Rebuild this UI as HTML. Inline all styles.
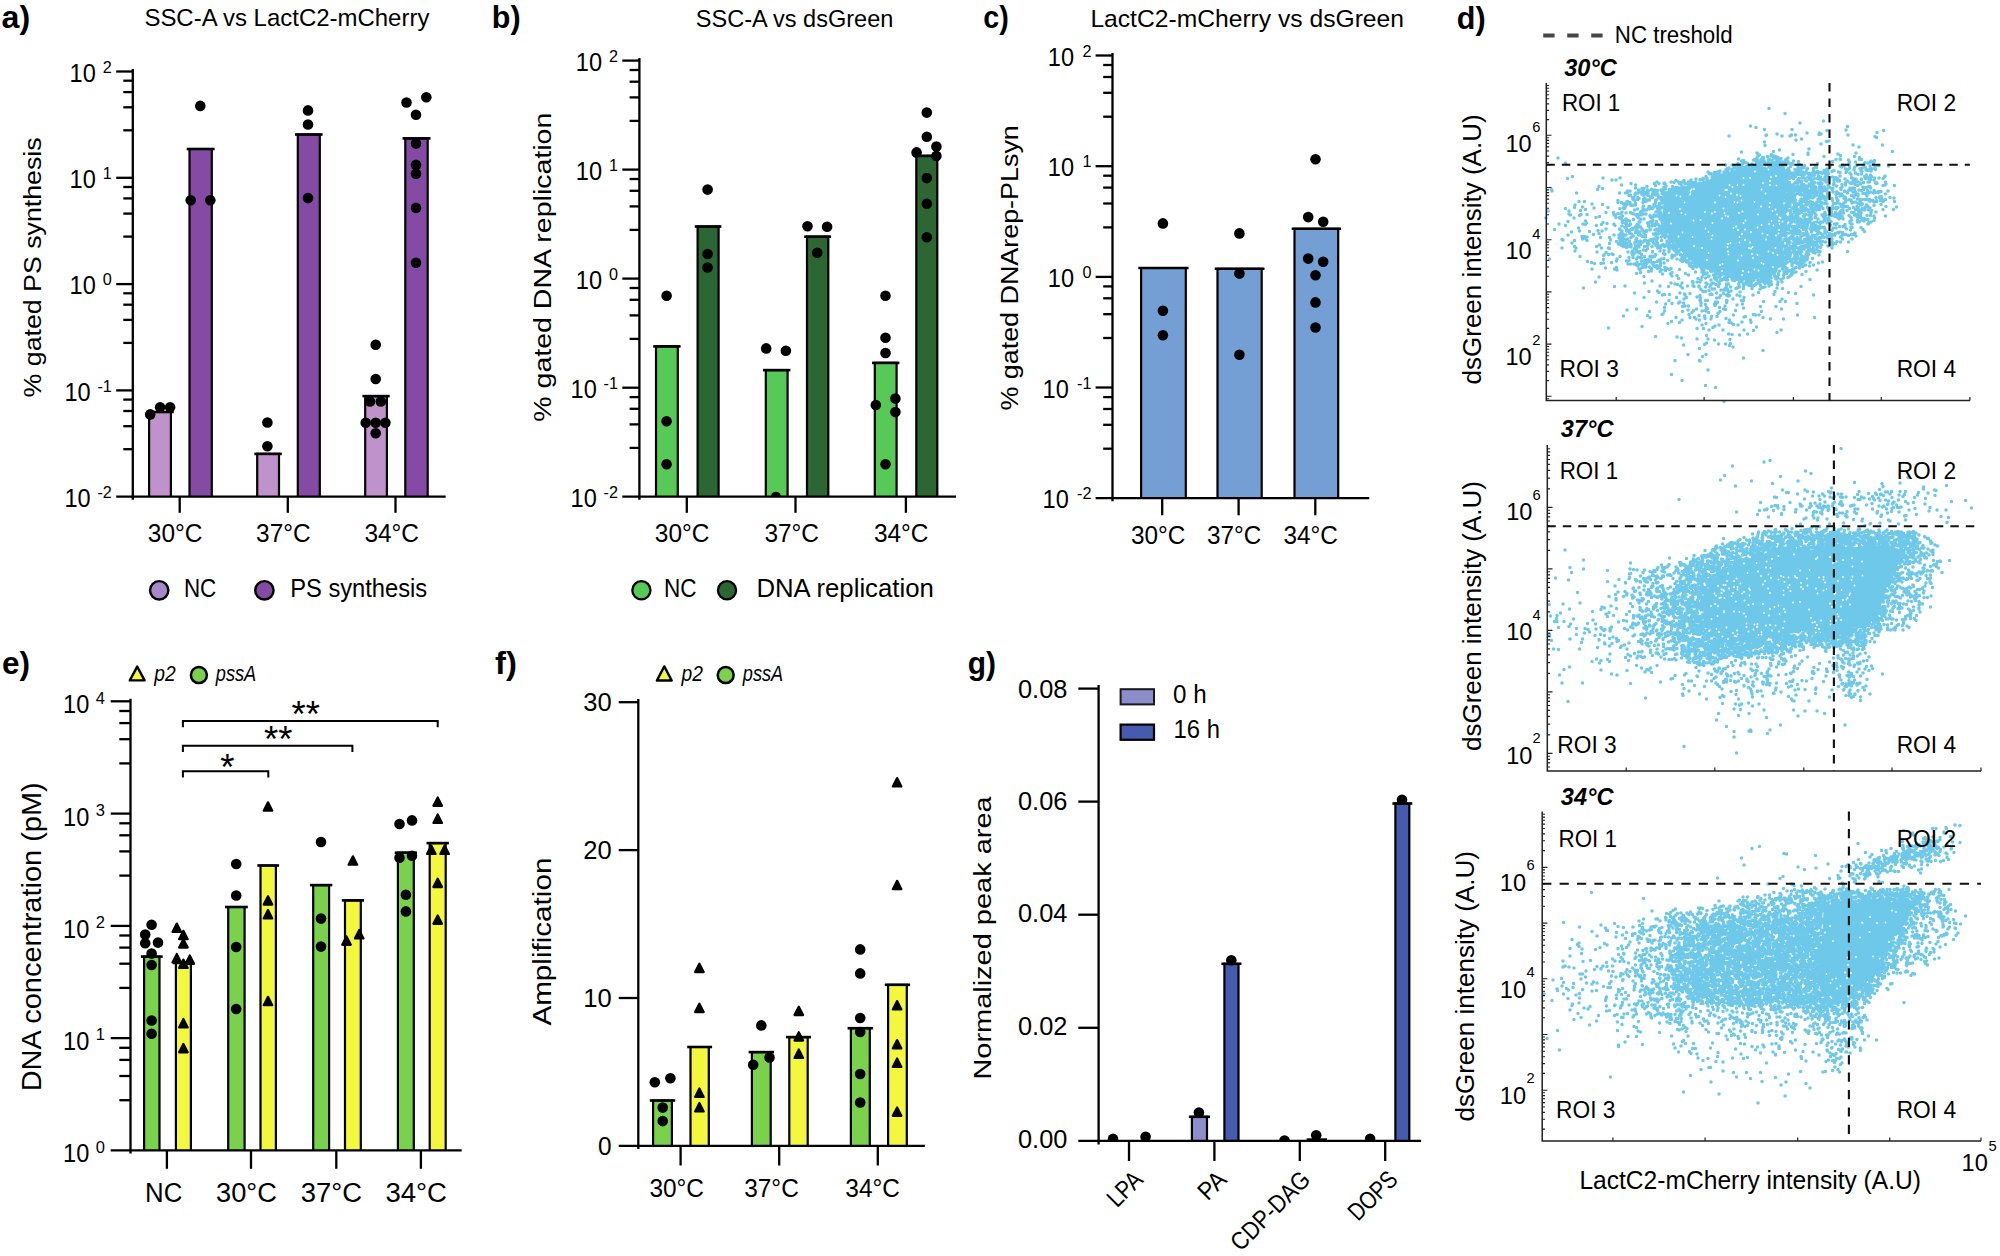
<!DOCTYPE html>
<html lang="en"><head><meta charset="utf-8"><title>Figure</title>
<style>html,body{margin:0;padding:0;background:#fff}svg{display:block}text{font-family:"Liberation Sans",sans-serif;fill:#000}</style>
</head><body>
<svg width="2000" height="1256" viewBox="0 0 2000 1256">
<rect width="2000" height="1256" fill="#fff"/>
<g id="pa">
<text x="1.6" y="27.6" font-size="32" textLength="28.6" lengthAdjust="spacingAndGlyphs" font-weight="bold">a)</text>
<text x="144.4" y="25.8" font-size="24.4" textLength="285" lengthAdjust="spacingAndGlyphs">SSC-A vs LactC2-mCherry</text>
<text x="40.8" y="397.4" font-size="24.4" textLength="260" lengthAdjust="spacingAndGlyphs" transform="rotate(-90 40.8 397.4)">% gated PS synthesis</text>
<path d="M149.1 496.7L149.1 412L170.9 412L170.9 496.7" fill="#c092cb" stroke="#000" stroke-width="2.2"/>
<path d="M146.3 412L173.7 412" stroke="#000" stroke-width="2.6" fill="none"/>
<path d="M189.5 496.7L189.5 149L211.8 149L211.8 496.7" fill="#854ba4" stroke="#000" stroke-width="2.2"/>
<path d="M186.7 149L214.6 149" stroke="#000" stroke-width="2.6" fill="none"/>
<path d="M257.2 496.7L257.2 453.9L279 453.9L279 496.7" fill="#c092cb" stroke="#000" stroke-width="2.2"/>
<path d="M254.4 453.9L281.8 453.9" stroke="#000" stroke-width="2.6" fill="none"/>
<path d="M297.8 496.7L297.8 134.5L319.8 134.5L319.8 496.7" fill="#854ba4" stroke="#000" stroke-width="2.2"/>
<path d="M295 134.5L322.6 134.5" stroke="#000" stroke-width="2.6" fill="none"/>
<path d="M365.2 496.7L365.2 396.1L386.9 396.1L386.9 496.7" fill="#c092cb" stroke="#000" stroke-width="2.2"/>
<path d="M362.4 396.1L389.7 396.1" stroke="#000" stroke-width="2.6" fill="none"/>
<path d="M405.3 496.7L405.3 138.4L427.7 138.4L427.7 496.7" fill="#854ba4" stroke="#000" stroke-width="2.2"/>
<path d="M402.5 138.4L430.5 138.4" stroke="#000" stroke-width="2.6" fill="none"/>
<path d="M132.8 68.9L132.8 499.7" stroke="#000" stroke-width="2.3" fill="none"/>
<path d="M116.2 496.7L445.7 496.7" stroke="#000" stroke-width="2.3" fill="none"/>
<path d="M116.2 71.5L132.8 71.5" stroke="#000" stroke-width="2.3" fill="none"/>
<path d="M123.3 130.3L132.8 130.3" stroke="#000" stroke-width="2.3" fill="none"/>
<path d="M123.3 107.3L132.8 107.3" stroke="#000" stroke-width="2.3" fill="none"/>
<path d="M123.3 92.1L132.8 92.1" stroke="#000" stroke-width="2.3" fill="none"/>
<path d="M123.3 80.7L132.8 80.7" stroke="#000" stroke-width="2.3" fill="none"/>
<text x="111.8" y="72.7" font-size="16.2" text-anchor="end">2</text>
<text x="95.8" y="81.7" font-size="25" text-anchor="end" textLength="26.2" lengthAdjust="spacingAndGlyphs">10</text>
<path d="M116.2 177.8L132.8 177.8" stroke="#000" stroke-width="2.3" fill="none"/>
<path d="M123.3 236.6L132.8 236.6" stroke="#000" stroke-width="2.3" fill="none"/>
<path d="M123.3 213.6L132.8 213.6" stroke="#000" stroke-width="2.3" fill="none"/>
<path d="M123.3 198.4L132.8 198.4" stroke="#000" stroke-width="2.3" fill="none"/>
<path d="M123.3 187L132.8 187" stroke="#000" stroke-width="2.3" fill="none"/>
<text x="111.8" y="179" font-size="16.2" text-anchor="end">1</text>
<text x="95.8" y="188" font-size="25" text-anchor="end" textLength="26.2" lengthAdjust="spacingAndGlyphs">10</text>
<path d="M116.2 284.1L132.8 284.1" stroke="#000" stroke-width="2.3" fill="none"/>
<path d="M123.3 342.9L132.8 342.9" stroke="#000" stroke-width="2.3" fill="none"/>
<path d="M123.3 319.9L132.8 319.9" stroke="#000" stroke-width="2.3" fill="none"/>
<path d="M123.3 304.7L132.8 304.7" stroke="#000" stroke-width="2.3" fill="none"/>
<path d="M123.3 293.3L132.8 293.3" stroke="#000" stroke-width="2.3" fill="none"/>
<text x="111.8" y="285.3" font-size="16.2" text-anchor="end">0</text>
<text x="95.8" y="294.3" font-size="25" text-anchor="end" textLength="26.2" lengthAdjust="spacingAndGlyphs">10</text>
<path d="M116.2 390.4L132.8 390.4" stroke="#000" stroke-width="2.3" fill="none"/>
<path d="M123.3 449.2L132.8 449.2" stroke="#000" stroke-width="2.3" fill="none"/>
<path d="M123.3 426.2L132.8 426.2" stroke="#000" stroke-width="2.3" fill="none"/>
<path d="M123.3 411L132.8 411" stroke="#000" stroke-width="2.3" fill="none"/>
<path d="M123.3 399.6L132.8 399.6" stroke="#000" stroke-width="2.3" fill="none"/>
<text x="111.8" y="391.6" font-size="16.2" text-anchor="end">-1</text>
<text x="90.6" y="400.6" font-size="25" text-anchor="end" textLength="26.2" lengthAdjust="spacingAndGlyphs">10</text>
<text x="111.8" y="497.9" font-size="16.2" text-anchor="end">-2</text>
<text x="90.6" y="506.9" font-size="25" text-anchor="end" textLength="26.2" lengthAdjust="spacingAndGlyphs">10</text>
<path d="M179.7 496.7L179.7 512.8" stroke="#000" stroke-width="2.3" fill="none"/>
<path d="M287.8 496.7L287.8 512.8" stroke="#000" stroke-width="2.3" fill="none"/>
<path d="M395.5 496.7L395.5 512.8" stroke="#000" stroke-width="2.3" fill="none"/>
<circle cx="150.2" cy="414.4" r="5.3"/>
<circle cx="160.1" cy="407.3" r="5.3"/>
<circle cx="170.1" cy="407.3" r="5.3"/>
<circle cx="267.4" cy="422.5" r="5.3"/>
<circle cx="267.4" cy="446.2" r="5.3"/>
<circle cx="375.7" cy="344.8" r="5.3"/>
<circle cx="375.7" cy="379" r="5.3"/>
<circle cx="370" cy="401.4" r="5.3"/>
<circle cx="380.8" cy="401.4" r="5.3"/>
<circle cx="365.7" cy="422.8" r="5.3"/>
<circle cx="375.7" cy="422.8" r="5.3"/>
<circle cx="385.4" cy="422.8" r="5.3"/>
<circle cx="375.7" cy="433.2" r="5.3"/>
<circle cx="200.3" cy="105.9" r="5.3"/>
<circle cx="190.7" cy="200.2" r="5.3"/>
<circle cx="210.3" cy="200.2" r="5.3"/>
<circle cx="308" cy="110.4" r="5.3"/>
<circle cx="308" cy="124.5" r="5.3"/>
<circle cx="308" cy="198.1" r="5.3"/>
<circle cx="406.5" cy="102.5" r="5.3"/>
<circle cx="426.3" cy="97.3" r="5.3"/>
<circle cx="416" cy="114.7" r="5.3"/>
<circle cx="416" cy="143.6" r="5.3"/>
<circle cx="416" cy="164.9" r="5.3"/>
<circle cx="416" cy="173.7" r="5.3"/>
<circle cx="416" cy="207.9" r="5.3"/>
<circle cx="416" cy="262.8" r="5.3"/>
<text x="147.8" y="541.5" font-size="25" textLength="54.6" lengthAdjust="spacingAndGlyphs">30°C</text>
<text x="256.1" y="541.5" font-size="25" textLength="54.6" lengthAdjust="spacingAndGlyphs">37°C</text>
<text x="364.4" y="541.5" font-size="25" textLength="54.6" lengthAdjust="spacingAndGlyphs">34°C</text>
<circle cx="159.2" cy="590.3" r="9.2" fill="#a488c9" stroke="#000" stroke-width="2.4"/>
<text x="183.9" y="597.2" font-size="25" textLength="32.4" lengthAdjust="spacingAndGlyphs">NC</text>
<circle cx="264.4" cy="590.3" r="9.2" fill="#854ba4" stroke="#000" stroke-width="2.4"/>
<text x="290.2" y="597.2" font-size="25" textLength="137" lengthAdjust="spacingAndGlyphs">PS synthesis</text>
</g>
<g id="pb">
<text x="491.8" y="27.6" font-size="32" textLength="28.8" lengthAdjust="spacingAndGlyphs" font-weight="bold">b)</text>
<text x="695.8" y="26.6" font-size="24.4" textLength="197.6" lengthAdjust="spacingAndGlyphs">SSC-A vs dsGreen</text>
<text x="551" y="421.7" font-size="24.4" textLength="309" lengthAdjust="spacingAndGlyphs" transform="rotate(-90 551 421.7)">% gated DNA replication</text>
<path d="M656 496.7L656 346.4L677.8 346.4L677.8 496.7" fill="#57c956" stroke="#000" stroke-width="2.2"/>
<path d="M653.2 346.4L680.6 346.4" stroke="#000" stroke-width="2.6" fill="none"/>
<path d="M697.6 496.7L697.6 226.5L718.6 226.5L718.6 496.7" fill="#2c6733" stroke="#000" stroke-width="2.2"/>
<path d="M694.8 226.5L721.4 226.5" stroke="#000" stroke-width="2.6" fill="none"/>
<path d="M765.8 496.7L765.8 370.1L787.6 370.1L787.6 496.7" fill="#57c956" stroke="#000" stroke-width="2.2"/>
<path d="M763 370.1L790.4 370.1" stroke="#000" stroke-width="2.6" fill="none"/>
<path d="M807 496.7L807 236.7L828.3 236.7L828.3 496.7" fill="#2c6733" stroke="#000" stroke-width="2.2"/>
<path d="M804.2 236.7L831.1 236.7" stroke="#000" stroke-width="2.6" fill="none"/>
<path d="M874.8 496.7L874.8 362.9L896.6 362.9L896.6 496.7" fill="#57c956" stroke="#000" stroke-width="2.2"/>
<path d="M872 362.9L899.4 362.9" stroke="#000" stroke-width="2.6" fill="none"/>
<path d="M916.3 496.7L916.3 155.9L937.3 155.9L937.3 496.7" fill="#2c6733" stroke="#000" stroke-width="2.2"/>
<path d="M913.5 155.9L940.1 155.9" stroke="#000" stroke-width="2.6" fill="none"/>
<path d="M770.9 496.7A5 5 0 0 1 780.9 496.7Z"/>
<path d="M639.4 58.1L639.4 499.7" stroke="#000" stroke-width="2.3" fill="none"/>
<path d="M622.3 496.7L956 496.7" stroke="#000" stroke-width="2.3" fill="none"/>
<path d="M622.3 60.6L639.4 60.6" stroke="#000" stroke-width="2.3" fill="none"/>
<path d="M629.6 120.9L639.4 120.9" stroke="#000" stroke-width="2.3" fill="none"/>
<path d="M629.6 97.4L639.4 97.4" stroke="#000" stroke-width="2.3" fill="none"/>
<path d="M629.6 81.7L639.4 81.7" stroke="#000" stroke-width="2.3" fill="none"/>
<path d="M629.6 70L639.4 70" stroke="#000" stroke-width="2.3" fill="none"/>
<text x="618" y="61.8" font-size="16.2" text-anchor="end">2</text>
<text x="602" y="70.8" font-size="25" text-anchor="end" textLength="26.2" lengthAdjust="spacingAndGlyphs">10</text>
<path d="M622.3 169.6L639.4 169.6" stroke="#000" stroke-width="2.3" fill="none"/>
<path d="M629.6 229.9L639.4 229.9" stroke="#000" stroke-width="2.3" fill="none"/>
<path d="M629.6 206.4L639.4 206.4" stroke="#000" stroke-width="2.3" fill="none"/>
<path d="M629.6 190.8L639.4 190.8" stroke="#000" stroke-width="2.3" fill="none"/>
<path d="M629.6 179L639.4 179" stroke="#000" stroke-width="2.3" fill="none"/>
<text x="618" y="170.8" font-size="16.2" text-anchor="end">1</text>
<text x="602" y="179.8" font-size="25" text-anchor="end" textLength="26.2" lengthAdjust="spacingAndGlyphs">10</text>
<path d="M622.3 278.6L639.4 278.6" stroke="#000" stroke-width="2.3" fill="none"/>
<path d="M629.6 338.9L639.4 338.9" stroke="#000" stroke-width="2.3" fill="none"/>
<path d="M629.6 315.4L639.4 315.4" stroke="#000" stroke-width="2.3" fill="none"/>
<path d="M629.6 299.8L639.4 299.8" stroke="#000" stroke-width="2.3" fill="none"/>
<path d="M629.6 288L639.4 288" stroke="#000" stroke-width="2.3" fill="none"/>
<text x="618" y="279.8" font-size="16.2" text-anchor="end">0</text>
<text x="602" y="288.8" font-size="25" text-anchor="end" textLength="26.2" lengthAdjust="spacingAndGlyphs">10</text>
<path d="M622.3 387.7L639.4 387.7" stroke="#000" stroke-width="2.3" fill="none"/>
<path d="M629.6 447.9L639.4 447.9" stroke="#000" stroke-width="2.3" fill="none"/>
<path d="M629.6 424.4L639.4 424.4" stroke="#000" stroke-width="2.3" fill="none"/>
<path d="M629.6 408.8L639.4 408.8" stroke="#000" stroke-width="2.3" fill="none"/>
<path d="M629.6 397.1L639.4 397.1" stroke="#000" stroke-width="2.3" fill="none"/>
<text x="618" y="388.9" font-size="16.2" text-anchor="end">-1</text>
<text x="596.8" y="397.9" font-size="25" text-anchor="end" textLength="26.2" lengthAdjust="spacingAndGlyphs">10</text>
<text x="618" y="497.9" font-size="16.2" text-anchor="end">-2</text>
<text x="596.8" y="506.9" font-size="25" text-anchor="end" textLength="26.2" lengthAdjust="spacingAndGlyphs">10</text>
<path d="M686.8 496.7L686.8 512.8" stroke="#000" stroke-width="2.3" fill="none"/>
<path d="M795.5 496.7L795.5 512.8" stroke="#000" stroke-width="2.3" fill="none"/>
<path d="M905.9 496.7L905.9 512.8" stroke="#000" stroke-width="2.3" fill="none"/>
<circle cx="666.6" cy="295.8" r="5.3"/>
<circle cx="666.6" cy="421.3" r="5.3"/>
<circle cx="666.6" cy="464.3" r="5.3"/>
<circle cx="766.2" cy="348.4" r="5.3"/>
<circle cx="785.9" cy="350.7" r="5.3"/>
<circle cx="885.5" cy="295.8" r="5.3"/>
<circle cx="885.5" cy="337.7" r="5.3"/>
<circle cx="885.5" cy="353" r="5.3"/>
<circle cx="875.8" cy="405" r="5.3"/>
<circle cx="895.4" cy="398.6" r="5.3"/>
<circle cx="895.4" cy="412.1" r="5.3"/>
<circle cx="885.5" cy="464.3" r="5.3"/>
<circle cx="707.6" cy="189.6" r="5.3"/>
<circle cx="707.6" cy="254" r="5.3"/>
<circle cx="707.6" cy="267.5" r="5.3"/>
<circle cx="807.5" cy="226.2" r="5.3"/>
<circle cx="827.1" cy="226.8" r="5.3"/>
<circle cx="817.2" cy="252.7" r="5.3"/>
<circle cx="926.8" cy="112.6" r="5.3"/>
<circle cx="926.8" cy="136.8" r="5.3"/>
<circle cx="936.4" cy="146.5" r="5.3"/>
<circle cx="916.6" cy="152.4" r="5.3"/>
<circle cx="936.4" cy="155.9" r="5.3"/>
<circle cx="926.8" cy="178.1" r="5.3"/>
<circle cx="926.8" cy="203.8" r="5.3"/>
<circle cx="926.8" cy="237.2" r="5.3"/>
<text x="654.8" y="542" font-size="25" textLength="54.6" lengthAdjust="spacingAndGlyphs">30°C</text>
<text x="764.4" y="542" font-size="25" textLength="54.6" lengthAdjust="spacingAndGlyphs">37°C</text>
<text x="873.9" y="542" font-size="25" textLength="54.6" lengthAdjust="spacingAndGlyphs">34°C</text>
<circle cx="641.4" cy="590.3" r="9.1" fill="#57c956" stroke="#000" stroke-width="2.3"/>
<text x="663.9" y="597.2" font-size="25" textLength="32.6" lengthAdjust="spacingAndGlyphs">NC</text>
<circle cx="727.0" cy="590.3" r="9.1" fill="#2c6733" stroke="#000" stroke-width="2.3"/>
<text x="756.4" y="597.2" font-size="25" textLength="177.4" lengthAdjust="spacingAndGlyphs">DNA replication</text>
</g>
<g id="pc">
<text x="983.2" y="27.6" font-size="32" textLength="25.5" lengthAdjust="spacingAndGlyphs" font-weight="bold">c)</text>
<text x="1090.4" y="26.6" font-size="24.4" textLength="313.6" lengthAdjust="spacingAndGlyphs">LactC2-mCherry vs dsGreen</text>
<text x="1018.2" y="410.6" font-size="24.4" textLength="285.4" lengthAdjust="spacingAndGlyphs" transform="rotate(-90 1018.2 410.6)">% gated DNArep-PLsyn</text>
<path d="M1141.1 498.2L1141.1 268L1185.8 268L1185.8 498.2" fill="#739fd5" stroke="#000" stroke-width="2.2"/>
<path d="M1138.3 268L1188.6 268" stroke="#000" stroke-width="2.6" fill="none"/>
<path d="M1217.5 498.2L1217.5 268.8L1261.7 268.8L1261.7 498.2" fill="#739fd5" stroke="#000" stroke-width="2.2"/>
<path d="M1214.7 268.8L1264.5 268.8" stroke="#000" stroke-width="2.6" fill="none"/>
<path d="M1294.5 498.2L1294.5 228.8L1338.2 228.8L1338.2 498.2" fill="#739fd5" stroke="#000" stroke-width="2.2"/>
<path d="M1291.7 228.8L1341 228.8" stroke="#000" stroke-width="2.6" fill="none"/>
<path d="M1112.5 53L1112.5 501.2" stroke="#000" stroke-width="2.3" fill="none"/>
<path d="M1095.6 498.2L1369.3 498.2" stroke="#000" stroke-width="2.3" fill="none"/>
<path d="M1095.6 55.5L1112.5 55.5" stroke="#000" stroke-width="2.3" fill="none"/>
<path d="M1103.2 116.7L1112.5 116.7" stroke="#000" stroke-width="2.3" fill="none"/>
<path d="M1103.2 92.8L1112.5 92.8" stroke="#000" stroke-width="2.3" fill="none"/>
<path d="M1103.2 77L1112.5 77" stroke="#000" stroke-width="2.3" fill="none"/>
<path d="M1103.2 65L1112.5 65" stroke="#000" stroke-width="2.3" fill="none"/>
<text x="1091.5" y="56.7" font-size="16.2" text-anchor="end">2</text>
<text x="1074" y="65.7" font-size="25" text-anchor="end" textLength="26.2" lengthAdjust="spacingAndGlyphs">10</text>
<path d="M1095.6 166.2L1112.5 166.2" stroke="#000" stroke-width="2.3" fill="none"/>
<path d="M1103.2 227.4L1112.5 227.4" stroke="#000" stroke-width="2.3" fill="none"/>
<path d="M1103.2 203.5L1112.5 203.5" stroke="#000" stroke-width="2.3" fill="none"/>
<path d="M1103.2 187.6L1112.5 187.6" stroke="#000" stroke-width="2.3" fill="none"/>
<path d="M1103.2 175.7L1112.5 175.7" stroke="#000" stroke-width="2.3" fill="none"/>
<text x="1091.5" y="167.4" font-size="16.2" text-anchor="end">1</text>
<text x="1074" y="176.4" font-size="25" text-anchor="end" textLength="26.2" lengthAdjust="spacingAndGlyphs">10</text>
<path d="M1095.6 276.9L1112.5 276.9" stroke="#000" stroke-width="2.3" fill="none"/>
<path d="M1103.2 338L1112.5 338" stroke="#000" stroke-width="2.3" fill="none"/>
<path d="M1103.2 314.2L1112.5 314.2" stroke="#000" stroke-width="2.3" fill="none"/>
<path d="M1103.2 298.3L1112.5 298.3" stroke="#000" stroke-width="2.3" fill="none"/>
<path d="M1103.2 286.4L1112.5 286.4" stroke="#000" stroke-width="2.3" fill="none"/>
<text x="1091.5" y="278.1" font-size="16.2" text-anchor="end">0</text>
<text x="1074" y="287.1" font-size="25" text-anchor="end" textLength="26.2" lengthAdjust="spacingAndGlyphs">10</text>
<path d="M1095.6 387.5L1112.5 387.5" stroke="#000" stroke-width="2.3" fill="none"/>
<path d="M1103.2 448.7L1112.5 448.7" stroke="#000" stroke-width="2.3" fill="none"/>
<path d="M1103.2 424.8L1112.5 424.8" stroke="#000" stroke-width="2.3" fill="none"/>
<path d="M1103.2 409L1112.5 409" stroke="#000" stroke-width="2.3" fill="none"/>
<path d="M1103.2 397.1L1112.5 397.1" stroke="#000" stroke-width="2.3" fill="none"/>
<text x="1091.5" y="388.7" font-size="16.2" text-anchor="end">-1</text>
<text x="1068.8" y="397.7" font-size="25" text-anchor="end" textLength="26.2" lengthAdjust="spacingAndGlyphs">10</text>
<text x="1091.5" y="499.4" font-size="16.2" text-anchor="end">-2</text>
<text x="1068.8" y="508.4" font-size="25" text-anchor="end" textLength="26.2" lengthAdjust="spacingAndGlyphs">10</text>
<path d="M1162.2 498.2L1162.2 515.3" stroke="#000" stroke-width="2.3" fill="none"/>
<path d="M1238.6 498.2L1238.6 515.3" stroke="#000" stroke-width="2.3" fill="none"/>
<path d="M1315.3 498.2L1315.3 515.3" stroke="#000" stroke-width="2.3" fill="none"/>
<circle cx="1162.9" cy="223.4" r="5.3"/>
<circle cx="1162.9" cy="310.8" r="5.3"/>
<circle cx="1162.9" cy="335.2" r="5.3"/>
<circle cx="1239.4" cy="233.4" r="5.3"/>
<circle cx="1239.4" cy="273.6" r="5.3"/>
<circle cx="1239.4" cy="354.8" r="5.3"/>
<circle cx="1315.5" cy="159.2" r="5.3"/>
<circle cx="1308.2" cy="217.1" r="5.3"/>
<circle cx="1323.2" cy="221.7" r="5.3"/>
<circle cx="1308.2" cy="258.6" r="5.3"/>
<circle cx="1323.2" cy="261.7" r="5.3"/>
<circle cx="1315.5" cy="275.2" r="5.3"/>
<circle cx="1315.5" cy="302.4" r="5.3"/>
<circle cx="1315.5" cy="327.5" r="5.3"/>
<text x="1131" y="544.1" font-size="25" textLength="54.4" lengthAdjust="spacingAndGlyphs">30°C</text>
<text x="1206.9" y="544.1" font-size="25" textLength="54.4" lengthAdjust="spacingAndGlyphs">37°C</text>
<text x="1283.4" y="544.1" font-size="25" textLength="54.4" lengthAdjust="spacingAndGlyphs">34°C</text>
</g>
<g id="pe">
<text x="2" y="674.4" font-size="32" textLength="28" lengthAdjust="spacingAndGlyphs" font-weight="bold">e)</text>
<path d="M137.2 666.6L144.6 680.4L129.8 680.4Z" fill="#f3f83e" stroke="#000" stroke-width="2.4" stroke-linejoin="round"/>
<text x="154.2" y="680.8" font-size="21.4" textLength="21.4" lengthAdjust="spacingAndGlyphs" font-style="italic">p2</text>
<circle cx="198.9" cy="675.1" r="8" fill="#7ad24c" stroke="#000" stroke-width="2.5"/>
<text x="215.8" y="680.8" font-size="21.4" textLength="40.4" lengthAdjust="spacingAndGlyphs" font-style="italic">pssA</text>
<text x="41" y="1091.3" font-size="28" textLength="309" lengthAdjust="spacingAndGlyphs" transform="rotate(-90 41 1091.3)">DNA concentration (pM)</text>
<path d="M144.1 1150.4L144.1 956.6L159.5 956.6L159.5 1150.4" fill="#7ad24c" stroke="#000" stroke-width="2.2"/>
<path d="M140.9 956.6L162.7 956.6" stroke="#000" stroke-width="2.6" fill="none"/>
<path d="M175.9 1150.4L175.9 962.9L190.9 962.9L190.9 1150.4" fill="#f3f83e" stroke="#000" stroke-width="2.2"/>
<path d="M172.7 962.9L194.1 962.9" stroke="#000" stroke-width="2.6" fill="none"/>
<path d="M228.2 1150.4L228.2 907L244.6 907L244.6 1150.4" fill="#7ad24c" stroke="#000" stroke-width="2.2"/>
<path d="M225 907L247.8 907" stroke="#000" stroke-width="2.6" fill="none"/>
<path d="M260.5 1150.4L260.5 865.5L275.9 865.5L275.9 1150.4" fill="#f3f83e" stroke="#000" stroke-width="2.2"/>
<path d="M257.3 865.5L279.1 865.5" stroke="#000" stroke-width="2.6" fill="none"/>
<path d="M313.2 1150.4L313.2 885.1L329.1 885.1L329.1 1150.4" fill="#7ad24c" stroke="#000" stroke-width="2.2"/>
<path d="M310 885.1L332.3 885.1" stroke="#000" stroke-width="2.6" fill="none"/>
<path d="M345 1150.4L345 900.4L360.8 900.4L360.8 1150.4" fill="#f3f83e" stroke="#000" stroke-width="2.2"/>
<path d="M341.8 900.4L364 900.4" stroke="#000" stroke-width="2.6" fill="none"/>
<path d="M397.9 1150.4L397.9 852.7L413.8 852.7L413.8 1150.4" fill="#7ad24c" stroke="#000" stroke-width="2.2"/>
<path d="M394.7 852.7L417 852.7" stroke="#000" stroke-width="2.6" fill="none"/>
<path d="M429.7 1150.4L429.7 843.1L445.7 843.1L445.7 1150.4" fill="#f3f83e" stroke="#000" stroke-width="2.2"/>
<path d="M426.5 843.1L448.9 843.1" stroke="#000" stroke-width="2.6" fill="none"/>
<path d="M130.5 698.8L130.5 1153.4" stroke="#000" stroke-width="2.3" fill="none"/>
<path d="M110.7 1150.4L461.7 1150.4" stroke="#000" stroke-width="2.3" fill="none"/>
<path d="M110.7 701.3L130.5 701.3" stroke="#000" stroke-width="2.3" fill="none"/>
<path d="M119.3 763.4L130.5 763.4" stroke="#000" stroke-width="2.3" fill="none"/>
<path d="M119.3 739.2L130.5 739.2" stroke="#000" stroke-width="2.3" fill="none"/>
<path d="M119.3 723.1L130.5 723.1" stroke="#000" stroke-width="2.3" fill="none"/>
<path d="M119.3 711L130.5 711" stroke="#000" stroke-width="2.3" fill="none"/>
<text x="105" y="703.5" font-size="16.5" text-anchor="end">4</text>
<text x="89.3" y="713.3" font-size="25.2" text-anchor="end" textLength="26.2" lengthAdjust="spacingAndGlyphs">10</text>
<path d="M110.7 813.6L130.5 813.6" stroke="#000" stroke-width="2.3" fill="none"/>
<path d="M119.3 875.6L130.5 875.6" stroke="#000" stroke-width="2.3" fill="none"/>
<path d="M119.3 851.4L130.5 851.4" stroke="#000" stroke-width="2.3" fill="none"/>
<path d="M119.3 835.3L130.5 835.3" stroke="#000" stroke-width="2.3" fill="none"/>
<path d="M119.3 823.3L130.5 823.3" stroke="#000" stroke-width="2.3" fill="none"/>
<text x="105" y="815.8" font-size="16.5" text-anchor="end">3</text>
<text x="89.3" y="825.6" font-size="25.2" text-anchor="end" textLength="26.2" lengthAdjust="spacingAndGlyphs">10</text>
<path d="M110.7 925.9L130.5 925.9" stroke="#000" stroke-width="2.3" fill="none"/>
<path d="M119.3 987.9L130.5 987.9" stroke="#000" stroke-width="2.3" fill="none"/>
<path d="M119.3 963.7L130.5 963.7" stroke="#000" stroke-width="2.3" fill="none"/>
<path d="M119.3 947.6L130.5 947.6" stroke="#000" stroke-width="2.3" fill="none"/>
<path d="M119.3 935.5L130.5 935.5" stroke="#000" stroke-width="2.3" fill="none"/>
<text x="105" y="928.1" font-size="16.5" text-anchor="end">2</text>
<text x="89.3" y="937.9" font-size="25.2" text-anchor="end" textLength="26.2" lengthAdjust="spacingAndGlyphs">10</text>
<path d="M110.7 1038.1L130.5 1038.1" stroke="#000" stroke-width="2.3" fill="none"/>
<path d="M119.3 1100.2L130.5 1100.2" stroke="#000" stroke-width="2.3" fill="none"/>
<path d="M119.3 1076L130.5 1076" stroke="#000" stroke-width="2.3" fill="none"/>
<path d="M119.3 1059.9L130.5 1059.9" stroke="#000" stroke-width="2.3" fill="none"/>
<path d="M119.3 1047.8L130.5 1047.8" stroke="#000" stroke-width="2.3" fill="none"/>
<text x="105" y="1040.3" font-size="16.5" text-anchor="end">1</text>
<text x="89.3" y="1050.1" font-size="25.2" text-anchor="end" textLength="26.2" lengthAdjust="spacingAndGlyphs">10</text>
<text x="105" y="1152.6" font-size="16.5" text-anchor="end">0</text>
<text x="89.3" y="1162.4" font-size="25.2" text-anchor="end" textLength="26.2" lengthAdjust="spacingAndGlyphs">10</text>
<path d="M166.9 1150.4L166.9 1168.8" stroke="#000" stroke-width="2.3" fill="none"/>
<path d="M251 1150.4L251 1168.8" stroke="#000" stroke-width="2.3" fill="none"/>
<path d="M336.3 1150.4L336.3 1168.8" stroke="#000" stroke-width="2.3" fill="none"/>
<path d="M420.9 1150.4L420.9 1168.8" stroke="#000" stroke-width="2.3" fill="none"/>
<circle cx="151.6" cy="924.7" r="5.3"/>
<circle cx="145.2" cy="934.6" r="5.3"/>
<circle cx="145.2" cy="943.3" r="5.3"/>
<circle cx="158" cy="942.6" r="5.3"/>
<circle cx="151.6" cy="953.6" r="5.3"/>
<circle cx="151.6" cy="965" r="5.3"/>
<circle cx="151.6" cy="1020.5" r="5.3"/>
<circle cx="151.6" cy="1033.8" r="5.3"/>
<circle cx="236.2" cy="864" r="5.3"/>
<circle cx="236.2" cy="895.5" r="5.3"/>
<circle cx="236.2" cy="947" r="5.3"/>
<circle cx="236.2" cy="1009" r="5.3"/>
<circle cx="321" cy="842" r="5.3"/>
<circle cx="321" cy="918.6" r="5.3"/>
<circle cx="321" cy="946.6" r="5.3"/>
<circle cx="399.5" cy="824" r="5.3"/>
<circle cx="412" cy="820.4" r="5.3"/>
<circle cx="399.5" cy="857.8" r="5.3"/>
<circle cx="412" cy="855.8" r="5.3"/>
<circle cx="405.9" cy="894.8" r="5.3"/>
<circle cx="405.9" cy="911.4" r="5.3"/>
<path d="M176.8 923.6L181.1 932L172.5 932Z" stroke="#000" stroke-width="2.2" stroke-linejoin="round"/>
<path d="M183.4 930.8L187.7 939.2L179.1 939.2Z" stroke="#000" stroke-width="2.2" stroke-linejoin="round"/>
<path d="M183.4 939.2L187.7 947.6L179.1 947.6Z" stroke="#000" stroke-width="2.2" stroke-linejoin="round"/>
<path d="M176.8 954L181.1 962.4L172.5 962.4Z" stroke="#000" stroke-width="2.2" stroke-linejoin="round"/>
<path d="M189.8 955.4L194.1 963.8L185.5 963.8Z" stroke="#000" stroke-width="2.2" stroke-linejoin="round"/>
<path d="M183.4 959.6L187.7 968L179.1 968Z" stroke="#000" stroke-width="2.2" stroke-linejoin="round"/>
<path d="M183.4 1019L187.7 1027.4L179.1 1027.4Z" stroke="#000" stroke-width="2.2" stroke-linejoin="round"/>
<path d="M183.4 1043.9L187.7 1052.3L179.1 1052.3Z" stroke="#000" stroke-width="2.2" stroke-linejoin="round"/>
<path d="M268 802.3L272.3 810.7L263.7 810.7Z" stroke="#000" stroke-width="2.2" stroke-linejoin="round"/>
<path d="M268 896.2L272.3 904.6L263.7 904.6Z" stroke="#000" stroke-width="2.2" stroke-linejoin="round"/>
<path d="M268 910L272.3 918.4L263.7 918.4Z" stroke="#000" stroke-width="2.2" stroke-linejoin="round"/>
<path d="M268 996.8L272.3 1005.2L263.7 1005.2Z" stroke="#000" stroke-width="2.2" stroke-linejoin="round"/>
<path d="M352.9 856.3L357.2 864.7L348.6 864.7Z" stroke="#000" stroke-width="2.2" stroke-linejoin="round"/>
<path d="M346.5 936.4L350.8 944.8L342.2 944.8Z" stroke="#000" stroke-width="2.2" stroke-linejoin="round"/>
<path d="M359.2 930L363.5 938.4L354.9 938.4Z" stroke="#000" stroke-width="2.2" stroke-linejoin="round"/>
<path d="M437.7 797.4L442 805.8L433.4 805.8Z" stroke="#000" stroke-width="2.2" stroke-linejoin="round"/>
<path d="M437.7 814.5L442 822.9L433.4 822.9Z" stroke="#000" stroke-width="2.2" stroke-linejoin="round"/>
<path d="M431.3 845.6L435.6 854L427 854Z" stroke="#000" stroke-width="2.2" stroke-linejoin="round"/>
<path d="M444.6 845.6L448.9 854L440.3 854Z" stroke="#000" stroke-width="2.2" stroke-linejoin="round"/>
<path d="M437.7 878.7L442 887.1L433.4 887.1Z" stroke="#000" stroke-width="2.2" stroke-linejoin="round"/>
<path d="M437.7 915.4L442 923.8L433.4 923.8Z" stroke="#000" stroke-width="2.2" stroke-linejoin="round"/>
<path d="M182.9 727.2L182.9 721L437.7 721L437.7 727.2" fill="none" stroke="#000" stroke-width="2"/>
<text x="305.7" y="726.6" font-size="36.5" text-anchor="middle">**</text>
<path d="M182.9 751.9L182.9 745.7L352.4 745.7L352.4 751.9" fill="none" stroke="#000" stroke-width="2"/>
<text x="278.2" y="752.1" font-size="36.5" text-anchor="middle">**</text>
<path d="M182.9 777.4L182.9 771.2L268.3 771.2L268.3 777.4" fill="none" stroke="#000" stroke-width="2"/>
<text x="227.3" y="780.1" font-size="36.5" text-anchor="middle">*</text>
<text x="145.1" y="1201.9" font-size="28.4" textLength="37.3" lengthAdjust="spacingAndGlyphs">NC</text>
<text x="216" y="1201.9" font-size="28.4" textLength="60.9" lengthAdjust="spacingAndGlyphs">30°C</text>
<text x="300.8" y="1201.9" font-size="28.4" textLength="61.2" lengthAdjust="spacingAndGlyphs">37°C</text>
<text x="385.4" y="1201.9" font-size="28.4" textLength="61.5" lengthAdjust="spacingAndGlyphs">34°C</text>
</g>
<g id="pf">
<text x="495" y="674.4" font-size="32" textLength="21.8" lengthAdjust="spacingAndGlyphs" font-weight="bold">f)</text>
<path d="M664.3 666.4L671.7 680.5L656.9 680.5Z" fill="#f3f83e" stroke="#000" stroke-width="2.4" stroke-linejoin="round"/>
<text x="681.6" y="680.8" font-size="21.4" textLength="21.4" lengthAdjust="spacingAndGlyphs" font-style="italic">p2</text>
<circle cx="725.7" cy="675.1" r="8" fill="#7ad24c" stroke="#000" stroke-width="2.5"/>
<text x="742.8" y="680.8" font-size="21.4" textLength="40.4" lengthAdjust="spacingAndGlyphs" font-style="italic">pssA</text>
<text x="551.2" y="1025.6" font-size="25" textLength="168" lengthAdjust="spacingAndGlyphs" transform="rotate(-90 551.2 1025.6)">Amplification</text>
<path d="M653.1 1145.9L653.1 1100.5L671.9 1100.5L671.9 1145.9" fill="#7ad24c" stroke="#000" stroke-width="2.2"/>
<path d="M649.8 1100.5L675.2 1100.5" stroke="#000" stroke-width="2.6" fill="none"/>
<path d="M690.5 1145.9L690.5 1047L708.8 1047L708.8 1145.9" fill="#f3f83e" stroke="#000" stroke-width="2.2"/>
<path d="M687.2 1047L712.1 1047" stroke="#000" stroke-width="2.6" fill="none"/>
<path d="M751.9 1145.9L751.9 1052.1L770.7 1052.1L770.7 1145.9" fill="#7ad24c" stroke="#000" stroke-width="2.2"/>
<path d="M748.6 1052.1L774 1052.1" stroke="#000" stroke-width="2.6" fill="none"/>
<path d="M789.3 1145.9L789.3 1037.1L807.7 1037.1L807.7 1145.9" fill="#f3f83e" stroke="#000" stroke-width="2.2"/>
<path d="M786 1037.1L811 1037.1" stroke="#000" stroke-width="2.6" fill="none"/>
<path d="M850.9 1145.9L850.9 1028.2L869.8 1028.2L869.8 1145.9" fill="#7ad24c" stroke="#000" stroke-width="2.2"/>
<path d="M847.6 1028.2L873.1 1028.2" stroke="#000" stroke-width="2.6" fill="none"/>
<path d="M888.1 1145.9L888.1 984.8L906.8 984.8L906.8 1145.9" fill="#f3f83e" stroke="#000" stroke-width="2.2"/>
<path d="M884.8 984.8L910.1 984.8" stroke="#000" stroke-width="2.6" fill="none"/>
<path d="M638.3 698.9L638.3 1148.9" stroke="#000" stroke-width="2.3" fill="none"/>
<path d="M618.7 1145.9L924.9 1145.9" stroke="#000" stroke-width="2.3" fill="none"/>
<path d="M618.7 702.2L638.3 702.2" stroke="#000" stroke-width="2.3" fill="none"/>
<text x="611.6" y="711.1" font-size="25" text-anchor="end" textLength="28.4" lengthAdjust="spacingAndGlyphs">30</text>
<path d="M618.7 850.1L638.3 850.1" stroke="#000" stroke-width="2.3" fill="none"/>
<text x="611.6" y="859" font-size="25" text-anchor="end" textLength="28.4" lengthAdjust="spacingAndGlyphs">20</text>
<path d="M618.7 998L638.3 998" stroke="#000" stroke-width="2.3" fill="none"/>
<text x="611.6" y="1006.9" font-size="25" text-anchor="end" textLength="28.4" lengthAdjust="spacingAndGlyphs">10</text>
<text x="611.6" y="1154.8" font-size="25" text-anchor="end" textLength="13.6" lengthAdjust="spacingAndGlyphs">0</text>
<path d="M680.6 1145.9L680.6 1165.5" stroke="#000" stroke-width="2.3" fill="none"/>
<path d="M779.2 1145.9L779.2 1165.5" stroke="#000" stroke-width="2.3" fill="none"/>
<path d="M877.8 1145.9L877.8 1165.5" stroke="#000" stroke-width="2.3" fill="none"/>
<circle cx="654.8" cy="1082.2" r="5.3"/>
<circle cx="670.4" cy="1078.3" r="5.3"/>
<circle cx="662.7" cy="1107.6" r="5.3"/>
<circle cx="662.7" cy="1121.1" r="5.3"/>
<circle cx="761.3" cy="1025.4" r="5.3"/>
<circle cx="753.2" cy="1064.8" r="5.3"/>
<circle cx="769.5" cy="1057.5" r="5.3"/>
<circle cx="860.2" cy="949.4" r="5.3"/>
<circle cx="860.2" cy="973.4" r="5.3"/>
<circle cx="860.2" cy="1018" r="5.3"/>
<circle cx="860.2" cy="1032" r="5.3"/>
<circle cx="860.2" cy="1074" r="5.3"/>
<circle cx="860.2" cy="1102.5" r="5.3"/>
<path d="M699.4 963.7L703.7 972.1L695.1 972.1Z" stroke="#000" stroke-width="2.2" stroke-linejoin="round"/>
<path d="M699.4 1003.7L703.7 1012.1L695.1 1012.1Z" stroke="#000" stroke-width="2.2" stroke-linejoin="round"/>
<path d="M699.4 1088.5L703.7 1096.9L695.1 1096.9Z" stroke="#000" stroke-width="2.2" stroke-linejoin="round"/>
<path d="M699.4 1103L703.7 1111.4L695.1 1111.4Z" stroke="#000" stroke-width="2.2" stroke-linejoin="round"/>
<path d="M798.8 1006.7L803.1 1015.1L794.5 1015.1Z" stroke="#000" stroke-width="2.2" stroke-linejoin="round"/>
<path d="M798.8 1032.2L803.1 1040.6L794.5 1040.6Z" stroke="#000" stroke-width="2.2" stroke-linejoin="round"/>
<path d="M798.8 1049.5L803.1 1057.9L794.5 1057.9Z" stroke="#000" stroke-width="2.2" stroke-linejoin="round"/>
<path d="M897.1 778.1L901.4 786.5L892.8 786.5Z" stroke="#000" stroke-width="2.2" stroke-linejoin="round"/>
<path d="M897.1 880.8L901.4 889.2L892.8 889.2Z" stroke="#000" stroke-width="2.2" stroke-linejoin="round"/>
<path d="M897.1 1001.1L901.4 1009.5L892.8 1009.5Z" stroke="#000" stroke-width="2.2" stroke-linejoin="round"/>
<path d="M897.1 1040.1L901.4 1048.5L892.8 1048.5Z" stroke="#000" stroke-width="2.2" stroke-linejoin="round"/>
<path d="M897.1 1058.5L901.4 1066.9L892.8 1066.9Z" stroke="#000" stroke-width="2.2" stroke-linejoin="round"/>
<path d="M897.1 1107.4L901.4 1115.8L892.8 1115.8Z" stroke="#000" stroke-width="2.2" stroke-linejoin="round"/>
<text x="649.4" y="1196.8" font-size="25" textLength="54.6" lengthAdjust="spacingAndGlyphs">30°C</text>
<text x="744.2" y="1196.8" font-size="25" textLength="54.6" lengthAdjust="spacingAndGlyphs">37°C</text>
<text x="845.3" y="1196.8" font-size="25" textLength="54.6" lengthAdjust="spacingAndGlyphs">34°C</text>
</g>
<g id="pg">
<text x="967.8" y="673.6" font-size="32" textLength="28.2" lengthAdjust="spacingAndGlyphs" font-weight="bold">g)</text>
<text x="991.1" y="1079.6" font-size="24.4" textLength="283.2" lengthAdjust="spacingAndGlyphs" transform="rotate(-90 991.1 1079.6)">Normalized peak area</text>
<rect x="1120.6" y="689.2" width="33.4" height="15.2" fill="#8d8dcb" stroke="#1a1a1a" stroke-width="2"/>
<text x="1173" y="703.1" font-size="25" textLength="33.6" lengthAdjust="spacingAndGlyphs">0 h</text>
<rect x="1120.6" y="724.6" width="33.4" height="15.2" fill="#465aae" stroke="#000" stroke-width="2.2"/>
<text x="1173.5" y="738.2" font-size="25" textLength="46.4" lengthAdjust="spacingAndGlyphs">16 h</text>
<path d="M1191.9 1140.8L1191.9 1116.8L1207 1116.8L1207 1140.8" fill="#8d8dcb" stroke="#000" stroke-width="2.2"/>
<path d="M1188.9 1116.8L1210 1116.8" stroke="#000" stroke-width="2.6" fill="none"/>
<path d="M1224.4 1140.8L1224.4 963.8L1238.5 963.8L1238.5 1140.8" fill="#465aae" stroke="#000" stroke-width="2.2"/>
<path d="M1221.4 963.8L1241.5 963.8" stroke="#000" stroke-width="2.6" fill="none"/>
<path d="M1395.4 1140.8L1395.4 803.5L1409.3 803.5L1409.3 1140.8" fill="#465aae" stroke="#000" stroke-width="2.2"/>
<path d="M1392.4 803.5L1412.3 803.5" stroke="#000" stroke-width="2.6" fill="none"/>
<path d="M1306.6 1139.5L1327 1139.5" stroke="#000" stroke-width="2.4" fill="none"/>
<path d="M1098.6 685L1098.6 1144.4" stroke="#000" stroke-width="2.3" fill="none"/>
<path d="M1078.3 1140.8L1421.1 1140.8" stroke="#000" stroke-width="2.3" fill="none"/>
<path d="M1078.3 688.6L1098.8 688.6" stroke="#000" stroke-width="2.3" fill="none"/>
<text x="1018" y="698" font-size="25" textLength="49.4" lengthAdjust="spacingAndGlyphs">0.08</text>
<path d="M1078.3 801.6L1098.8 801.6" stroke="#000" stroke-width="2.3" fill="none"/>
<text x="1018" y="810.2" font-size="25" textLength="49.4" lengthAdjust="spacingAndGlyphs">0.06</text>
<path d="M1078.3 914.7L1098.8 914.7" stroke="#000" stroke-width="2.3" fill="none"/>
<text x="1018" y="922.4" font-size="25" textLength="49.4" lengthAdjust="spacingAndGlyphs">0.04</text>
<path d="M1078.3 1027.8L1098.8 1027.8" stroke="#000" stroke-width="2.3" fill="none"/>
<text x="1018" y="1034.6" font-size="25" textLength="49.4" lengthAdjust="spacingAndGlyphs">0.02</text>
<text x="1018" y="1148" font-size="25" textLength="49.4" lengthAdjust="spacingAndGlyphs">0.00</text>
<path d="M1129 1140.8L1129 1161" stroke="#000" stroke-width="2.3" fill="none"/>
<path d="M1214.4 1140.8L1214.4 1161" stroke="#000" stroke-width="2.3" fill="none"/>
<path d="M1299.8 1140.8L1299.8 1161" stroke="#000" stroke-width="2.3" fill="none"/>
<path d="M1385.2 1140.8L1385.2 1161" stroke="#000" stroke-width="2.3" fill="none"/>
<clipPath id="cg"><rect x="1090" y="600" width="340" height="541.8"/></clipPath>
<g clip-path="url(#cg)">
<circle cx="1113" cy="1138.9" r="5.3"/>
<circle cx="1145.6" cy="1136.7" r="5.3"/>
<circle cx="1198.9" cy="1112.6" r="5.3"/>
<circle cx="1231.3" cy="960.2" r="5.3"/>
<circle cx="1284.5" cy="1140.6" r="5.3"/>
<circle cx="1316.2" cy="1135.3" r="5.3"/>
<circle cx="1370.1" cy="1138.7" r="5.3"/>
<circle cx="1402" cy="799.8" r="5.3"/>
</g>
<text x="1144.4" y="1181.1" font-size="25" text-anchor="end" textLength="38.9" lengthAdjust="spacingAndGlyphs" transform="rotate(-45 1144.4 1181.1)">LPA</text>
<text x="1228.1" y="1181.1" font-size="25" text-anchor="end" textLength="28.9" lengthAdjust="spacingAndGlyphs" transform="rotate(-45 1228.1 1181.1)">PA</text>
<text x="1311.8" y="1181.1" font-size="25" text-anchor="end" textLength="100.8" lengthAdjust="spacingAndGlyphs" transform="rotate(-45 1311.8 1181.1)">CDP-DAG</text>
<text x="1399.1" y="1181.1" font-size="25" text-anchor="end" textLength="58" lengthAdjust="spacingAndGlyphs" transform="rotate(-45 1399.1 1181.1)">DOPS</text>
</g>
<g id="pd">
<text x="1456.8" y="28.5" font-size="32" textLength="28.8" lengthAdjust="spacingAndGlyphs" font-weight="bold">d)</text>
<path d="M1543.2 35.5L1602.6 35.5" stroke="#474747" stroke-width="4.2" stroke-dasharray="11.4 12.6" fill="none"/>
<text x="1614.8" y="42.9" font-size="23" textLength="117.8" lengthAdjust="spacingAndGlyphs">NC treshold</text>
<path d="M1664.8 191.6L1697.6 183L1723.9 175.1L1742.3 166.2L1773.8 160.9L1784.3 165.4L1789.5 183.8L1783 202.1L1788.2 220.5L1781.7 240.2L1785.6 259.9L1771.2 277L1739.6 280.9L1705.5 269.1L1688.4 258.6L1670 237.6L1662.1 216.6Z" fill="#6dc8ea"/>
<g transform="scale(.5)"><path d="M3521 564h0M3655 343h0M3594 380h0M3613 518h0M3511 322h0M3408 536h0M3599 530h0M3522 552h0M3585 329h0M3572 434h0M3601 386h0M3625 447h0M3630 427h0M3583 550h0M3631 415h0M3584 379h0M3602 374h0M3555 332h0M3609 439h0M3594 423h0M3608 484h0M3559 542h0M3361 509h0M3621 488h0M3588 460h0M3565 507h0M3572 394h0M3570 529h0M3634 390h0M3583 473h0M3552 317h0M3648 341h0M3622 434h0M3584 376h0M3331 450h0M3629 365h0M3640 345h0M3330 439h0M3446 559h0M3576 323h0M3537 560h0M3371 520h0M3575 377h0M3395 529h0M3513 554h0M3594 456h0M3623 424h0M3477 318h0M3451 330h0M3530 328h0M3334 444h0M3561 527h0M3364 517h0M3574 350h0M3627 487h0M3587 322h0M3650 465h0M3342 478h0M3636 503h0M3636 346h0M3587 502h0M3604 402h0M3544 540h0M3591 480h0M3571 361h0M3646 444h0M3604 377h0M3430 352h0M3565 538h0M3468 347h0M3624 422h0M3616 487h0M3576 410h0M3398 367h0M3608 377h0M3580 347h0M3580 395h0M3596 361h0M3608 433h0M3535 313h0M3582 395h0M3504 328h0M3637 479h0M3633 488h0M3594 459h0M3586 496h0M3487 321h0M3607 458h0M3599 467h0M3620 525h0M3591 488h0M3619 444h0M3615 440h0M3469 561h0M3337 485h0M3542 312h0M3636 366h0M3578 502h0M3623 430h0M3602 405h0M3616 394h0M3658 438h0M3406 357h0M3591 409h0M3637 481h0M3633 383h0M3527 562h0M3601 476h0M3423 543h0M3611 530h0M3596 443h0M3582 545h0M3509 334h0M3661 450h0M3483 337h0M3464 344h0M3449 351h0M3611 470h0M3613 404h0M3624 461h0M3517 566h0M3631 388h0M3525 575h0M3429 349h0M3604 351h0M3615 337h0M3580 410h0M3354 499h0M3580 552h0M3396 557h0M3590 525h0M3602 515h0M3527 316h0M3571 330h0M3599 381h0M3638 510h0M3576 316h0M3503 564h0M3626 345h0M3443 354h0M3584 327h0M3601 385h0M3625 351h0M3425 358h0M3639 455h0M3513 326h0M3584 429h0M3624 349h0M3430 358h0M3559 332h0M3645 455h0M3369 505h0M3601 340h0M3562 317h0M3600 347h0M3590 366h0M3382 533h0M3514 316h0M3474 576h0M3586 546h0M3622 427h0M3431 555h0M3508 571h0M3364 377h0M3526 326h0M3630 457h0M3581 330h0M3493 562h0M3569 328h0M3431 549h0M3569 479h0M3573 543h0M3620 350h0M3569 544h0M3371 503h0M3423 541h0M3484 336h0M3644 393h0M3599 527h0M3609 448h0M3319 407h0M3359 377h0M3361 510h0M3507 320h0M3602 363h0M3597 487h0M3597 340h0M3614 519h0M3326 450h0M3510 319h0M3334 462h0M3587 437h0M3402 525h0M3330 401h0M3364 517h0M3326 452h0M3588 459h0M3521 571h0M3590 399h0M3439 349h0M3569 529h0M3595 525h0M3501 571h0M3394 531h0M3590 418h0M3352 495h0M3618 485h0M3599 500h0M3623 348h0M3591 491h0M3588 400h0M3628 421h0M3425 350h0M3336 454h0M3593 341h0M3572 394h0M3603 348h0M3585 543h0M3339 485h0M3386 522h0M3407 358h0M3617 503h0M3560 475h0M3369 518h0M3588 435h0M3627 496h0M3576 420h0M3615 450h0M3649 434h0M3629 409h0M3572 319h0M3568 535h0M3549 314h0M3613 362h0M3538 556h0M3571 378h0M3630 392h0M3579 466h0M3632 490h0M3579 506h0M3489 568h0M3606 526h0M3662 420h0M3606 349h0M3584 393h0M3465 348h0M3608 335h0M3315 431h0M3596 387h0M3517 551h0M3461 349h0M3632 413h0M3659 473h0M3661 428h0M3608 418h0M3348 365h0M3636 463h0M3573 540h0M3647 359h0M3593 468h0M3343 472h0M3575 398h0M3591 389h0M3570 515h0M3339 380h0M3352 375h0M3479 574h0M3570 464h0M3572 525h0M3598 346h0M3628 484h0M3570 528h0M3488 556h0M3590 426h0M3469 331h0M3581 379h0M3443 350h0M3500 556h0M3591 345h0M3563 498h0M3627 421h0M3613 507h0M3537 566h0M3572 320h0M3633 461h0M3543 309h0M3630 471h0M3581 551h0M3572 374h0M3580 347h0M3440 549h0M3453 573h0M3566 340h0M3476 327h0M3623 475h0M3579 503h0M3624 366h0M3574 466h0M3331 416h0M3616 468h0M3439 545h0M3595 372h0M3573 506h0M3673 395h0M3594 437h0M3610 479h0M3430 547h0M3592 535h0M3609 421h0M3612 401h0M3371 513h0M3631 374h0M3331 391h0M3352 361h0M3584 372h0M3611 457h0M3577 405h0M3404 536h0M3338 476h0M3650 425h0M3591 511h0M3616 407h0M3448 344h0M3577 459h0M3589 507h0M3570 422h0M3582 398h0M3559 322h0M3445 357h0M3589 413h0M3335 424h0M3574 389h0M3632 386h0M3631 334h0M3440 343h0M3390 531h0M3638 414h0M3534 327h0M3405 537h0M3560 329h0M3625 378h0M3618 405h0M3343 496h0M3627 337h0M3587 493h0M3591 464h0M3573 391h0M3587 480h0M3637 418h0M3516 327h0M3579 327h0M3625 372h0M3571 472h0M3509 554h0M3631 378h0M3602 370h0M3496 553h0M3590 444h0M3597 364h0M3584 477h0M3614 373h0M3581 509h0M3586 441h0M3336 489h0M3630 453h0M3655 437h0M3616 420h0M3597 408h0M3639 475h0M3457 568h0M3580 422h0M3335 491h0M3598 388h0M3568 480h0M3593 435h0M3656 492h0M3316 449h0M3573 481h0M3603 390h0M3585 455h0M3619 474h0M3610 360h0M3604 512h0M3574 511h0M3616 309h0M3477 332h0M3628 379h0M3559 322h0M3620 441h0M3580 398h0M3348 500h0M3631 390h0M3562 324h0M3628 500h0M3603 446h0M3584 350h0M3357 364h0M3464 554h0M3594 452h0M3624 482h0M3572 399h0M3605 344h0M3390 529h0M3618 430h0M3458 336h0M3611 394h0M3354 508h0M3616 490h0M3493 563h0M3592 412h0M3568 529h0M3587 440h0M3620 393h0M3641 376h0M3617 381h0M3625 369h0M3593 430h0M3313 458h0M3616 354h0M3470 553h0M3437 343h0M3317 421h0M3453 568h0M3623 459h0M3564 486h0M3458 337h0M3600 463h0M3657 420h0M3571 469h0M3530 555h0M3338 390h0M3592 351h0M3602 415h0M3430 543h0M3524 326h0M3561 483h0M3591 400h0M3515 324h0M3504 563h0M3483 322h0M3616 347h0M3368 503h0M3455 554h0M3574 435h0M3646 379h0M3580 442h0M3617 499h0M3414 361h0M3627 455h0M3612 481h0M3586 399h0M3498 563h0M3513 555h0M3611 491h0M3479 563h0M3579 478h0M3624 409h0M3529 324h0M3596 518h0M3599 531h0M3362 376h0M3359 490h0M3613 478h0M3593 407h0M3613 464h0M3567 349h0M3650 437h0M3570 471h0M3642 397h0M3600 422h0M3581 493h0M3635 453h0M3379 509h0M3418 536h0M3610 445h0M3593 347h0M3585 349h0M3605 353h0M3569 328h0M3400 360h0M3614 508h0M3634 483h0M3590 377h0M3319 425h0M3345 377h0M3585 538h0M3465 560h0M3592 467h0M3326 436h0M3566 527h0M3614 339h0M3551 324h0M3595 481h0M3571 323h0M3609 479h0M3625 517h0M3574 456h0M3608 498h0M3562 408h0M3528 565h0M3584 417h0M3577 354h0M3432 355h0M3601 508h0M3326 380h0M3587 382h0M3589 398h0M3603 500h0M3575 544h0M3556 564h0M3342 454h0M3566 531h0M3421 537h0M3652 402h0M3628 471h0M3381 365h0M3607 522h0M3477 568h0M3376 374h0M3336 438h0M3567 460h0M3456 547h0M3541 564h0M3600 389h0M3566 428h0M3407 549h0M3616 388h0M3321 496h0M3597 386h0M3575 410h0M3563 416h0M3607 369h0M3654 338h0M3647 434h0M3587 404h0M3560 532h0M3580 433h0M3621 499h0M3366 514h0M3606 456h0M3585 467h0M3648 475h0M3610 394h0M3321 456h0M3548 316h0M3650 399h0M3609 403h0M3595 496h0M3338 395h0M3609 390h0M3557 547h0M3635 384h0M3456 338h0M3582 465h0M3650 459h0M3465 554h0M3516 560h0M3599 534h0M3520 329h0M3590 433h0M3347 480h0M3609 429h0M3571 364h0M3498 552h0M3366 511h0M3640 372h0M3595 418h0M3615 516h0M3602 418h0M3578 380h0M3365 523h0M3617 509h0M3628 394h0M3509 551h0M3632 430h0M3577 397h0M3572 440h0M3342 364h0M3615 513h0M3595 425h0M3430 558h0M3638 458h0M3594 484h0M3604 493h0M3596 466h0M3622 417h0M3555 553h0M3515 329h0M3590 484h0M3465 330h0M3648 429h0M3408 527h0M3503 562h0M3618 479h0M3591 419h0M3487 573h0M3633 492h0M3457 553h0M3618 372h0M3456 343h0M3575 421h0M3371 506h0M3362 369h0M3565 534h0M3634 343h0M3368 521h0M3634 409h0M3586 382h0M3603 455h0M3331 451h0M3640 382h0M3619 370h0M3327 470h0M3625 382h0M3379 376h0M3334 419h0M3654 396h0M3592 462h0M3419 348h0M3641 495h0M3632 451h0M3640 503h0M3324 406h0M3648 435h0M3595 444h0M3641 445h0M3571 468h0M3635 412h0M3654 364h0M3612 385h0M3599 329h0M3619 444h0M3600 402h0M3427 550h0M3394 372h0M3573 537h0M3570 472h0M3597 328h0M3593 382h0M3484 561h0M3613 490h0M3650 345h0M3622 390h0M3570 412h0M3588 517h0M3578 399h0M3591 348h0M3602 524h0M3625 471h0M3537 321h0M3610 422h0M3641 359h0M3601 383h0M3393 532h0M3544 545h0M3534 556h0M3354 481h0M3374 511h0M3589 507h0M3576 386h0M3338 460h0M3649 357h0M3675 402h0M3370 368h0M3583 375h0M3345 483h0M3362 369h0M3598 357h0M3414 357h0M3613 407h0M3422 347h0M3600 451h0M3658 391h0M3649 455h0M3610 468h0M3638 377h0M3577 365h0M3349 500h0M3582 432h0M3617 484h0M3644 405h0M3624 424h0M3522 559h0M3336 461h0M3577 456h0M3501 569h0M3377 370h0M3455 350h0M3544 321h0M3612 372h0M3400 359h0M3629 357h0M3595 408h0M3586 351h0M3547 540h0M3639 374h0M3588 349h0M3331 457h0M3603 405h0M3385 365h0M3313 443h0M3605 484h0M3605 380h0M3629 391h0M3519 310h0M3346 475h0M3623 502h0M3514 306h0M3647 376h0M3654 472h0M3602 486h0M3640 453h0M3664 496h0M3614 456h0M3592 364h0M3567 516h0M3649 441h0M3465 338h0M3568 402h0M3496 566h0M3622 390h0M3570 324h0M3382 360h0M3579 365h0M3439 350h0M3570 507h0M3581 453h0M3653 358h0M3345 382h0M3606 335h0M3546 327h0M3576 517h0M3356 375h0M3596 504h0M3581 333h0M3530 563h0M3621 479h0M3565 324h0M3568 459h0M3523 328h0M3597 496h0M3611 439h0M3590 515h0M3380 518h0M3558 318h0M3483 333h0M3654 383h0M3620 348h0M3429 345h0M3359 367h0M3513 317h0M3586 540h0M3619 347h0M3623 438h0M3382 364h0M3620 501h0M3647 360h0M3599 484h0M3623 384h0M3572 520h0M3512 319h0M3340 470h0M3391 364h0M3580 505h0M3607 432h0M3408 541h0M3331 391h0M3606 517h0M3414 546h0M3564 400h0M3578 345h0M3628 445h0M3366 374h0M3642 408h0M3559 525h0M3645 396h0M3534 551h0M3585 389h0M3628 498h0M3586 373h0M3390 527h0M3590 352h0M3385 525h0M3640 357h0M3559 319h0M3601 411h0M3640 447h0M3550 554h0M3623 364h0M3569 548h0M3667 369h0M3455 337h0M3432 569h0M3464 557h0M3594 452h0M3575 507h0M3633 420h0M3440 342h0M3475 335h0M3312 424h0M3580 541h0M3584 398h0M3574 478h0M3403 523h0M3625 377h0M3616 504h0M3346 377h0M3562 494h0M3577 389h0M3578 504h0M3427 566h0M3499 333h0M3439 356h0M3461 548h0M3588 503h0M3598 349h0M3546 544h0M3625 373h0M3631 435h0M3573 493h0M3620 425h0M3579 477h0M3585 378h0M3608 449h0M3464 341h0M3602 404h0M3538 330h0M3323 454h0M3470 557h0M3330 452h0M3645 374h0M3328 367h0M3580 512h0M3580 513h0M3610 357h0M3379 531h0M3589 453h0M3625 450h0M3452 345h0M3623 377h0M3562 498h0M3571 535h0M3589 409h0M3556 529h0M3589 462h0M3318 424h0M3624 475h0M3568 544h0M3429 360h0M3640 402h0M3579 372h0M3651 397h0M3608 397h0M3571 502h0M3612 409h0M3610 453h0M3593 425h0M3620 559h0M3644 455h0M3449 555h0M3644 430h0M3604 442h0M3611 518h0M3598 461h0M3573 370h0M3364 377h0M3601 440h0M3516 312h0M3574 393h0M3582 370h0M3328 462h0M3622 382h0M3578 450h0M3598 427h0M3442 561h0M3637 526h0M3332 453h0M3620 387h0M3594 508h0M3571 345h0M3636 398h0M3609 331h0M3478 339h0M3630 408h0M3596 359h0M3576 555h0M3651 484h0M3420 364h0M3416 344h0M3624 483h0M3326 434h0M3656 371h0M3605 333h0M3331 398h0M3572 499h0M3443 352h0M3566 426h0M3642 410h0M3567 556h0M3571 498h0M3583 377h0M3604 356h0M3567 348h0M3393 534h0M3593 508h0M3603 504h0M3655 351h0M3591 512h0M3495 327h0M3597 445h0M3377 364h0M3522 319h0M3581 422h0M3610 514h0M3616 504h0M3638 402h0M3537 318h0M3585 453h0M3354 495h0M3643 388h0M3665 469h0M3588 492h0M3589 481h0M3322 380h0M3585 383h0M3653 464h0M3544 330h0M3640 385h0M3436 351h0M3484 564h0M3611 515h0M3627 447h0M3453 340h0M3612 457h0M3590 536h0M3604 422h0M3598 501h0M3596 448h0M3408 365h0M3542 563h0M3608 379h0M3403 535h0M3528 321h0M3588 437h0M3313 460h0M3542 556h0M3619 475h0M3590 348h0M3643 414h0M3616 445h0M3621 458h0M3606 336h0M3331 442h0M3581 427h0M3649 345h0M3565 485h0M3565 400h0M3549 542h0M3508 334h0M3361 500h0M3331 448h0M3479 556h0M3386 369h0M3499 333h0M3620 444h0M3578 487h0M3607 443h0M3598 363h0M3316 420h0M3582 519h0M3573 507h0M3618 359h0M3591 353h0M3580 441h0M3574 537h0M3603 411h0M3406 583h0M3569 493h0M3340 385h0M3332 467h0M3593 515h0M3614 513h0M3594 475h0M3323 452h0M3594 607h0M3412 353h0M3603 425h0M3652 394h0M3580 451h0M3435 555h0M3613 463h0M3582 390h0M3552 558h0M3651 349h0M3647 393h0M3567 550h0M3650 462h0M3324 415h0M3573 353h0M3636 493h0M3615 451h0M3533 556h0M3359 365h0M3602 472h0M3615 474h0M3614 503h0M3371 367h0M3640 414h0M3332 490h0M3597 362h0M3641 444h0M3573 408h0M3634 499h0M3576 387h0M3583 347h0M3577 337h0M3646 470h0M3552 554h0M3589 497h0M3339 379h0M3574 403h0M3609 492h0M3640 414h0M3612 483h0M3620 412h0M3627 505h0M3402 534h0M3525 556h0M3627 459h0M3628 382h0M3642 467h0M3650 355h0M3452 560h0M3370 501h0M3608 383h0M3366 515h0M3575 488h0M3519 325h0M3635 494h0M3332 372h0M3562 559h0M3646 417h0M3581 384h0M3593 495h0M3323 401h0M3645 524h0M3354 503h0M3573 491h0M3575 511h0M3430 348h0M3353 477h0M3602 406h0M3531 559h0M3652 346h0M3603 424h0M3578 479h0M3564 327h0M3601 522h0M3573 401h0M3566 489h0M3557 549h0M3573 506h0M3580 485h0M3614 408h0M3597 446h0M3352 504h0M3375 504h0M3659 432h0M3424 355h0M3617 397h0M3616 374h0M3616 439h0M3327 441h0M3600 529h0M3580 379h0M3380 526h0M3578 341h0M3651 466h0M3635 468h0M3556 556h0M3582 462h0M3581 522h0M3552 313h0M3641 484h0M3658 415h0M3620 439h0M3580 371h0M3609 384h0M3636 383h0M3597 479h0M3610 450h0M3583 385h0M3567 466h0M3658 357h0M3520 578h0M3386 537h0M3432 552h0M3465 554h0M3358 502h0M3591 523h0M3643 367h0M3333 472h0M3534 564h0M3630 428h0M3331 424h0M3325 414h0M3536 564h0M3655 476h0M3634 444h0M3612 343h0M3575 517h0M3589 485h0M3662 376h0M3573 419h0M3520 324h0M3614 494h0M3341 465h0M3561 335h0M3483 304h0M3636 458h0M3652 430h0M3420 364h0M3603 472h0M3535 566h0M3643 490h0M3626 455h0M3612 465h0M3576 351h0M3580 476h0M3529 550h0M3634 540h0M3623 464h0M3589 394h0M3592 544h0M3368 361h0M3573 453h0M3324 460h0M3587 499h0M3639 358h0M3610 522h0M3637 419h0M3634 404h0M3641 486h0M3607 459h0M3580 451h0M3602 440h0M3604 484h0M3515 322h0M3593 412h0M3595 440h0M3569 471h0M3333 426h0M3631 390h0M3382 531h0M3572 419h0M3575 524h0M3592 511h0M3620 436h0M3554 554h0M3421 536h0M3632 486h0M3614 483h0M3627 349h0M3596 335h0M3525 315h0M3580 499h0M3586 542h0M3588 375h0M3571 321h0M3576 496h0M3434 345h0M3501 335h0M3392 358h0M3609 481h0M3627 386h0M3590 512h0M3635 343h0M3630 435h0M3644 474h0M3330 406h0M3587 476h0M3645 483h0M3611 346h0M3526 547h0M3586 455h0M3625 405h0M3581 436h0M3621 436h0M3569 536h0M3528 558h0M3483 337h0M3456 550h0M3591 374h0M3590 509h0M3612 429h0M3550 533h0M3587 498h0M3515 321h0M3608 350h0M3584 519h0M3573 378h0M3322 430h0M3376 510h0M3622 356h0M3607 470h0M3651 464h0M3613 377h0M3655 415h0M3320 461h0M3530 567h0M3439 355h0M3569 505h0M3341 490h0M3373 524h0M3626 491h0M3664 496h0M3595 448h0M3659 431h0M3508 560h0M3585 373h0M3586 309h0M3475 328h0M3655 388h0M3547 315h0M3612 382h0M3619 532h0M3649 381h0M3555 318h0M3543 569h0M3575 483h0M3321 434h0M3511 331h0M3574 340h0M3493 333h0M3473 336h0M3530 574h0M3381 532h0M3625 415h0M3404 539h0M3474 559h0M3584 524h0M3358 503h0M3664 431h0M3329 441h0M3608 452h0M3572 423h0M3512 553h0M3586 466h0M3618 368h0M3602 365h0M3530 557h0M3642 345h0M3649 407h0M3592 518h0M3573 547h0M3591 406h0M3312 432h0M3511 569h0M3567 395h0M3481 330h0M3350 494h0M3335 435h0M3623 450h0M3555 569h0M3401 532h0M3659 479h0M3621 351h0M3596 409h0M3327 384h0M3631 477h0M3641 388h0M3527 315h0M3578 439h0M3616 397h0M3587 491h0M3594 467h0M3526 320h0M3609 449h0M3577 413h0M3399 532h0M3635 491h0M3614 419h0M3410 366h0M3619 493h0M3483 559h0M3614 375h0M3639 419h0M3526 317h0M3589 377h0M3624 372h0M3566 418h0M3576 348h0M3625 473h0M3582 377h0M3627 342h0M3332 461h0M3587 384h0M3327 400h0M3579 357h0M3572 472h0M3583 354h0M3382 372h0M3601 336h0M3639 368h0M3571 451h0M3319 396h0M3591 493h0M3636 438h0M3331 462h0M3627 530h0M3623 418h0M3576 381h0M3600 364h0M3464 330h0M3469 336h0M3378 510h0M3616 481h0M3587 398h0M3641 357h0M3593 429h0M3386 368h0M3619 487h0M3623 478h0M3348 493h0M3292 428h0M3539 319h0M3632 461h0M3561 407h0M3644 389h0M3344 516h0M3380 367h0M3543 544h0M3587 487h0M3616 386h0M3430 557h0M3597 463h0M3590 504h0M3612 510h0M3535 328h0M3572 459h0M3638 465h0M3625 396h0M3588 464h0M3616 392h0M3583 444h0M3572 380h0M3444 549h0M3586 385h0M3588 350h0M3639 393h0M3554 324h0M3334 440h0M3573 467h0M3573 409h0M3573 526h0M3577 503h0M3330 438h0M3612 417h0M3528 324h0M3639 411h0M3606 467h0M3621 403h0M3635 384h0M3595 512h0M3582 329h0M3549 550h0M3622 455h0M3406 360h0M3631 346h0M3625 422h0M3632 474h0M3590 455h0M3629 499h0M3409 547h0M3629 350h0M3606 533h0M3574 408h0M3570 433h0M3457 346h0M3548 312h0M3501 560h0M3452 339h0M3514 566h0M3595 366h0M3434 547h0M3625 379h0M3552 541h0M3305 437h0M3603 532h0M3603 363h0M3640 358h0M3365 494h0M3600 518h0M3631 429h0M3614 504h0M3635 458h0M3576 511h0M3585 353h0M3592 414h0M3607 372h0M3422 560h0M3582 446h0M3538 547h0M3604 549h0M3616 391h0M3573 416h0M3619 480h0M3364 515h0M3574 496h0M3609 416h0M3556 315h0M3617 423h0M3598 497h0M3582 505h0M3630 506h0M3641 446h0M3577 453h0M3335 436h0M3476 334h0M3650 341h0M3612 382h0M3657 359h0M3636 345h0M3573 458h0M3642 372h0M3583 462h0M3581 424h0M3611 402h0M3539 565h0M3610 392h0M3587 357h0M3547 303h0M3455 579h0M3418 363h0M3391 367h0M3524 325h0M3418 552h0M3619 493h0M3486 325h0M3558 323h0M3570 465h0M3598 453h0M3590 464h0M3641 354h0M3640 478h0M3340 483h0M3578 367h0M3601 375h0M3593 487h0M3375 367h0M3334 415h0M3584 528h0M3587 346h0M3619 396h0M3586 404h0M3639 357h0M3481 334h0M3613 410h0M3611 372h0M3576 326h0M3545 326h0M3602 493h0M3599 536h0M3532 326h0M3644 347h0M3590 503h0M3354 492h0M3566 459h0M3496 560h0M3588 500h0M3572 481h0M3646 382h0M3597 323h0M3654 379h0M3637 352h0M3339 473h0M3365 364h0M3588 423h0M3580 497h0M3428 359h0M3641 365h0M3339 539h0M3591 376h0M3595 372h0M3580 413h0M3588 368h0M3595 528h0M3345 491h0M3560 473h0M3579 398h0M3605 486h0M3606 412h0M3610 384h0M3406 545h0M3630 486h0M3590 460h0M3628 371h0M3628 385h0M3404 544h0M3573 344h0M3551 332h0M3595 454h0M3605 453h0M3341 461h0M3609 497h0M3606 390h0M3588 442h0M3537 330h0M3590 339h0M3486 327h0M3569 413h0M3613 382h0M3596 433h0M3377 520h0M3596 436h0M3656 440h0M3446 350h0M3633 335h0M3624 361h0M3328 388h0M3455 551h0M3323 458h0M3580 398h0M3612 543h0M3644 367h0M3596 377h0M3582 453h0M3648 395h0M3498 571h0M3387 525h0M3602 482h0M3634 404h0M3597 505h0M3387 533h0M3379 375h0M3602 438h0M3586 471h0M3318 427h0M3580 345h0M3510 333h0M3572 498h0M3455 560h0M3567 413h0M3379 515h0M3539 566h0M3574 437h0M3604 422h0M3570 359h0M3580 406h0M3611 379h0M3550 536h0M3491 325h0M3456 348h0M3349 490h0M3583 431h0M3560 519h0M3397 528h0M3580 403h0M3330 475h0M3584 531h0M3557 326h0M3433 545h0M3557 322h0M3587 415h0M3334 452h0M3583 431h0M3635 357h0M3602 398h0M3393 526h0M3649 440h0M3315 432h0M3378 527h0M3604 453h0M3572 409h0M3721 435h0M3669 471h0M3723 359h0M3687 426h0M3731 357h0M3707 415h0M3702 435h0M3742 322h0M3665 401h0M3759 394h0M3689 453h0M3680 464h0M3721 366h0M3731 414h0M3684 433h0M3752 424h0M3702 349h0M3714 413h0M3730 334h0M3679 432h0M3741 384h0M3712 472h0M3772 413h0M3729 327h0M3665 323h0M3664 397h0M3709 377h0M3684 369h0M3703 469h0M3725 417h0M3728 437h0M3716 436h0M3712 358h0M3722 425h0M3680 392h0M3681 484h0M3666 486h0M3720 403h0M3641 446h0M3739 399h0M3700 346h0M3789 403h0M3701 460h0M3695 503h0M3736 340h0M3669 448h0M3717 421h0M3743 421h0M3672 431h0M3710 383h0M3754 366h0M3692 402h0M3685 436h0M3675 362h0M3762 383h0M3721 431h0M3718 398h0M3631 453h0M3672 319h0M3758 356h0M3713 331h0M3718 430h0M3666 456h0M3723 348h0M3741 337h0M3674 447h0M3676 415h0M3684 426h0M3693 344h0M3711 386h0M3721 368h0M3674 398h0M3685 391h0M3697 471h0M3771 399h0M3698 327h0M3678 387h0M3686 438h0M3732 338h0M3738 445h0M3703 367h0M3706 384h0M3691 413h0M3656 345h0M3736 419h0M3751 366h0M3761 401h0M3730 325h0M3718 430h0M3671 487h0M3706 362h0M3713 388h0M3716 349h0M3729 420h0M3737 373h0M3661 427h0M3683 334h0M3734 431h0M3706 405h0M3661 419h0M3688 397h0M3761 400h0M3713 429h0M3726 387h0M3680 345h0M3691 398h0M3679 453h0M3722 341h0M3766 419h0M3730 399h0M3671 425h0M3673 358h0M3735 399h0M3748 441h0M3659 485h0M3689 382h0M3709 366h0M3759 384h0M3709 391h0M3702 400h0M3682 434h0M3711 404h0M3677 344h0M3683 413h0M3722 410h0M3658 374h0M3672 389h0M3789 371h0M3677 428h0M3758 331h0M3691 404h0M3747 386h0M3721 410h0M3664 478h0M3741 431h0M3716 407h0M3666 417h0M3671 355h0M3749 321h0M3654 408h0M3726 374h0M3769 354h0M3748 381h0M3692 469h0M3700 446h0M3769 354h0M3676 436h0M3684 471h0M3681 319h0M3726 459h0M3709 430h0M3692 345h0M3735 381h0M3726 437h0M3711 364h0M3750 383h0M3700 442h0M3668 360h0M3722 455h0M3716 364h0M3673 418h0M3702 454h0M3676 465h0M3738 358h0M3716 391h0M3669 432h0M3741 359h0M3690 394h0M3697 320h0M3662 443h0M3777 332h0M3682 435h0M3742 342h0M3717 428h0M3652 364h0M3753 401h0M3657 338h0M3766 403h0M3704 455h0M3753 367h0M3680 352h0M3687 414h0M3688 469h0M3694 421h0M3685 478h0M3746 401h0M3695 362h0M3741 402h0M3770 352h0M3657 355h0M3709 335h0M3763 393h0M3757 383h0M3710 466h0M3738 401h0M3662 474h0M3652 378h0M3681 474h0M3753 403h0M3732 387h0M3703 355h0M3702 380h0M3735 355h0M3718 444h0M3751 339h0M3725 336h0M3762 409h0M3724 399h0M3690 449h0M3680 318h0M3689 469h0M3672 415h0M3703 440h0M3682 379h0M3696 382h0M3736 439h0M3659 471h0M3699 336h0M3635 327h0M3689 383h0M3723 319h0M3722 406h0M3676 401h0M3674 483h0M3679 362h0M3703 391h0M3652 347h0M3716 407h0M3718 426h0M3750 336h0M3672 407h0M3697 484h0M3698 329h0M3742 444h0M3686 453h0M3681 311h0M3703 403h0M3683 388h0M3660 333h0M3741 350h0M3671 467h0M3681 377h0M3709 313h0M3700 379h0M3666 487h0M3691 338h0M3741 376h0M3787 419h0M3733 350h0M3747 324h0M3744 338h0M3711 419h0M3732 340h0M3743 401h0M3714 331h0M3759 395h0M3686 420h0M3748 432h0M3736 326h0M3698 431h0M3680 332h0M3704 478h0M3673 372h0M3716 388h0M3683 421h0M3748 411h0M3714 433h0M3712 359h0M3729 353h0M3718 380h0M3654 446h0M3698 380h0M3729 463h0M3720 337h0M3715 398h0M3655 341h0M3673 356h0M3691 395h0M3724 419h0M3724 440h0M3688 406h0M3686 425h0M3693 413h0M3690 454h0M3771 399h0M3684 374h0M3711 324h0M3729 327h0M3666 377h0M3704 406h0M3740 356h0M3742 426h0M3691 366h0M3736 413h0M3734 392h0M3770 370h0M3731 375h0M3715 371h0M3766 371h0M3686 409h0M3748 324h0M3680 408h0M3724 343h0M3663 424h0M3776 382h0M3749 404h0M3667 407h0M3708 425h0M3666 430h0M3740 416h0M3675 405h0M3771 388h0M3730 387h0M3672 449h0M3679 361h0M3749 436h0M3657 348h0M3764 398h0M3736 341h0M3752 395h0M3673 384h0M3731 357h0M3659 467h0M3748 360h0M3664 484h0M3715 444h0M3736 364h0M3756 331h0M3665 354h0M3696 339h0M3706 357h0M3700 376h0M3747 326h0M3663 488h0M3695 413h0M3677 466h0M3665 413h0M3680 332h0M3691 370h0M3710 369h0M3688 332h0M3737 446h0M3668 341h0M3665 490h0M3700 366h0M3668 365h0M3715 441h0M3743 338h0M3780 395h0M3771 432h0M3737 386h0M3740 332h0M3664 461h0M3788 396h0M3772 368h0M3729 416h0M3670 433h0M3682 430h0M3728 442h0M3739 402h0M3720 420h0M3767 402h0M3685 465h0M3750 385h0M3680 424h0M3719 315h0M3739 420h0M3693 458h0M3698 399h0M3743 353h0M3716 415h0M3740 421h0M3658 440h0M3736 448h0M3678 438h0M3727 379h0M3750 335h0M3733 375h0M3703 425h0M3727 365h0M3649 374h0M3699 417h0M3723 342h0M3793 414h0M3704 448h0M3711 389h0M3739 364h0M3741 324h0M3747 403h0M3723 358h0M3756 385h0M3766 357h0M3725 408h0M3771 364h0M3749 356h0M3706 376h0M3672 456h0M3732 439h0M3666 384h0M3660 444h0M3685 330h0M3699 324h0M3719 319h0M3695 386h0M3733 410h0M3665 379h0M3723 381h0M3686 413h0M3719 443h0M3706 469h0M3676 358h0M3674 384h0M3664 343h0M3708 340h0M3711 346h0M3740 373h0M3708 395h0M3690 358h0M3668 370h0M3699 332h0M3330 493h0M3304 493h0M3242 466h0M3294 373h0M3281 482h0M3267 472h0M3253 495h0M3340 491h0M3320 438h0M3294 384h0M3280 464h0M3287 462h0M3319 410h0M3274 525h0M3253 443h0M3262 367h0M3281 545h0M3256 486h0M3259 466h0M3291 471h0M3277 470h0M3239 435h0M3290 396h0M3289 528h0M3288 530h0M3281 489h0M3289 481h0M3276 433h0M3306 441h0M3276 386h0M3273 477h0M3302 479h0M3334 482h0M3289 493h0M3276 434h0M3250 455h0M3265 509h0M3290 420h0M3297 382h0M3278 452h0M3296 400h0M3275 449h0M3302 524h0M3270 485h0M3305 503h0M3298 488h0M3264 506h0M3320 502h0M3264 504h0M3312 534h0M3266 399h0M3311 510h0M3319 535h0M3231 430h0M3309 432h0M3300 432h0M3321 460h0M3306 529h0M3331 418h0M3328 375h0M3319 453h0M3298 413h0M3300 458h0M3318 433h0M3288 438h0M3290 400h0M3323 382h0M3289 534h0M3281 454h0M3266 510h0M3265 459h0M3309 532h0M3254 462h0M3253 447h0M3283 528h0M3312 471h0M3339 477h0M3310 533h0M3330 473h0M3271 465h0M3284 389h0M3321 531h0M3299 534h0M3259 482h0M3296 519h0M3329 458h0M3323 540h0M3275 418h0M3252 406h0M3250 416h0M3338 404h0M3315 381h0M3282 470h0M3325 381h0M3316 462h0M3308 409h0M3244 462h0M3240 459h0M3317 468h0M3262 411h0M3276 435h0M3244 479h0M3276 491h0M3311 383h0M3282 385h0M3253 490h0M3326 466h0M3263 468h0M3319 416h0M3300 413h0M3291 474h0M3311 467h0M3278 397h0M3274 458h0M3281 438h0M3252 490h0M3261 528h0M3328 454h0M3305 395h0M3323 398h0M3254 459h0M3256 504h0M3303 443h0M3242 490h0M3262 494h0M3292 534h0M3313 400h0M3330 508h0M3323 474h0M3244 440h0M3310 380h0M3337 463h0M3245 477h0M3230 451h0M3352 476h0M3326 388h0M3313 481h0M3239 487h0M3320 408h0M3303 434h0M3320 543h0M3335 419h0M3243 405h0M3293 420h0M3269 420h0M3319 535h0M3249 409h0M3247 493h0M3308 486h0M3319 533h0M3310 412h0M3266 398h0M3258 391h0M3324 406h0M3286 414h0M3255 385h0M3296 524h0M3279 469h0M3286 405h0M3328 517h0M3287 390h0M3271 407h0M3246 479h0M3323 481h0M3256 528h0M3252 438h0M3320 572h0M3272 430h0M3286 405h0M3254 494h0M3303 379h0M3311 405h0M3347 488h0M3266 427h0M3247 408h0M3267 439h0M3254 405h0M3280 441h0M3257 441h0M3336 452h0M3305 504h0M3263 410h0M3248 417h0M3275 503h0M3252 426h0M3329 436h0M3306 383h0M3328 393h0M3254 403h0M3267 428h0M3305 514h0M3321 425h0M3295 497h0M3271 454h0M3304 393h0M3330 535h0M3247 416h0M3277 505h0M3284 423h0M3301 480h0M3304 452h0M3283 509h0M3258 521h0M3250 440h0M3331 431h0M3239 436h0M3315 416h0M3282 429h0M3310 432h0M3303 436h0M3327 377h0M3313 412h0M3297 482h0M3320 417h0M3270 506h0M3314 364h0M3288 466h0M3283 430h0M3293 525h0M3276 454h0M3328 526h0M3322 452h0M3265 502h0M3333 427h0M3321 461h0M3250 493h0M3316 476h0M3338 502h0M3297 446h0M3317 492h0M3286 421h0M3286 484h0M3266 411h0M3254 409h0M3309 367h0M3288 377h0M3300 513h0M3278 529h0M3301 434h0M3295 497h0M3270 401h0M3304 416h0M3260 405h0M3308 487h0M3221 480h0M3313 481h0M3311 509h0M3296 387h0M3318 520h0M3329 366h0M3286 382h0M3277 380h0M3288 384h0M3318 461h0M3311 400h0M3272 461h0M3284 380h0M3253 462h0M3341 461h0M3305 482h0M3287 534h0M3289 521h0M3268 528h0M3289 531h0M3320 419h0M3280 444h0M3334 537h0M3295 380h0M3271 493h0M3239 386h0M3293 461h0M3269 497h0M3284 429h0M3251 386h0M3251 412h0M3236 405h0M3280 429h0M3317 395h0M3291 530h0M3296 391h0M3328 501h0M3252 470h0M3315 388h0M3284 458h0M3272 386h0M3245 471h0M3245 445h0M3253 522h0M3330 509h0M3238 470h0M3301 520h0M3326 461h0M3315 496h0M3329 493h0M3262 459h0M3297 449h0M3262 426h0M3265 395h0M3275 483h0M3252 492h0M3228 470h0M3338 504h0M3344 515h0M3324 443h0M3260 382h0M3323 466h0M3323 437h0M3299 418h0M3293 521h0M3228 448h0M3261 425h0M3253 453h0M3295 485h0M3308 430h0M3270 389h0M3277 485h0M3289 513h0M3304 379h0M3270 498h0M3276 483h0M3321 526h0M3286 428h0M3307 478h0M3228 449h0M3246 491h0M3259 461h0M3273 500h0M3224 508h0M3345 373h0M3292 481h0M3335 398h0M3280 515h0M3219 497h0M3242 428h0M3318 520h0M3280 539h0M3260 450h0M3287 377h0M3322 428h0M3298 452h0M3284 377h0M3320 492h0M3299 400h0M3338 500h0M3238 476h0M3312 447h0M3261 409h0M3251 485h0M3240 487h0M3318 458h0M3273 530h0M3273 547h0M3289 523h0M3300 431h0M3246 468h0M3329 470h0M3290 428h0M3243 491h0M3315 534h0M3287 500h0M3286 419h0M3335 521h0M3292 388h0M3300 460h0M3212 458h0M3297 452h0M3300 444h0M3318 367h0M3232 435h0M3295 491h0M3315 449h0M3252 479h0M3306 386h0M3277 451h0M3324 387h0M3280 503h0M3240 481h0M3268 395h0M3314 531h0M3271 410h0M3307 531h0M3301 394h0M3308 525h0M3273 496h0M3243 370h0M3293 527h0M3292 403h0M3284 535h0M3236 401h0M3276 514h0M3278 538h0M3276 452h0M3310 460h0M3257 451h0M3325 445h0M3271 370h0M3270 390h0M3265 457h0M3307 414h0M3292 501h0M3315 486h0M3335 449h0M3287 401h0M3276 532h0M3323 518h0M3287 412h0M3307 448h0M3304 512h0M3331 378h0M3315 537h0M3332 424h0M3332 431h0M3261 448h0M3250 478h0M3293 463h0M3261 390h0M3312 491h0M3278 494h0M3246 472h0M3272 480h0M3287 399h0M3237 488h0M3322 395h0M3245 432h0M3305 388h0M3276 395h0M3309 513h0M3342 537h0M3273 518h0M3288 553h0M3307 485h0M3283 516h0M3297 417h0M3243 435h0M3297 543h0M3311 371h0M3284 429h0M3310 451h0M3305 448h0M3277 464h0M3327 507h0M3357 492h0M3271 376h0M3251 447h0M3239 458h0M3303 537h0M3288 399h0M3270 455h0M3336 463h0M3262 475h0M3311 390h0M3334 487h0M3326 489h0M3324 491h0M3312 381h0M3330 368h0M3255 478h0M3275 399h0M3261 488h0M3280 484h0M3249 412h0M3255 382h0M3236 427h0M3262 491h0M3337 495h0M3278 506h0M3312 477h0M3278 444h0M3283 522h0M3317 392h0M3266 515h0M3295 446h0M3274 525h0M3354 518h0M3208 510h0M3224 360h0M3149 415h0M3206 356h0M3171 419h0M3229 538h0M3145 353h0M3171 449h0M3124 479h0M3240 356h0M3103 379h0M3162 429h0M3143 464h0M3203 496h0M3198 467h0M3250 572h0M3233 522h0M3161 421h0M3159 462h0M3196 461h0M3158 403h0M3254 460h0M3205 409h0M3199 490h0M3136 443h0M3226 509h0M3259 442h0M3116 316h0M3175 523h0M3253 450h0M3223 525h0M3131 451h0M3179 463h0M3270 487h0M3207 511h0M3245 483h0M3219 487h0M3217 496h0M3234 518h0M3183 525h0M3187 469h0M3207 526h0M3188 416h0M3195 379h0M3169 473h0M3201 475h0M3198 373h0M3165 478h0M3212 425h0M3257 493h0M3228 430h0M3233 483h0M3285 473h0M3159 431h0M3307 468h0M3135 357h0M3165 414h0M3193 493h0M3184 538h0M3240 513h0M3247 486h0M3243 477h0M3203 449h0M3157 456h0M3144 486h0M3281 424h0M3277 468h0M3240 478h0M3216 415h0M3174 429h0M3173 446h0M3141 430h0M3126 480h0M3232 360h0M3219 475h0M3149 493h0M3136 470h0M3174 481h0M3172 478h0M3202 527h0M3258 515h0M3148 436h0M3305 417h0M3206 445h0M3272 452h0M3255 403h0M3150 410h0M3138 428h0M3109 459h0M3124 496h0M3217 509h0M3099 518h0M3092 436h0M3096 422h0M3153 386h0M3214 447h0M3227 425h0M3138 422h0M3275 429h0M3149 481h0M3131 326h0M3171 442h0M3131 417h0M3205 377h0M3212 505h0M3169 403h0M3207 519h0M3174 474h0M3234 540h0M3244 424h0M3118 448h0M3244 452h0M3193 451h0M3184 408h0M3194 504h0M3150 502h0M3104 382h0M3152 496h0M3242 474h0M3233 535h0M3204 462h0M3166 448h0M3164 473h0M3192 435h0M3240 417h0M3199 433h0M3160 513h0M3189 527h0M3463 549h0M3462 582h0M3463 646h0M3364 566h0M3398 572h0M3487 577h0M3429 556h0M3440 553h0M3345 514h0M3434 543h0M3457 584h0M3373 595h0M3344 607h0M3289 566h0M3412 566h0M3439 549h0M3217 656h0M3386 571h0M3284 653h0M3439 595h0M3357 606h0M3461 574h0M3247 632h0M3439 568h0M3475 576h0M3401 596h0M3467 630h0M3563 618h0M3364 512h0M3320 522h0M3459 640h0M3398 520h0M3315 522h0M3564 564h0M3311 673h0M3480 592h0M3303 542h0M3412 709h0M3417 553h0M3412 548h0M3585 545h0M3430 550h0M3336 647h0M3411 609h0M3329 615h0M3552 613h0M3385 563h0M3339 589h0M3391 544h0M3330 540h0M3298 583h0M3254 620h0M3488 634h0M3365 576h0M3398 574h0M3404 554h0M3417 625h0M3541 638h0M3452 637h0M3410 621h0M3377 550h0M3338 601h0M3627 590h0M3325 590h0M3577 585h0M3387 621h0M3595 630h0M3367 606h0M3400 564h0M3453 601h0M3408 537h0M3430 611h0M3288 595h0M3422 638h0M3361 520h0M3349 495h0M3344 545h0M3411 583h0M3411 574h0M3420 574h0M3487 601h0M3446 660h0M3437 626h0M3369 588h0M3386 565h0M3415 617h0M3376 620h0M3424 567h0M3517 585h0M3492 568h0M3337 573h0M3451 619h0M3325 548h0M3413 615h0M3437 688h0M3550 583h0M3474 610h0M3407 583h0M3331 541h0M3471 621h0M3452 580h0M3447 580h0M3198 554h0M3472 577h0M3191 564h0M3343 643h0M3567 638h0M3384 625h0M3585 538h0M3365 623h0M3494 563h0M3453 605h0M3299 623h0M3439 615h0M3487 569h0M3371 547h0M3400 600h0M3474 590h0M3388 573h0M3357 557h0M3422 569h0M3344 552h0M3523 623h0M3380 635h0M3487 616h0M3425 578h0M3521 613h0M3352 635h0M3450 612h0M3354 551h0M3527 603h0M3506 590h0M3550 544h0M3349 511h0M3359 645h0M3273 618h0M3478 569h0M3438 564h0M3505 572h0M3460 547h0M3519 566h0M3411 601h0M3454 591h0M3404 622h0M3548 589h0M3436 627h0M3602 573h0M3355 569h0M3368 598h0M3423 633h0M3393 527h0M3440 623h0M3431 604h0M3318 585h0M3424 589h0M3502 553h0M3483 601h0M3435 605h0M3435 539h0M3554 665h0M3429 608h0M3350 721h0M3343 643h0M3457 668h0M3418 581h0M3402 579h0M3394 594h0M3530 562h0M3353 595h0M3453 590h0M3414 568h0M3554 576h0M3488 595h0M3314 523h0M3435 604h0M3441 559h0M3560 603h0M3269 586h0M3457 592h0M3433 596h0M3459 591h0M3511 630h0M3442 580h0M3360 604h0M3402 611h0M3538 572h0M3433 586h0M3469 554h0M3495 668h0M3331 608h0M3458 645h0M3564 598h0M3454 601h0M3392 638h0M3329 622h0M3361 572h0M3393 618h0M3326 628h0M3502 563h0M3504 577h0M3350 568h0M3502 569h0M3229 573h0M3295 631h0M3518 630h0M3431 609h0M3342 566h0M3466 598h0M3571 603h0M3412 647h0M3565 577h0M3476 650h0M3447 587h0M3485 608h0M3399 640h0M3313 604h0M3398 631h0M3415 601h0M3375 572h0M3502 645h0M3629 635h0M3513 567h0M3315 582h0M3394 657h0M3401 602h0M3300 635h0M3491 633h0M3394 564h0M3447 618h0M3167 576h0M3513 654h0M3211 536h0M3437 573h0M3518 566h0M3341 548h0M3451 576h0M3441 591h0M3411 556h0M3526 635h0M3400 591h0M3431 610h0M3412 622h0M3452 555h0M3591 587h0M3377 612h0M3359 539h0M3370 590h0M3492 565h0M3402 560h0M3344 510h0M3329 589h0M3324 629h0M3484 644h0M3429 578h0M3456 589h0M3416 740h0M3467 649h0M3451 688h0M3411 771h0M3501 640h0M3367 690h0M3413 686h0M3429 680h0M3378 629h0M3418 660h0M3404 650h0M3416 678h0M3460 679h0M3421 541h0M3400 722h0M3431 775h0M3360 586h0M3389 635h0M3430 652h0M3480 584h0M3507 661h0M3488 660h0M3380 587h0M3413 671h0M3422 588h0M3526 701h0M3426 655h0M3409 689h0M3466 694h0M3448 803h0M3394 678h0M3410 637h0M3409 632h0M3407 657h0M3364 761h0M3370 612h0M3434 633h0M3399 721h0M3479 670h0M3562 660h0M3507 629h0M3364 640h0M3459 691h0M3464 669h0M3438 650h0M3354 674h0M3343 749h0M3363 676h0M3304 562h0M3487 716h0M3365 613h0M3463 646h0M3433 560h0M3399 697h0M3461 687h0M3420 589h0M3376 709h0M3402 606h0M3405 713h0M3750 273h0M3584 259h0M3580 272h0M3529 284h0M3592 280h0M3591 270h0M3512 255h0M3639 266h0M3753 275h0M3614 266h0M3559 300h0M3458 272h0M3638 269h0M3658 282h0M3648 313h0M3603 278h0M3616 306h0M3718 294h0M3642 288h0M3554 268h0M3501 252h0M3642 268h0M3538 217h0M3695 253h0M3564 272h0M3765 290h0M3696 270h0M3570 227h0M3583 270h0M3706 290h0M3785 303h0M3532 271h0M3653 283h0M3647 242h0M3618 298h0M3529 259h0M3712 306h0M3530 291h0M3654 261h0M3533 270h0M3767 261h0M3600 246h0M3692 260h0M3676 308h0M3754 265h0" stroke="#6dc8ea" stroke-width="7.1" stroke-linecap="round" fill="none"/><path d="M3517 541h0M3559 435h0M3506 516h0M3538 448h0M3551 496h0M3363 426h0M3504 508h0M3387 441h0M3456 503h0M3451 394h0M3369 405h0M3469 404h0M3487 446h0M3430 424h0M3444 542h0M3527 528h0M3483 401h0M3456 488h0M3522 413h0M3555 510h0M3447 417h0M3554 429h0M3425 471h0M3430 405h0M3481 392h0M3483 511h0M3388 492h0M3515 510h0M3478 426h0M3454 380h0M3557 467h0M3414 520h0M3528 332h0M3385 474h0M3491 441h0M3484 468h0M3411 457h0M3357 473h0M3540 370h0M3383 379h0M3361 393h0M3515 455h0M3461 486h0M3417 464h0M3444 437h0M3467 456h0M3417 506h0M3472 453h0M3462 387h0M3459 370h0M3410 424h0M3380 389h0M3401 440h0M3449 426h0M3552 471h0M3479 485h0M3558 460h0M3381 382h0M3525 467h0M3523 450h0M3505 494h0M3553 371h0M3440 530h0M3353 391h0M3523 526h0M3445 528h0M3381 387h0M3558 442h0M3551 419h0M3565 443h0M3497 544h0M3404 496h0M3342 447h0M3526 366h0M3509 404h0M3500 356h0M3509 539h0M3485 423h0M3451 431h0M3500 485h0M3523 379h0M3532 479h0M3546 534h0M3535 470h0M3559 448h0M3545 422h0M3540 406h0M3502 464h0M3487 370h0M3533 333h0M3439 391h0M3486 542h0M3484 550h0M3476 521h0M3371 429h0M3457 509h0M3360 418h0M3537 503h0M3365 465h0M3543 442h0M3547 451h0M3388 378h0M3539 414h0M3510 343h0M3516 429h0M3531 387h0M3465 374h0M3490 480h0M3451 380h0M3479 474h0M3498 496h0M3474 390h0M3540 362h0M3561 436h0M3424 427h0M3537 339h0M3552 352h0M3423 478h0M3456 433h0M3475 370h0M3487 356h0M3502 497h0M3338 426h0M3475 405h0M3490 459h0M3455 494h0M3546 506h0M3542 354h0M3476 460h0M3425 446h0" stroke="#fff" stroke-width="3.6" stroke-linecap="round" fill="none"/></g>
<path d="M1546.3 82.9L1546.3 400.5L1969.9 400.5" fill="none" stroke="#222" stroke-width="1.5"/>
<path d="M1546.3 398.7h2.8M1546.3 396.3h5.2M1546.3 380.6h2.8M1546.3 371.4h2.8M1546.3 364.9h2.8M1546.3 359.8h2.8M1546.3 355.7h2.8M1546.3 352.2h2.8M1546.3 349.2h2.8M1546.3 346.5h2.8M1546.3 344.1h5.2M1546.3 328.4h2.8M1546.3 319.2h2.8M1546.3 312.7h2.8M1546.3 307.6h2.8M1546.3 303.5h2.8M1546.3 300h2.8M1546.3 297h2.8M1546.3 294.3h2.8M1546.3 291.9h5.2M1546.3 276.2h2.8M1546.3 267h2.8M1546.3 260.5h2.8M1546.3 255.4h2.8M1546.3 251.3h2.8M1546.3 247.8h2.8M1546.3 244.8h2.8M1546.3 242.1h2.8M1546.3 239.7h5.2M1546.3 224h2.8M1546.3 214.8h2.8M1546.3 208.3h2.8M1546.3 203.2h2.8M1546.3 199.1h2.8M1546.3 195.6h2.8M1546.3 192.6h2.8M1546.3 189.9h2.8M1546.3 187.5h5.2M1546.3 171.8h2.8M1546.3 162.6h2.8M1546.3 156.1h2.8M1546.3 151h2.8M1546.3 146.9h2.8M1546.3 143.4h2.8M1546.3 140.4h2.8M1546.3 137.7h2.8M1546.3 135.3h5.2M1546.3 119.6h2.8M1546.3 110.4h2.8M1546.3 103.9h2.8M1546.3 98.8h2.8M1546.3 94.7h2.8M1546.3 91.2h2.8M1546.3 88.2h2.8M1546.3 85.5h2.8" stroke="#222" stroke-width="1.1" fill="none"/>
<path d="M1616.2 400.5v-3.5M1704.1 400.5v-3.5M1793.4 400.5v-3.5M1881.3 400.5v-3.5M1969.9 400.5v-3.5" stroke="#222" stroke-width="1.2" fill="none"/>
<path d="M1546.3 164.8L1969.9 164.8" stroke="#111" stroke-width="2.1" fill="none" stroke-dasharray="8.5 7"/>
<path d="M1829.5 82.9L1829.5 400.5" stroke="#111" stroke-width="2.1" fill="none" stroke-dasharray="8.5 7"/>
<text x="1561.9" y="110.6" font-size="23.6" textLength="58.4" lengthAdjust="spacingAndGlyphs">ROI 1</text>
<text x="1896.7" y="110.6" font-size="23.6" textLength="59.4" lengthAdjust="spacingAndGlyphs">ROI 2</text>
<text x="1559.5" y="377.2" font-size="23.6" textLength="59.4" lengthAdjust="spacingAndGlyphs">ROI 3</text>
<text x="1896.7" y="377.2" font-size="23.6" textLength="59.4" lengthAdjust="spacingAndGlyphs">ROI 4</text>
<text x="1564.2" y="76.4" font-size="24.2" textLength="52.6" lengthAdjust="spacingAndGlyphs" font-weight="bold" font-style="italic">30°C</text>
<text x="1480.6" y="384.4" font-size="25" textLength="270" lengthAdjust="spacingAndGlyphs" transform="rotate(-90 1480.6 384.4)">dsGreen intensity (A.U)</text>
<text x="1531.6" y="152.4" font-size="24" text-anchor="end" textLength="26.2" lengthAdjust="spacingAndGlyphs">10</text>
<text x="1532.2" y="132" font-size="15" textLength="8.2" lengthAdjust="spacingAndGlyphs">6</text>
<text x="1531.6" y="258.9" font-size="24" text-anchor="end" textLength="26.2" lengthAdjust="spacingAndGlyphs">10</text>
<text x="1532.2" y="238.5" font-size="15" textLength="8.2" lengthAdjust="spacingAndGlyphs">4</text>
<text x="1531.6" y="365.2" font-size="24" text-anchor="end" textLength="26.2" lengthAdjust="spacingAndGlyphs">10</text>
<text x="1532.2" y="344.8" font-size="15" textLength="8.2" lengthAdjust="spacingAndGlyphs">2</text>
<path d="M1721.1 571.8L1736.2 562.4L1760.7 554.8L1775.7 550.1L1819.1 549.2L1858.6 550.1L1877.4 552L1879.3 562.4L1866.1 575.6L1858.6 600.1L1853 618.9L1839.8 630.2L1820.9 632.1L1802.1 630.2L1783.3 635.8L1755 637.7L1730.5 643.4L1719.2 641.5L1711.7 630.2L1704.1 618.9L1702.3 600.1L1711.7 581.2Z" fill="#6dc8ea"/>
<path d="M1826.3 547L1884.5 547L1901.9 549L1903.8 558.6L1891.2 572.2L1883.5 597.4L1877.7 616.8L1865.1 626.5L1845.7 628.4L1826.3 626.5Z" fill="#6dc8ea"/>
<g transform="scale(.5)"><path d="M3523 1289h0M3795 1091h0M3782 1179h0M3779 1094h0M3656 1277h0M3428 1251h0M3661 1073h0M3379 1244h0M3607 1097h0M3372 1211h0M3641 1101h0M3403 1129h0M3810 1086h0M3526 1287h0M3759 1225h0M3420 1252h0M3404 1265h0M3813 1116h0M3483 1300h0M3685 1073h0M3665 1064h0M3423 1172h0M3420 1187h0M3349 1219h0M3691 1282h0M3700 1065h0M3706 1086h0M3670 1292h0M3568 1291h0M3802 1096h0M3374 1216h0M3618 1076h0M3369 1174h0M3551 1059h0M3549 1107h0M3446 1123h0M3772 1196h0M3380 1211h0M3470 1298h0M3729 1086h0M3488 1294h0M3787 1097h0M3412 1247h0M3410 1200h0M3391 1240h0M3427 1254h0M3747 1077h0M3493 1116h0M3403 1153h0M3597 1069h0M3562 1071h0M3692 1102h0M3685 1093h0M3451 1281h0M3550 1283h0M3525 1076h0M3394 1221h0M3419 1194h0M3690 1260h0M3583 1280h0M3395 1283h0M3457 1298h0M3694 1071h0M3325 1251h0M3839 1099h0M3724 1253h0M3619 1087h0M3410 1304h0M3649 1095h0M3717 1080h0M3387 1189h0M3417 1277h0M3541 1109h0M3402 1219h0M3756 1088h0M3446 1283h0M3557 1072h0M3485 1099h0M3747 1101h0M3530 1279h0M3759 1256h0M3413 1299h0M3550 1275h0M3615 1282h0M3765 1090h0M3551 1279h0M3476 1123h0M3639 1283h0M3513 1078h0M3693 1264h0M3590 1277h0M3784 1088h0M3557 1276h0M3381 1144h0M3522 1285h0M3705 1100h0M3509 1119h0M3500 1281h0M3323 1208h0M3609 1092h0M3434 1260h0M3769 1213h0M3445 1304h0M3767 1092h0M3454 1302h0M3623 1261h0M3371 1197h0M3658 1275h0M3725 1289h0M3378 1210h0M3349 1283h0M3408 1331h0M3757 1066h0M3771 1094h0M3356 1224h0M3498 1292h0M3686 1286h0M3654 1266h0M3426 1315h0M3425 1152h0M3582 1091h0M3352 1289h0M3827 1084h0M3786 1074h0M3532 1288h0M3550 1271h0M3717 1250h0M3610 1259h0M3761 1085h0M3561 1089h0M3718 1058h0M3501 1121h0M3436 1137h0M3658 1098h0M3365 1201h0M3408 1203h0M3425 1142h0M3345 1250h0M3389 1204h0M3603 1070h0M3736 1099h0M3383 1173h0M3417 1275h0M3756 1224h0M3583 1272h0M3416 1276h0M3485 1110h0M3510 1102h0M3438 1283h0M3460 1110h0M3446 1279h0M3684 1075h0M3435 1259h0M3392 1214h0M3752 1074h0M3679 1081h0M3601 1098h0M3765 1083h0M3636 1097h0M3511 1082h0M3390 1325h0M3827 1100h0M3658 1292h0M3730 1071h0M3607 1075h0M3685 1286h0M3365 1191h0M3430 1117h0M3381 1224h0M3695 1290h0M3418 1185h0M3485 1294h0M3415 1210h0M3786 1071h0M3524 1106h0M3415 1181h0M3801 1102h0M3395 1301h0M3633 1277h0M3462 1092h0M3438 1126h0M3411 1253h0M3708 1250h0M3409 1243h0M3629 1276h0M3364 1205h0M3424 1113h0M3689 1075h0M3529 1092h0M3741 1084h0M3380 1130h0M3378 1223h0M3376 1257h0M3386 1121h0M3414 1111h0M3423 1288h0M3789 1141h0M3758 1087h0M3489 1101h0M3782 1154h0M3417 1149h0M3636 1261h0M3538 1100h0M3685 1264h0M3386 1154h0M3828 1070h0M3734 1094h0M3486 1283h0M3534 1091h0M3735 1102h0M3468 1312h0M3412 1176h0M3734 1086h0M3395 1256h0M3696 1261h0M3669 1268h0M3694 1258h0M3437 1137h0M3568 1096h0M3580 1071h0M3808 1109h0M3507 1275h0M3578 1271h0M3373 1227h0M3730 1251h0M3619 1281h0M3525 1081h0M3603 1288h0M3766 1092h0M3646 1097h0M3495 1305h0M3384 1143h0M3627 1260h0M3825 1074h0M3436 1278h0M3384 1231h0M3507 1110h0M3463 1308h0M3390 1171h0M3717 1098h0M3602 1103h0M3623 1267h0M3427 1249h0M3448 1303h0M3423 1295h0M3367 1182h0M3701 1272h0M3463 1106h0M3392 1179h0M3506 1096h0M3743 1238h0M3820 1188h0M3347 1242h0M3368 1257h0M3424 1303h0M3372 1183h0M3413 1162h0M3412 1244h0M3691 1262h0M3735 1060h0M3800 1127h0M3550 1066h0M3729 1074h0M3440 1278h0M3395 1208h0M3568 1088h0M3671 1089h0M3349 1224h0M3390 1121h0M3577 1085h0M3657 1093h0M3755 1224h0M3640 1259h0M3484 1095h0M3565 1296h0M3388 1213h0M3357 1146h0M3593 1087h0M3438 1163h0M3338 1245h0M3620 1257h0M3505 1280h0M3641 1095h0M3753 1258h0M3427 1143h0M3329 1217h0M3406 1267h0M3430 1113h0M3343 1208h0M3729 1092h0M3651 1107h0M3574 1285h0M3368 1292h0M3774 1087h0M3393 1256h0M3665 1072h0M3523 1098h0M3696 1098h0M3554 1272h0M3391 1261h0M3436 1146h0M3437 1125h0M3571 1275h0M3368 1193h0M3374 1221h0M3434 1096h0M3483 1317h0M3444 1279h0M3481 1295h0M3402 1241h0M3454 1112h0M3445 1305h0M3816 1115h0M3691 1076h0M3405 1116h0M3364 1175h0M3615 1101h0M3548 1296h0M3643 1282h0M3587 1103h0M3771 1226h0M3799 1157h0M3510 1092h0M3386 1226h0M3444 1121h0M3677 1101h0M3686 1283h0M3497 1106h0M3657 1264h0M3450 1106h0M3631 1270h0M3415 1168h0M3765 1241h0M3636 1098h0M3616 1073h0M3742 1075h0M3542 1086h0M3518 1279h0M3392 1120h0M3430 1137h0M3392 1230h0M3758 1060h0M3728 1077h0M3419 1189h0M3616 1105h0M3480 1115h0M3521 1277h0M3424 1114h0M3509 1306h0M3406 1154h0M3458 1311h0M3523 1303h0M3415 1228h0M3578 1095h0M3442 1280h0M3350 1235h0M3802 1091h0M3581 1078h0M3714 1098h0M3645 1293h0M3389 1302h0M3846 1091h0M3380 1241h0M3370 1210h0M3573 1269h0M3389 1171h0M3679 1098h0M3475 1305h0M3391 1317h0M3759 1084h0M3400 1327h0M3448 1139h0M3533 1276h0M3484 1283h0M3601 1283h0M3447 1096h0M3359 1243h0M3517 1287h0M3561 1273h0M3384 1299h0M3590 1290h0M3511 1113h0M3609 1279h0M3550 1061h0M3384 1226h0M3505 1114h0M3671 1086h0M3727 1087h0M3475 1310h0M3625 1265h0M3564 1302h0M3513 1283h0M3411 1292h0M3592 1104h0M3680 1289h0M3568 1276h0M3695 1269h0M3418 1184h0M3502 1303h0M3393 1302h0M3439 1150h0M3506 1274h0M3405 1254h0M3684 1093h0M3379 1239h0M3501 1123h0M3633 1273h0M3421 1311h0M3504 1103h0M3437 1310h0M3526 1066h0M3763 1236h0M3672 1259h0M3603 1089h0M3604 1274h0M3671 1261h0M3633 1057h0M3536 1089h0M3602 1083h0M3719 1090h0M3437 1139h0M3353 1288h0M3472 1132h0M3554 1295h0M3419 1138h0M3702 1255h0M3802 1109h0M3547 1269h0M3467 1114h0M3667 1255h0M3423 1283h0M3434 1120h0M3392 1214h0M3568 1277h0M3755 1095h0M3505 1099h0M3682 1068h0M3431 1300h0M3686 1263h0M3341 1174h0M3381 1128h0M3407 1160h0M3501 1109h0M3420 1134h0M3692 1084h0M3728 1290h0M3470 1126h0M3410 1236h0M3349 1200h0M3588 1280h0M3599 1274h0M3558 1083h0M3768 1092h0M3539 1110h0M3809 1083h0M3595 1102h0M3380 1153h0M3561 1278h0M3395 1315h0M3473 1293h0M3388 1126h0M3735 1072h0M3532 1296h0M3406 1146h0M3729 1086h0M3651 1060h0M3638 1279h0M3424 1116h0M3576 1106h0M3571 1279h0M3436 1154h0M3387 1298h0M3522 1109h0M3381 1252h0M3490 1118h0M3606 1073h0M3593 1052h0M3401 1178h0M3576 1090h0M3627 1092h0M3527 1285h0M3468 1300h0M3366 1218h0M3797 1067h0M3442 1268h0M3436 1133h0M3685 1263h0M3412 1178h0M3607 1294h0M3615 1080h0M3541 1102h0M3605 1258h0M3691 1086h0M3505 1068h0M3700 1294h0M3712 1078h0M3366 1167h0M3732 1075h0M3756 1098h0M3422 1292h0M3415 1165h0M3458 1093h0M3406 1305h0M3757 1226h0M3712 1260h0M3464 1115h0M3644 1289h0M3361 1243h0M3470 1305h0M3380 1303h0M3388 1234h0M3696 1256h0M3400 1269h0M3799 1074h0M3355 1171h0M3604 1101h0M3387 1302h0M3760 1222h0M3380 1249h0M3400 1159h0M3669 1286h0M3568 1066h0M3683 1083h0M3415 1288h0M3488 1109h0M3630 1104h0M3480 1296h0M3786 1180h0M3580 1300h0M3672 1076h0M3571 1097h0M3783 1181h0M3680 1276h0M3688 1084h0M3512 1117h0M3477 1113h0M3689 1061h0M3760 1097h0M3410 1189h0M3602 1270h0M3374 1316h0M3416 1113h0M3340 1264h0M3770 1076h0M3379 1325h0M3367 1248h0M3680 1088h0M3672 1089h0M3361 1218h0M3694 1252h0M3785 1085h0M3505 1276h0M3428 1322h0M3452 1093h0M3661 1092h0M3791 1149h0M3479 1302h0M3506 1086h0M3442 1292h0M3377 1225h0M3663 1075h0M3592 1259h0M3741 1090h0M3565 1268h0M3360 1233h0M3691 1270h0M3679 1286h0M3540 1103h0M3665 1267h0M3805 1104h0M3453 1290h0M3636 1093h0M3542 1075h0M3723 1285h0M3522 1300h0M3725 1084h0M3751 1243h0M3355 1186h0M3660 1269h0M3508 1092h0M3364 1196h0M3380 1217h0M3776 1206h0M3343 1198h0M3506 1280h0M3787 1093h0M3424 1297h0M3448 1315h0M3371 1311h0M3507 1080h0M3742 1078h0M3377 1203h0M3417 1267h0M3533 1285h0M3603 1278h0M3581 1082h0M3405 1173h0M3370 1281h0M3583 1075h0M3687 1310h0M3395 1200h0M3615 1282h0M3511 1290h0M3435 1273h0M3803 1080h0M3406 1281h0M3484 1092h0M3724 1077h0M3445 1108h0M3584 1097h0M3398 1279h0M3777 1067h0M3547 1087h0M3385 1223h0M3620 1264h0M3553 1285h0M3523 1088h0M3428 1265h0M3582 1296h0M3546 1305h0M3359 1223h0M3619 1267h0M3394 1137h0M3418 1256h0M3834 1078h0M3663 1098h0M3784 1162h0M3610 1102h0M3658 1275h0M3611 1063h0M3360 1163h0M3610 1067h0M3466 1125h0M3729 1094h0M3679 1283h0M3482 1101h0M3589 1102h0M3385 1276h0M3378 1207h0M3436 1137h0M3355 1172h0M3349 1251h0M3764 1079h0M3503 1094h0M3642 1072h0M3548 1285h0M3574 1085h0M3436 1154h0M3642 1289h0M3572 1273h0M3603 1084h0M3348 1221h0M3661 1274h0M3701 1282h0M3402 1188h0M3794 1079h0M3357 1181h0M3840 1085h0M3539 1105h0M3443 1150h0M3804 1102h0M3531 1111h0M3419 1151h0M3696 1276h0M3604 1076h0M3486 1294h0M3564 1069h0M3587 1092h0M3483 1357h0M3782 1103h0M3397 1175h0M3526 1103h0M3476 1299h0M3784 1189h0M3471 1118h0M3413 1136h0M3373 1207h0M3378 1312h0M3488 1282h0M3383 1258h0M3776 1156h0M3526 1303h0M3348 1207h0M3381 1175h0M3395 1294h0M3476 1290h0M3553 1274h0M3819 1068h0M3663 1089h0M3415 1207h0M3623 1085h0M3364 1151h0M3360 1176h0M3410 1251h0M3362 1269h0M3451 1276h0M3624 1263h0M3632 1291h0M3389 1207h0M3748 1247h0M3681 1079h0M3386 1276h0M3448 1304h0M3803 1102h0M3761 1072h0M3443 1310h0M3746 1079h0M3425 1100h0M3354 1297h0M3419 1325h0M3783 1063h0M3413 1164h0M3390 1132h0M3665 1093h0M3592 1105h0M3388 1175h0M3475 1290h0M3567 1079h0M3578 1289h0M3623 1285h0M3388 1111h0M3409 1295h0M3377 1139h0M3484 1100h0M3803 1064h0M3473 1135h0M3563 1309h0M3639 1053h0M3612 1074h0M3651 1302h0M3658 1074h0M3770 1100h0M3499 1309h0M3447 1077h0M3440 1282h0M3619 1260h0M3580 1089h0M3790 1135h0M3540 1084h0M3784 1097h0M3620 1060h0M3804 1078h0M3681 1075h0M3624 1083h0M3737 1097h0M3377 1148h0M3402 1251h0M3403 1236h0M3588 1082h0M3411 1114h0M3440 1145h0M3799 1092h0M3426 1099h0M3619 1094h0M3534 1302h0M3759 1094h0M3480 1102h0M3464 1092h0M3404 1159h0M3662 1276h0M3488 1104h0M3616 1077h0M3700 1085h0M3423 1237h0M3401 1245h0M3406 1280h0M3486 1104h0M3475 1292h0M3751 1097h0M3357 1252h0M3694 1282h0M3788 1085h0M3402 1316h0M3597 1284h0M3396 1178h0M3350 1253h0M3666 1276h0M3809 1083h0M3723 1096h0M3411 1237h0M3522 1115h0M3715 1268h0M3344 1298h0M3685 1267h0M3583 1261h0M3692 1088h0M3423 1328h0M3422 1282h0M3738 1083h0M3462 1139h0M3443 1292h0M3581 1073h0M3435 1282h0M3713 1071h0M3411 1136h0M3627 1103h0M3512 1284h0M3443 1265h0M3812 1122h0M3591 1071h0M3437 1299h0M3396 1258h0M3391 1315h0M3803 1081h0M3406 1199h0M3406 1159h0M3430 1112h0M3570 1268h0M3472 1132h0M3564 1271h0M3424 1295h0M3587 1098h0M3392 1188h0M3537 1306h0M3723 1083h0M3621 1268h0M3361 1249h0M3504 1282h0M3407 1247h0M3701 1272h0M3756 1247h0M3404 1231h0M3427 1324h0M3371 1227h0M3348 1219h0M3403 1112h0M3773 1169h0M3390 1308h0M3666 1099h0M3473 1114h0M3429 1133h0M3411 1219h0M3379 1200h0M3607 1065h0M3696 1099h0M3381 1298h0M3394 1242h0M3384 1242h0M3415 1294h0M3645 1273h0M3380 1252h0M3423 1265h0M3742 1095h0M3638 1067h0M3795 1149h0M3561 1078h0M3590 1066h0M3583 1102h0M3489 1119h0M3385 1193h0M3378 1319h0M3400 1305h0M3378 1304h0M3559 1098h0M3554 1299h0M3518 1102h0M3376 1157h0M3669 1057h0M3694 1075h0M3421 1307h0M3555 1078h0M3565 1081h0M3837 1098h0M3688 1074h0M3779 1067h0M3446 1122h0M3405 1287h0M3724 1065h0M3422 1176h0M3523 1290h0M3654 1079h0M3611 1262h0M3545 1077h0M3417 1195h0M3821 1112h0M3411 1153h0M3440 1145h0M3752 1260h0M3518 1307h0M3444 1282h0M3656 1269h0M3408 1232h0M3452 1139h0M3722 1094h0M3372 1140h0M3334 1227h0M3646 1066h0M3458 1291h0M3385 1235h0M3676 1269h0M3334 1215h0M3465 1307h0M3602 1258h0M3432 1266h0M3416 1160h0M3613 1074h0M3620 1078h0M3714 1273h0M3556 1297h0M3473 1096h0M3712 1284h0M3735 1098h0M3538 1295h0M3625 1076h0M3665 1271h0M3784 1161h0M3346 1216h0M3631 1270h0M3710 1082h0M3403 1170h0M3692 1079h0M3777 1201h0M3347 1223h0M3463 1132h0M3834 1080h0M3718 1081h0M3470 1119h0M3515 1074h0M3381 1285h0M3722 1248h0M3367 1262h0M3579 1072h0M3645 1091h0M3659 1294h0M3344 1187h0M3530 1115h0M3376 1241h0M3396 1156h0M3397 1198h0M3392 1138h0M3348 1204h0M3639 1074h0M3707 1086h0M3521 1115h0M3425 1250h0M3701 1265h0M3743 1102h0M3738 1069h0M3488 1102h0M3467 1305h0M3629 1103h0M3662 1073h0M3569 1273h0M3652 1283h0M3472 1288h0M3358 1249h0M3843 1096h0M3768 1095h0M3426 1294h0M3547 1106h0M3374 1306h0M3481 1094h0M3446 1141h0M3505 1092h0M3821 1106h0M3364 1208h0M3727 1087h0M3468 1305h0M3720 1066h0M3555 1082h0M3379 1244h0M3783 1180h0M3494 1117h0M3663 1101h0M3395 1133h0M3815 1116h0M3443 1142h0M3570 1103h0M3674 1080h0M3359 1255h0M3563 1102h0M3414 1294h0M3401 1262h0M3767 1083h0M3418 1269h0M3732 1272h0M3529 1274h0M3743 1085h0M3651 1271h0M3463 1132h0M3385 1213h0M3574 1286h0M3479 1089h0M3489 1119h0M3434 1300h0M3475 1310h0M3409 1113h0M3422 1266h0M3627 1280h0M3410 1101h0M3734 1071h0M3398 1134h0M3578 1271h0M3651 1296h0M3657 1084h0M3356 1202h0M3373 1159h0M3817 1086h0M3329 1318h0M3379 1243h0M3452 1141h0M3372 1264h0M3437 1154h0M3398 1286h0M3391 1312h0M3434 1163h0M3424 1262h0M3461 1304h0M3424 1171h0M3533 1090h0M3682 1058h0M3406 1219h0M3775 1203h0M3550 1102h0M3563 1287h0M3699 1094h0M3582 1076h0M3440 1315h0M3473 1116h0M3573 1108h0M3360 1281h0M3460 1296h0M3473 1106h0M3406 1180h0M3695 1088h0M3389 1170h0M3697 1266h0M3506 1123h0M3782 1159h0M3517 1064h0M3619 1088h0M3382 1262h0M3392 1306h0M3412 1157h0M3407 1201h0M3723 1246h0M3382 1249h0M3430 1324h0M3393 1184h0M3620 1265h0M3526 1090h0M3406 1163h0M3547 1279h0M3827 1125h0M3713 1278h0M3620 1273h0M3395 1205h0M3654 1289h0M3750 1271h0M3395 1187h0M3490 1291h0M3502 1308h0M3551 1271h0M3378 1160h0M3767 1066h0M3453 1104h0M3391 1175h0M3373 1207h0M3369 1232h0M3512 1280h0M3424 1295h0M3523 1285h0M3735 1090h0M3640 1288h0M3530 1098h0M3400 1160h0M3519 1088h0M3446 1286h0M3435 1305h0M3349 1235h0M3733 1061h0M3438 1293h0M3562 1077h0M3420 1308h0M3491 1121h0M3539 1284h0M3398 1326h0M3364 1242h0M3607 1299h0M3731 1252h0M3473 1313h0M3493 1293h0M3373 1206h0M3747 1064h0M3396 1169h0M3358 1177h0M3347 1292h0M3786 1143h0M3364 1249h0M3766 1202h0M3382 1252h0M3736 1064h0M3417 1256h0M3474 1122h0M3440 1158h0M3738 1091h0M3622 1265h0M3435 1115h0M3404 1199h0M3686 1078h0M3601 1073h0M3816 1084h0M3559 1268h0M3532 1070h0M3537 1299h0M3744 1277h0M3560 1277h0M3416 1165h0M3375 1266h0M3466 1097h0M3451 1299h0M3818 1142h0M3620 1058h0M3437 1287h0M3556 1278h0M3382 1285h0M3732 1283h0M3677 1060h0M3414 1260h0M3409 1183h0M3344 1252h0M3703 1257h0M3377 1281h0M3429 1278h0M3380 1317h0M3399 1292h0M3597 1076h0M3511 1290h0M3369 1252h0M3410 1132h0M3408 1152h0M3538 1083h0M3403 1260h0M3736 1266h0M3757 1238h0M3513 1278h0M3555 1105h0M3664 1076h0M3421 1108h0M3681 1072h0M3753 1244h0M3377 1283h0M3602 1071h0M3686 1266h0M3421 1313h0M3417 1313h0M3762 1239h0M3405 1175h0M3502 1120h0M3510 1282h0M3767 1227h0M3411 1298h0M3602 1061h0M3384 1129h0M3753 1102h0M3428 1128h0M3407 1273h0M3798 1069h0M3577 1097h0M3492 1109h0M3447 1108h0M3586 1107h0M3346 1275h0M3514 1074h0M3677 1091h0M3386 1264h0M3394 1184h0M3508 1092h0M3597 1088h0M3347 1225h0M3493 1098h0M3522 1270h0M3387 1263h0M3600 1276h0M3782 1100h0M3676 1257h0M3555 1098h0M3360 1227h0M3401 1251h0M3622 1278h0M3407 1323h0M3562 1097h0M3610 1273h0M3332 1208h0M3344 1205h0M3401 1195h0M3759 1248h0M3628 1088h0M3403 1329h0M3647 1081h0M3708 1283h0M3471 1132h0M3629 1080h0M3671 1280h0M3633 1070h0M3657 1092h0M3543 1065h0M3448 1297h0M3775 1080h0M3639 1278h0M3402 1220h0M3457 1118h0M3414 1137h0M3545 1097h0M3475 1101h0M3770 1216h0M3388 1316h0M3375 1211h0M3473 1099h0M3722 1248h0M3396 1151h0M3811 1072h0M3484 1315h0M3404 1216h0M3419 1134h0M3457 1103h0M3543 1273h0M3364 1255h0M3418 1248h0M3700 1258h0M3410 1175h0M3596 1105h0M3810 1088h0M3785 1075h0M3775 1256h0M3410 1193h0M3804 1077h0M3513 1085h0M3577 1064h0M3429 1126h0M3436 1301h0M3382 1195h0M3623 1068h0M3520 1275h0M3599 1262h0M3600 1301h0M3560 1085h0M3795 1162h0M3474 1101h0M3441 1095h0M3381 1278h0M3529 1063h0M3434 1138h0M3377 1208h0M3563 1317h0M3406 1274h0M3602 1255h0M3677 1070h0M3530 1275h0M3687 1271h0M3606 1280h0M3585 1291h0M3368 1144h0M3434 1255h0M3437 1267h0M3665 1075h0M3588 1093h0M3422 1140h0M3434 1107h0M3637 1083h0M3579 1103h0M3720 1264h0M3395 1244h0M3466 1284h0M3712 1269h0M3411 1131h0M3808 1071h0M3689 1260h0M3506 1121h0M3425 1133h0M3690 1282h0M3427 1285h0M3706 1260h0M3654 1057h0M3408 1244h0M3651 1072h0M3577 1085h0M3710 1070h0M3473 1290h0M3478 1121h0M3433 1136h0M3510 1091h0M3737 1242h0M3366 1183h0M3752 1240h0M3370 1229h0M3694 1290h0M3619 1104h0M3435 1324h0M3372 1232h0M3581 1274h0M3411 1161h0M3540 1087h0M3694 1250h0M3379 1158h0M3585 1264h0M3700 1090h0M3383 1290h0M3365 1237h0M3356 1272h0M3390 1227h0M3411 1277h0M3765 1084h0M3405 1126h0M3494 1285h0M3636 1291h0M3703 1098h0M3366 1166h0M3388 1152h0M3435 1155h0M3403 1112h0M3417 1186h0M3407 1259h0M3717 1298h0M3684 1277h0M3357 1277h0M3749 1078h0M3789 1091h0M3424 1143h0M3389 1325h0M3399 1142h0M3687 1093h0M3713 1078h0M3537 1074h0M3627 1261h0M3642 1277h0M3461 1112h0M3418 1295h0M3598 1071h0M3421 1164h0M3391 1252h0M3611 1105h0M3374 1259h0M3390 1212h0M3649 1295h0M3407 1144h0M3512 1306h0M3369 1296h0M3449 1123h0M3547 1103h0M3375 1182h0M3437 1154h0M3395 1269h0M3403 1131h0M3779 1161h0M3424 1282h0M3516 1096h0M3384 1154h0M3742 1062h0M3617 1093h0M3744 1249h0M3414 1164h0M3701 1264h0M3328 1240h0M3567 1284h0M3588 1271h0M3436 1130h0M3488 1100h0M3737 1251h0M3629 1277h0M3704 1257h0M3483 1095h0M3455 1305h0M3399 1267h0M3535 1271h0M3407 1151h0M3463 1140h0M3681 1076h0M3549 1091h0M3752 1069h0M3779 1098h0M3432 1262h0M3392 1317h0M3430 1263h0M3419 1112h0M3363 1225h0M3614 1065h0M3656 1069h0M3786 1160h0M3676 1100h0M3567 1298h0M3728 1100h0M3390 1297h0M3398 1233h0M3400 1192h0M3514 1285h0M3637 1267h0M3607 1097h0M3831 1091h0M3387 1287h0M3501 1098h0M3685 1280h0M3676 1256h0M3774 1090h0M3377 1133h0M3697 1295h0M3372 1273h0M3658 1258h0M3728 1284h0M3491 1310h0M3350 1191h0M3759 1259h0M3390 1288h0M3519 1291h0M3599 1274h0M3654 1081h0M3416 1227h0M3401 1175h0M3676 1263h0M3530 1303h0M3566 1082h0M3815 1069h0M3387 1268h0M3506 1289h0M3555 1081h0M3360 1181h0M3716 1061h0M3431 1284h0M3370 1277h0M3473 1088h0M3366 1274h0M3591 1294h0M3777 1097h0M3521 1114h0M3415 1122h0M3529 1307h0M3573 1100h0M3406 1214h0M3404 1247h0M3414 1316h0M3532 1092h0M3460 1086h0M3499 1295h0M3720 1252h0M3718 1279h0M3506 1076h0M3401 1188h0M3391 1311h0M3568 1267h0M3428 1142h0M3558 1297h0M3402 1206h0M3382 1243h0M3436 1134h0M3653 1102h0M3630 1271h0M3399 1242h0M3672 1083h0M3742 1097h0M3388 1207h0M3783 1162h0M3655 1262h0M3799 1084h0M3418 1318h0M3397 1238h0M3564 1288h0M3746 1101h0M3736 1260h0M3576 1070h0M3675 1260h0M3511 1302h0M3424 1286h0M3623 1095h0M3523 1275h0M3635 1258h0M3463 1098h0M3519 1304h0M3451 1128h0M3562 1098h0M3584 1083h0M3431 1167h0M3685 1100h0M3660 1104h0M3718 1059h0M3340 1224h0M3478 1132h0M3439 1144h0M3333 1198h0M3551 1083h0M3589 1292h0M3455 1277h0M3812 1090h0M3434 1167h0M3815 1086h0M3821 1108h0M3810 1116h0M3788 1097h0M3399 1209h0M3723 1271h0M3414 1162h0M3377 1210h0M3443 1317h0M3669 1064h0M3381 1206h0M3437 1129h0M3670 1076h0M3359 1266h0M3819 1127h0M3503 1312h0M3384 1171h0M3631 1284h0M3730 1281h0M3479 1295h0M3403 1281h0M3689 1279h0M3570 1278h0M3384 1302h0M3679 1289h0M3553 1073h0M3758 1091h0M3382 1289h0M3431 1098h0M3523 1090h0M3567 1068h0M3358 1184h0M3440 1155h0M3772 1180h0M3637 1077h0M3428 1137h0M3652 1274h0M3791 1088h0M3406 1230h0M3448 1108h0M3348 1266h0M3667 1099h0M3372 1171h0M3674 1071h0M3655 1104h0M3605 1259h0M3381 1126h0M3369 1162h0M3625 1088h0M3491 1106h0M3660 1264h0M3413 1277h0M3626 1267h0M3783 1096h0M3518 1082h0M3414 1167h0M3378 1204h0M3566 1106h0M3421 1134h0M3581 1304h0M3428 1164h0M3773 1238h0M3803 1065h0M3399 1251h0M3495 1287h0M3525 1070h0M3539 1302h0M3367 1272h0M3702 1251h0M3607 1094h0M3517 1110h0M3571 1294h0M3377 1220h0M3758 1078h0M3675 1101h0M3384 1131h0M3658 1096h0M3342 1263h0M3452 1145h0M3826 1076h0M3392 1251h0M3592 1284h0M3493 1080h0M3676 1271h0M3773 1192h0M3586 1084h0M3575 1302h0M3474 1115h0M3645 1266h0M3687 1277h0M3455 1131h0M3775 1182h0M3447 1308h0M3631 1098h0M3723 1278h0M3423 1133h0M3541 1102h0M3451 1283h0M3383 1154h0M3615 1059h0M3784 1103h0M3543 1072h0M3637 1066h0M3564 1098h0M3455 1126h0M3666 1272h0M3517 1279h0M3420 1157h0M3482 1288h0M3453 1315h0M3536 1094h0M3619 1271h0M3479 1288h0M3383 1248h0M3425 1165h0M3522 1277h0M3510 1111h0M3398 1322h0M3550 1097h0M3457 1122h0M3681 1090h0M3650 1264h0M3462 1095h0M3639 1099h0M3543 1302h0M3361 1168h0M3563 1289h0M3428 1264h0M3443 1287h0M3723 1291h0M3725 1266h0M3773 1222h0M3783 1207h0M3351 1213h0M3759 1260h0M3411 1263h0M3376 1301h0M3662 1084h0M3430 1113h0M3750 1083h0M3720 1066h0M3358 1284h0M3423 1143h0M3464 1287h0M3458 1124h0M3411 1209h0M3428 1324h0M3663 1272h0M3703 1282h0M3452 1130h0M3742 1088h0M3435 1288h0M3483 1122h0M3404 1144h0M3363 1231h0M3552 1079h0M3646 1280h0M3433 1261h0M3576 1280h0M3793 1177h0M3736 1246h0M3681 1101h0M3475 1307h0M3417 1122h0M3729 1285h0M3429 1270h0M3643 1097h0M3364 1207h0M3412 1242h0M3391 1225h0M3380 1301h0M3713 1251h0M3672 1073h0M3696 1075h0M3613 1285h0M3426 1176h0M3435 1145h0M3514 1103h0M3599 1285h0M3813 1113h0M3497 1090h0M3397 1152h0M3422 1167h0M3597 1094h0M3509 1109h0M3784 1188h0M3419 1222h0M3725 1097h0M3749 1284h0M3415 1127h0M3564 1091h0M3378 1309h0M3808 1113h0M3754 1099h0M3450 1281h0M3335 1247h0M3501 1299h0M3491 1278h0M3700 1089h0M3406 1310h0M3415 1218h0M3687 1084h0M3365 1268h0M3433 1124h0M3781 1222h0M3757 1069h0M3635 1269h0M3766 1067h0M3656 1085h0M3388 1234h0M3809 1093h0M3660 1069h0M3427 1154h0M3344 1197h0M3552 1062h0M3487 1308h0M3665 1067h0M3523 1115h0M3434 1124h0M3518 1289h0M3401 1313h0M3727 1083h0M3400 1281h0M3409 1311h0M3476 1088h0M3674 1288h0M3612 1282h0M3811 1091h0M3732 1281h0M3481 1309h0M3379 1266h0M3770 1182h0M3440 1132h0M3801 1147h0M3632 1260h0M3729 1277h0M3573 1279h0M3541 1288h0M3494 1278h0M3370 1238h0M3513 1284h0M3582 1086h0M3447 1151h0M3402 1122h0M3688 1275h0M3533 1065h0M3762 1258h0M3411 1177h0M3402 1208h0M3352 1267h0M3426 1265h0M3582 1102h0M3638 1081h0M3681 1249h0M3790 1185h0M3398 1148h0M3363 1174h0M3368 1303h0M3755 1235h0M3637 1275h0M3563 1073h0M3572 1096h0M3648 1278h0M3779 1175h0M3402 1135h0M3640 1279h0M3809 1086h0M3821 1114h0M3782 1103h0M3406 1151h0M3398 1262h0M3427 1111h0M3748 1088h0M3423 1136h0M3360 1215h0M3447 1146h0M3395 1289h0M3729 1064h0M3400 1127h0M3388 1173h0M3375 1235h0M3360 1270h0M3628 1295h0M3789 1145h0M3730 1092h0M3386 1183h0M3786 1096h0M3359 1221h0M3556 1296h0M3735 1063h0M3609 1077h0M3539 1093h0M3465 1089h0M3445 1119h0M3519 1100h0M3344 1194h0M3518 1293h0M3418 1300h0M3675 1267h0M3452 1147h0M3447 1105h0M3421 1291h0M3464 1297h0M3772 1062h0M3729 1071h0M3563 1088h0M3774 1099h0M3559 1093h0M3787 1140h0M3416 1235h0M3392 1285h0M3579 1277h0M3484 1281h0M3387 1146h0M3442 1124h0M3388 1278h0M3816 1097h0M3430 1157h0M3790 1138h0M3410 1142h0M3336 1216h0M3816 1085h0M3531 1088h0M3432 1141h0M3777 1093h0M3768 1228h0M3494 1286h0M3713 1266h0M3456 1123h0M3748 1266h0M3769 1088h0M3779 1075h0M3483 1126h0M3638 1085h0M3580 1274h0M3754 1074h0M3493 1100h0M3407 1139h0M3451 1296h0M3596 1090h0M3611 1078h0M3458 1131h0M3810 1073h0M3665 1262h0M3789 1066h0M3695 1077h0M3463 1098h0M3390 1287h0M3789 1139h0M3580 1261h0M3763 1218h0M3729 1277h0M3434 1344h0M3535 1083h0M3404 1210h0M3768 1075h0M3400 1255h0M3685 1097h0M3411 1249h0M3474 1110h0M3803 1098h0M3721 1260h0M3609 1060h0M3716 1061h0M3470 1304h0M3428 1141h0M3827 1093h0M3816 1080h0M3716 1268h0M3761 1076h0M3733 1245h0M3752 1088h0M3519 1116h0M3396 1234h0M3348 1179h0M3422 1106h0M3399 1185h0M3696 1262h0M3584 1057h0M3571 1075h0M3399 1285h0M3596 1065h0M3670 1287h0M3465 1115h0M3391 1227h0M3377 1169h0M3343 1257h0M3664 1276h0M3524 1285h0M3415 1309h0M3455 1119h0M3608 1094h0M3736 1075h0M3678 1286h0M3400 1237h0M3401 1318h0M3826 1125h0M3594 1091h0M3383 1248h0M3410 1214h0M3593 1106h0M3448 1143h0M3539 1295h0M3383 1255h0M3377 1295h0M3367 1277h0M3812 1079h0M3653 1265h0M3761 1255h0M3479 1122h0M3645 1085h0M3806 1071h0M3391 1222h0M3427 1263h0M3439 1136h0M3653 1270h0M3545 1291h0M3478 1300h0M3621 1064h0M3796 1063h0M3408 1269h0M3455 1119h0M3593 1277h0M3673 1263h0M3417 1150h0M3375 1274h0M3788 1158h0M3667 1097h0M3646 1089h0M3798 1064h0M3423 1284h0M3815 1100h0M3408 1289h0M3599 1292h0M3516 1069h0M3420 1170h0M3476 1297h0M3591 1082h0M3751 1252h0M3542 1064h0M3679 1292h0M3701 1270h0M3444 1300h0M3542 1304h0M3422 1292h0M3714 1256h0M3515 1108h0M3464 1088h0M3423 1126h0M3510 1270h0M3404 1283h0M3418 1247h0M3365 1270h0M3415 1222h0M3677 1099h0M3369 1280h0M3397 1243h0M3698 1283h0M3385 1203h0M3653 1281h0M3740 1065h0M3829 1088h0M3402 1181h0M3737 1259h0M3397 1139h0M3457 1305h0M3474 1121h0M3524 1090h0M3510 1308h0M3463 1291h0M3433 1141h0M3602 1085h0M3367 1186h0M3441 1290h0M3552 1296h0M3606 1270h0M3428 1122h0M3418 1267h0M3640 1089h0M3751 1240h0M3570 1291h0M3391 1159h0M3446 1297h0M3457 1285h0M3496 1279h0M3377 1289h0M3415 1243h0M3688 1086h0M3426 1252h0M3445 1293h0M3670 1263h0M3516 1094h0M3653 1090h0M3509 1078h0M3496 1281h0M3405 1220h0M3327 1215h0M3375 1275h0M3525 1074h0M3624 1069h0M3383 1158h0M3594 1107h0M3838 1086h0M3412 1205h0M3553 1306h0M3663 1082h0M3500 1102h0M3750 1093h0M3718 1097h0M3367 1149h0M3385 1200h0M3395 1162h0M3491 1108h0M3521 1118h0M3804 1116h0M3400 1165h0M3574 1299h0M3497 1124h0M3525 1273h0M3716 1069h0M3628 1289h0M3702 1272h0M3581 1280h0M3601 1098h0M3459 1298h0M3723 1095h0M3431 1150h0M3448 1100h0M3445 1088h0M3461 1289h0M3506 1295h0M3388 1155h0M3583 1094h0M3447 1137h0M3696 1249h0M3652 1303h0M3404 1169h0M3454 1106h0M3387 1288h0M3406 1142h0M3417 1251h0M3550 1076h0M3416 1110h0M3417 1283h0M3414 1326h0M3387 1123h0M3651 1096h0M3776 1155h0M3421 1244h0M3662 1087h0M3613 1104h0M3409 1305h0M3722 1097h0M3350 1211h0M3559 1080h0M3480 1286h0M3361 1222h0M3677 1257h0M3737 1247h0M3435 1321h0M3625 1268h0M3751 1067h0M3383 1177h0M3552 1279h0M3760 1225h0M3820 1100h0M3380 1142h0M3415 1172h0M3444 1154h0M3525 1315h0M3577 1066h0M3357 1278h0M3386 1322h0M3528 1270h0M3679 1275h0M3776 1205h0M3402 1243h0M3527 1114h0M3712 1258h0M3407 1153h0M3673 1271h0M3791 1084h0M3387 1259h0M3426 1328h0M3559 1064h0M3646 1089h0M3412 1293h0M3403 1203h0M3589 1097h0M3501 1280h0M3697 1058h0M3601 1292h0M3590 1067h0M3802 1100h0M3675 1080h0M3395 1203h0M3466 1291h0M3577 1275h0M3654 1296h0M3393 1279h0M3338 1230h0M3661 1069h0M3816 1075h0M3423 1186h0M3450 1298h0M3450 1134h0M3776 1089h0M3584 1080h0M3551 1090h0M3465 1294h0M3423 1159h0M3658 1106h0M3389 1260h0M3418 1268h0M3549 1071h0M3816 1064h0M3445 1105h0M3540 1089h0M3411 1129h0M3487 1298h0M3537 1062h0M3639 1069h0M3395 1215h0M3439 1301h0M3572 1273h0M3624 1078h0M3369 1167h0M3476 1289h0M3419 1256h0M3480 1279h0M3789 1081h0M3411 1213h0M3534 1301h0M3350 1167h0M3592 1064h0M3491 1305h0M3362 1152h0M3713 1101h0M3343 1251h0M3421 1123h0M3374 1179h0M3483 1119h0M3476 1093h0M3585 1288h0M3676 1092h0M3677 1078h0M3499 1286h0M3368 1185h0M3433 1261h0M3366 1262h0M3546 1093h0M3380 1255h0M3655 1106h0M3782 1085h0M3346 1229h0M3411 1279h0M3481 1122h0M3736 1079h0M3468 1283h0M3577 1082h0M3732 1088h0M3554 1267h0M3443 1129h0M3753 1097h0M3428 1151h0M3412 1287h0M3652 1061h0M3436 1150h0M3543 1088h0M3409 1325h0M3395 1327h0M3497 1287h0M3710 1258h0M3653 1085h0M3371 1207h0M3404 1179h0M3399 1267h0M3743 1086h0M3829 1074h0M3398 1263h0M3453 1126h0M3627 1077h0M3489 1108h0M3564 1090h0M3403 1253h0M3577 1095h0M3549 1290h0M3418 1209h0M3554 1280h0M3660 1269h0M3668 1291h0M3429 1163h0M3348 1251h0M3687 1265h0M3690 1251h0M3566 1288h0M3697 1084h0M3404 1292h0M3472 1107h0M3518 1105h0M3495 1311h0M3450 1135h0M3401 1214h0M3679 1260h0M3761 1237h0M3682 1071h0M3413 1111h0M3355 1262h0M3419 1236h0M3420 1324h0M3655 1275h0M3610 1076h0M3775 1196h0M3549 1064h0M3462 1125h0M3557 1284h0M3493 1290h0M3371 1242h0M3529 1276h0M3662 1081h0M3646 1072h0M3451 1311h0M3630 1288h0M3370 1244h0M3648 1266h0M3759 1078h0M3718 1098h0M3374 1260h0M3356 1236h0M3388 1150h0M3772 1093h0M3423 1285h0M3598 1081h0M3525 1281h0M3358 1202h0M3639 1276h0M3406 1287h0M3355 1209h0M3612 1059h0M3586 1088h0M3662 1092h0M3756 1070h0M3433 1092h0M3571 1059h0M3451 1142h0M3643 1270h0M3499 1085h0M3768 1097h0M3577 1278h0M3785 1164h0M3408 1111h0M3677 1065h0M3639 1269h0M3770 1192h0M3368 1261h0M3350 1249h0M3397 1192h0M3405 1231h0M3377 1211h0M3458 1300h0M3714 1289h0M3530 1065h0M3810 1083h0M3581 1076h0M3511 1080h0M3696 1094h0M3775 1073h0M3517 1114h0M3550 1066h0M3478 1113h0M3663 1286h0M3561 1075h0M3476 1082h0M3790 1151h0M3546 1270h0M3534 1109h0M3716 1270h0M3569 1286h0M3606 1266h0M3415 1187h0M3532 1298h0M3386 1279h0M3504 1306h0M3331 1225h0M3703 1284h0M3638 1091h0M3768 1227h0M3539 1294h0M3684 1270h0M3388 1247h0M3527 1097h0M3639 1093h0M3798 1151h0M3805 1083h0M3399 1244h0M3668 1274h0M3684 1251h0M3683 1077h0M3364 1181h0M3729 1269h0M3356 1172h0M3545 1074h0M3410 1147h0M3421 1319h0M3570 1268h0M3708 1089h0M3391 1300h0M3430 1160h0M3583 1298h0M3587 1263h0M3687 1258h0M3455 1287h0M3431 1094h0M3514 1295h0M3503 1281h0M3535 1288h0M3421 1268h0M3803 1115h0M3779 1168h0M3560 1287h0M3440 1140h0M3807 1074h0M3351 1266h0M3649 1097h0M3644 1084h0M3496 1293h0M3430 1103h0M3749 1093h0M3643 1272h0M3510 1294h0M3450 1138h0M3389 1267h0M3778 1159h0M3570 1296h0M3725 1072h0M3489 1124h0M3486 1091h0M3563 1102h0M3612 1083h0M3581 1287h0M3636 1276h0M3496 1292h0M3418 1135h0M3739 1246h0M3415 1165h0M3389 1187h0M3454 1145h0M3528 1277h0M3528 1276h0M3441 1272h0M3522 1096h0M3507 1285h0M3766 1213h0M3431 1169h0M3686 1097h0M3335 1222h0M3660 1265h0M3777 1193h0M3410 1231h0M3747 1082h0M3586 1082h0M3442 1127h0M3652 1268h0M3384 1145h0M3516 1284h0M3500 1294h0M3442 1100h0M3524 1097h0M3350 1235h0M3534 1095h0M3407 1281h0M3380 1216h0M3699 1271h0M3443 1118h0M3675 1259h0M3440 1274h0M3590 1089h0M3642 1085h0M3663 1268h0M3714 1250h0M3444 1293h0M3358 1146h0M3685 1259h0M3675 1291h0M3772 1221h0M3652 1101h0M3602 1087h0M3345 1219h0M3524 1076h0M3400 1290h0M3463 1117h0M3492 1126h0M3473 1100h0M3421 1176h0M3791 1193h0M3634 1076h0M3413 1114h0M3491 1102h0M3362 1275h0M3418 1183h0M3572 1283h0M3394 1206h0M3542 1072h0M3423 1152h0M3337 1201h0M3518 1281h0M3719 1263h0M3376 1311h0M3740 1088h0M3700 1280h0M3770 1224h0M3601 1104h0M3826 1099h0M3607 1299h0M3543 1296h0M3436 1307h0M3397 1301h0M3627 1090h0M3790 1260h0M3571 1074h0M3828 1081h0M3373 1210h0M3403 1163h0M3787 1146h0M3663 1091h0M3537 1103h0M3575 1099h0M3583 1064h0M3412 1198h0M3735 1096h0M3674 1257h0M3664 1094h0M3592 1275h0M3373 1175h0M3446 1288h0M3490 1088h0M3350 1269h0M3332 1191h0M3366 1291h0M3803 1090h0M3541 1274h0M3617 1100h0M3360 1156h0M3566 1291h0M3700 1082h0M3545 1300h0M3578 1091h0M3789 1147h0M3515 1120h0M3821 1107h0M3412 1146h0M3546 1108h0M3639 1107h0M3399 1261h0M3643 1083h0M3381 1207h0M3688 1081h0M3828 1084h0M3600 1078h0M3569 1098h0M3369 1209h0M3399 1186h0M3791 1064h0M3706 1090h0M3418 1162h0M3438 1304h0M3399 1288h0M3790 1167h0M3804 1082h0M3496 1118h0M3711 1066h0M3577 1074h0M3382 1235h0M3617 1090h0M3368 1206h0M3832 1085h0M3797 1135h0M3558 1324h0M3650 1062h0M3532 1100h0M3426 1115h0M3372 1151h0M3563 1294h0M3622 1289h0M3761 1228h0M3406 1228h0M3681 1261h0M3359 1255h0M3737 1084h0M3464 1140h0M3679 1263h0M3576 1090h0M3753 1238h0M3708 1098h0M3601 1097h0M3558 1276h0M3551 1304h0M3737 1241h0M3417 1305h0M3587 1285h0M3504 1291h0M3826 1083h0M3630 1097h0M3379 1135h0M3559 1274h0M3338 1229h0M3355 1217h0M3587 1105h0M3744 1080h0M3457 1133h0M3539 1297h0M3794 1155h0M3431 1141h0M3651 1074h0M3386 1278h0M3796 1105h0M3546 1276h0M3422 1156h0M3413 1160h0M3659 1080h0M3401 1217h0M3494 1297h0M3557 1099h0M3570 1298h0M3675 1065h0M3635 1277h0M3649 1079h0M3720 1253h0M3370 1301h0M3643 1064h0M3401 1254h0M3605 1293h0M3711 1080h0M3408 1236h0M3399 1311h0M3355 1177h0M3522 1112h0M3643 1077h0M3378 1244h0M3616 1265h0M3564 1083h0M3399 1138h0M3723 1275h0M3407 1251h0M3615 1064h0M3418 1297h0M3464 1085h0M3389 1242h0M3789 1090h0M3432 1272h0M3471 1304h0M3795 1151h0M3629 1260h0M3441 1273h0M3586 1274h0M3481 1306h0M3362 1236h0M3450 1100h0M3393 1234h0M3344 1218h0M3372 1137h0M3550 1063h0M3425 1154h0M3365 1270h0M3522 1291h0M3354 1268h0M3492 1307h0M3552 1281h0M3731 1250h0M3405 1121h0M3440 1266h0M3370 1233h0M3627 1281h0M3696 1071h0M3450 1142h0M3743 1090h0M3393 1123h0M3492 1105h0M3547 1098h0M3704 1270h0M3794 1162h0M3774 1060h0M3383 1220h0M3804 1105h0M3727 1270h0M3747 1080h0M3540 1268h0M3563 1085h0M3367 1239h0M3481 1096h0M3604 1101h0M3767 1225h0M3544 1306h0M3455 1090h0M3820 1075h0M3632 1290h0M3433 1124h0M3762 1097h0M3730 1089h0M3814 1077h0M3815 1085h0M3347 1232h0M3432 1281h0M3665 1281h0M3402 1281h0M3352 1195h0M3787 1098h0M3381 1186h0M3712 1099h0M3615 1097h0M3720 1073h0M3463 1110h0M3418 1275h0M3350 1202h0M3394 1284h0M3648 1061h0M3392 1304h0M3378 1299h0M3435 1284h0M3346 1157h0M3494 1286h0M3689 1284h0M3372 1190h0M3442 1129h0M3558 1074h0M3446 1149h0M3813 1120h0M3417 1271h0M3347 1213h0M3700 1083h0M3383 1159h0M3451 1124h0M3373 1205h0M3371 1172h0M3538 1098h0M3395 1209h0M3407 1185h0M3728 1283h0M3367 1267h0M3578 1304h0M3339 1202h0M3683 1260h0M3405 1254h0M3392 1208h0M3847 1108h0M3426 1283h0M3593 1263h0M3787 1148h0M3799 1068h0M3351 1194h0M3592 1274h0M3381 1238h0M3722 1276h0M3400 1141h0M3426 1110h0M3426 1266h0M3351 1284h0M3429 1306h0M3427 1126h0M3598 1291h0M3387 1252h0M3687 1097h0M3464 1296h0M3793 1069h0M3776 1212h0M3432 1292h0M3433 1296h0M3798 1064h0M3392 1267h0M3644 1098h0M3675 1065h0M3409 1200h0M3448 1105h0M3456 1303h0M3356 1258h0M3377 1199h0M3718 1283h0M3383 1236h0M3624 1078h0M3402 1265h0M3368 1259h0M3432 1295h0M3678 1092h0M3718 1270h0M3437 1288h0M3416 1298h0M3386 1196h0M3719 1095h0M3537 1272h0M3413 1270h0M3489 1301h0M3427 1115h0M3384 1280h0M3795 1139h0M3382 1137h0M3607 1273h0M3529 1296h0M3499 1080h0M3499 1299h0M3673 1276h0M3466 1105h0M3764 1232h0M3394 1251h0M3663 1098h0M3699 1086h0M3730 1100h0M3486 1309h0M3705 1073h0M3400 1159h0M3727 1273h0M3413 1213h0M3506 1286h0M3697 1083h0M3574 1061h0M3398 1257h0M3683 1254h0M3499 1083h0M3618 1261h0M3472 1122h0M3568 1270h0M3546 1319h0M3814 1079h0M3458 1306h0M3688 1249h0M3653 1266h0M3419 1151h0M3408 1304h0M3387 1171h0M3786 1143h0M3679 1287h0M3758 1222h0M3411 1182h0M3702 1079h0M3656 1070h0M3431 1316h0M3374 1155h0M3449 1108h0M3648 1088h0M3592 1275h0M3776 1168h0M3563 1280h0M3506 1107h0M3676 1073h0M3800 1125h0M3346 1251h0M3552 1064h0M3391 1186h0M3425 1296h0M3445 1107h0M3600 1082h0M3618 1267h0M3514 1096h0M3702 1073h0M3361 1201h0M3421 1189h0M3639 1078h0M3457 1110h0M3392 1254h0M3381 1280h0M3511 1271h0M3432 1252h0M3397 1125h0M3525 1107h0M3606 1277h0M3667 1091h0M3514 1101h0M3416 1240h0M3342 1268h0M3407 1197h0M3364 1175h0M3621 1283h0M3597 1264h0M3479 1314h0M3386 1155h0M3401 1212h0M3443 1100h0M3485 1087h0M3596 1071h0M3619 1266h0M3652 1074h0M3480 1092h0M3432 1284h0M3638 1085h0M3391 1140h0M3387 1225h0M3804 1072h0M3441 1267h0M3437 1110h0M3639 1103h0M3500 1291h0M3485 1285h0M3395 1226h0M3494 1097h0M3353 1247h0M3665 1069h0M3460 1132h0M3836 1114h0M3480 1093h0M3580 1283h0M3688 1266h0M3677 1255h0M3426 1268h0M3388 1214h0M3488 1075h0M3480 1079h0M3416 1211h0M3390 1159h0M3627 1092h0M3483 1288h0M3592 1084h0M3691 1077h0M3504 1295h0M3627 1095h0M3468 1286h0M3366 1281h0M3456 1090h0M3455 1145h0M3616 1072h0M3371 1280h0M3450 1093h0M3767 1204h0M3368 1179h0M3618 1281h0M3422 1192h0M3356 1180h0M3593 1105h0M3524 1085h0M3673 1293h0M3586 1098h0M3777 1158h0M3690 1082h0M3758 1219h0M3512 1100h0M3511 1080h0M3706 1264h0M3730 1290h0M3696 1283h0M3410 1130h0M3395 1241h0M3550 1099h0M3637 1260h0M3657 1267h0M3719 1059h0M3409 1208h0M3451 1142h0M3658 1270h0M3596 1099h0M3384 1290h0M3554 1083h0M3363 1163h0M3413 1180h0M3831 1105h0M3586 1077h0M3454 1118h0M3417 1131h0M3508 1099h0M3732 1285h0M3372 1301h0M3581 1105h0M3403 1156h0M3424 1272h0M3694 1269h0M3784 1100h0M3387 1279h0M3395 1217h0M3714 1256h0M3699 1071h0M3400 1288h0M3423 1266h0M3548 1272h0M3560 1312h0M3636 1090h0M3415 1151h0M3700 1254h0M3405 1158h0M3677 1250h0M3596 1087h0M3371 1139h0M3782 1075h0M3749 1255h0M3428 1299h0M3412 1263h0M3405 1194h0M3397 1194h0M3400 1281h0M3483 1302h0M3471 1296h0M3804 1108h0M3355 1227h0M3792 1147h0M3503 1308h0M3461 1291h0M3585 1290h0M3740 1283h0M3771 1083h0M3343 1204h0M3596 1260h0M3627 1082h0M3645 1094h0M3597 1098h0M3659 1089h0M3429 1289h0M3712 1271h0M3329 1144h0M3430 1248h0M3378 1183h0M3379 1208h0M3636 1260h0M3833 1105h0M3666 1291h0M3393 1261h0M3470 1086h0M3290 1245h0M3306 1173h0M3313 1166h0M3300 1183h0M3305 1311h0M3284 1197h0M3293 1189h0M3348 1146h0M3298 1292h0M3362 1126h0M3284 1202h0M3363 1168h0M3329 1245h0M3291 1232h0M3340 1247h0M3326 1302h0M3312 1212h0M3340 1298h0M3327 1192h0M3269 1183h0M3334 1247h0M3346 1280h0M3281 1189h0M3358 1194h0M3310 1143h0M3338 1150h0M3291 1235h0M3282 1237h0M3349 1188h0M3266 1256h0M3363 1307h0M3314 1298h0M3336 1132h0M3296 1156h0M3366 1311h0M3302 1264h0M3377 1165h0M3375 1146h0M3288 1272h0M3347 1300h0M3322 1270h0M3273 1162h0M3352 1184h0M3300 1268h0M3237 1281h0M3325 1171h0M3367 1130h0M3312 1214h0M3323 1130h0M3314 1260h0M3298 1242h0M3301 1230h0M3299 1154h0M3313 1194h0M3311 1282h0M3302 1285h0M3363 1151h0M3325 1135h0M3354 1308h0M3291 1243h0M3368 1129h0M3316 1165h0M3314 1139h0M3294 1255h0M3327 1152h0M3331 1273h0M3387 1118h0M3336 1271h0M3319 1229h0M3283 1285h0M3381 1281h0M3315 1306h0M3293 1208h0M3331 1204h0M3343 1220h0M3327 1181h0M3362 1153h0M3369 1140h0M3324 1197h0M3287 1244h0M3323 1258h0M3315 1221h0M3323 1232h0M3349 1277h0M3341 1249h0M3307 1144h0M3305 1145h0M3383 1159h0M3278 1175h0M3363 1168h0M3311 1160h0M3306 1167h0M3381 1124h0M3271 1182h0M3309 1142h0M3329 1233h0M3318 1230h0M3397 1117h0M3328 1223h0M3283 1304h0M3337 1220h0M3357 1179h0M3302 1263h0M3375 1324h0M3335 1264h0M3334 1134h0M3361 1228h0M3289 1161h0M3291 1243h0M3341 1201h0M3313 1279h0M3323 1269h0M3301 1190h0M3305 1145h0M3266 1177h0M3342 1282h0M3299 1250h0M3294 1290h0M3285 1315h0M3308 1250h0M3281 1237h0M3326 1277h0M3355 1137h0M3337 1284h0M3349 1317h0M3313 1207h0M3289 1140h0M3297 1203h0M3282 1220h0M3381 1164h0M3325 1233h0M3347 1185h0M3371 1178h0M3324 1198h0M3371 1142h0M3370 1297h0M3361 1131h0M3315 1182h0M3370 1264h0M3355 1208h0M3316 1194h0M3347 1201h0M3364 1303h0M3313 1262h0M3313 1181h0M3309 1291h0M3318 1267h0M3289 1314h0M3300 1143h0M3373 1117h0M3336 1297h0M3315 1194h0M3295 1190h0M3280 1220h0M3371 1132h0M3297 1179h0M3335 1150h0M3294 1217h0M3372 1347h0M3333 1226h0M3324 1188h0M3301 1305h0M3313 1178h0M3372 1312h0M3338 1319h0M3333 1188h0M3327 1293h0M3303 1233h0M3341 1222h0M3289 1172h0M3307 1151h0M3328 1137h0M3294 1266h0M3379 1305h0M3265 1213h0M3310 1249h0M3284 1234h0M3300 1186h0M3352 1141h0M3334 1211h0M3299 1183h0M3364 1298h0M3253 1229h0M3353 1174h0M3343 1244h0M3306 1265h0M3290 1344h0M3301 1336h0M3316 1135h0M3322 1157h0M3375 1142h0M3339 1116h0M3292 1222h0M3303 1175h0M3328 1254h0M3351 1204h0M3288 1247h0M3373 1134h0M3297 1155h0M3317 1239h0M3370 1297h0M3307 1214h0M3254 1298h0M3302 1190h0M3333 1242h0M3290 1270h0M3314 1183h0M3322 1217h0M3326 1207h0M3259 1148h0M3306 1258h0M3322 1173h0M3253 1190h0M3317 1308h0M3315 1195h0M3302 1224h0M3285 1223h0M3325 1152h0M3322 1314h0M3250 1183h0M3323 1195h0M3330 1203h0M3378 1159h0M3324 1237h0M3280 1163h0M3310 1212h0M3280 1186h0M3312 1306h0M3308 1215h0M3282 1313h0M3286 1239h0M3332 1307h0M3317 1290h0M3285 1268h0M3320 1192h0M3295 1279h0M3395 1129h0M3336 1177h0M3338 1129h0M3357 1184h0M3341 1297h0M3281 1152h0M3274 1140h0M3389 1293h0M3370 1131h0M3318 1275h0M3319 1183h0M3304 1172h0M3344 1187h0M3301 1300h0M3366 1308h0M3342 1151h0M3281 1164h0M3368 1296h0M3314 1152h0M3349 1296h0M3326 1279h0M3324 1261h0M3326 1258h0M3287 1157h0M3304 1229h0M3309 1234h0M3330 1135h0M3307 1218h0M3356 1140h0M3292 1221h0M3386 1151h0M3352 1320h0M3290 1271h0M3324 1243h0M3300 1252h0M3329 1209h0M3351 1309h0M3329 1213h0M3305 1151h0M3314 1331h0M3332 1298h0M3340 1188h0M3334 1248h0M3302 1186h0M3351 1250h0M3330 1267h0M3315 1176h0M3366 1144h0M3380 1175h0M3378 1158h0M3295 1164h0M3395 1118h0M3316 1155h0M3309 1192h0M3352 1134h0M3303 1195h0M3324 1142h0M3321 1173h0M3323 1268h0M3308 1141h0M3346 1268h0M3359 1125h0M3278 1233h0M3375 1221h0M3350 1202h0M3310 1210h0M3315 1269h0M3301 1159h0M3333 1225h0M3268 1194h0M3294 1185h0M3327 1153h0M3353 1163h0M3327 1143h0M3328 1309h0M3331 1195h0M3327 1288h0M3330 1185h0M3314 1155h0M3344 1319h0M3365 1143h0M3363 1292h0M3340 1149h0M3299 1241h0M3328 1187h0M3265 1249h0M3376 1293h0M3326 1177h0M3316 1240h0M3337 1131h0M3313 1156h0M3360 1158h0M3352 1134h0M3340 1227h0M3270 1248h0M3292 1258h0M3264 1190h0M3236 1184h0M3276 1248h0M3275 1200h0M3280 1215h0M3261 1147h0M3261 1207h0M3185 1223h0M3249 1257h0M3202 1255h0M3292 1164h0M3260 1138h0M3284 1288h0M3220 1262h0M3190 1271h0M3226 1274h0M3269 1307h0M3265 1196h0M3251 1315h0M3215 1233h0M3332 1210h0M3287 1198h0M3294 1339h0M3288 1180h0M3325 1225h0M3231 1189h0M3291 1158h0M3251 1165h0M3234 1283h0M3219 1277h0M3277 1304h0M3266 1246h0M3282 1269h0M3259 1155h0M3259 1223h0M3247 1193h0M3274 1232h0M3220 1257h0M3267 1176h0M3249 1290h0M3204 1214h0M3274 1316h0M3232 1197h0M3238 1159h0M3271 1159h0M3243 1292h0M3237 1244h0M3273 1161h0M3297 1219h0M3261 1254h0M3266 1272h0M3286 1145h0M3255 1260h0M3261 1312h0M3223 1348h0M3267 1139h0M3295 1287h0M3223 1254h0M3283 1336h0M3312 1153h0M3210 1259h0M3256 1309h0M3293 1259h0M3215 1163h0M3233 1277h0M3222 1212h0M3209 1286h0M3284 1282h0M3227 1231h0M3312 1247h0M3230 1172h0M3232 1200h0M3269 1270h0M3253 1242h0M3307 1253h0M3278 1230h0M3258 1286h0M3202 1219h0M3251 1166h0M3254 1187h0M3258 1157h0M3296 1230h0M3257 1321h0M3282 1279h0M3292 1286h0M3219 1292h0M3272 1250h0M3233 1217h0M3160 1206h0M3140 1278h0M3170 1257h0M3099 1272h0M3192 1258h0M3167 1120h0M3219 1323h0M3267 1231h0M3209 1216h0M3159 1298h0M3202 1340h0M3113 1237h0M3198 1280h0M3140 1135h0M3277 1283h0M3128 1339h0M3208 1261h0M3136 1403h0M3165 1278h0M3195 1295h0M3198 1279h0M3220 1308h0M3298 1340h0M3175 1247h0M3186 1240h0M3167 1138h0M3184 1323h0M3218 1225h0M3117 1255h0M3212 1228h0M3137 1160h0M3210 1288h0M3191 1248h0M3101 1232h0M3247 1241h0M3169 1266h0M3138 1253h0M3130 1100h0M3103 1281h0M3215 1319h0M3126 1208h0M3165 1366h0M3221 1258h0M3114 1231h0M3261 1367h0M3261 1126h0M3199 1326h0M3234 1350h0M3241 1295h0M3276 1312h0M3147 1238h0M3114 1243h0M3111 1156h0M3291 1252h0M3153 1269h0M3332 1247h0M3117 1299h0M3153 1257h0M3119 1350h0M3176 1259h0M3099 1268h0M3288 1256h0M3277 1246h0M3218 1193h0M3124 1366h0M3098 1209h0M3128 1243h0M3121 1226h0M3141 1248h0M3163 1285h0M3201 1269h0M3224 1287h0M3267 1236h0M3107 1298h0M3109 1243h0M3155 1185h0M3143 1145h0M3278 1201h0M3278 1206h0M3139 1218h0M3179 1264h0M3193 1318h0M3204 1258h0M3215 1141h0M3209 1271h0M3560 1297h0M3595 1337h0M3557 1350h0M3438 1318h0M3398 1330h0M3510 1351h0M3540 1316h0M3533 1435h0M3462 1383h0M3369 1350h0M3430 1292h0M3471 1364h0M3392 1335h0M3522 1382h0M3477 1362h0M3444 1378h0M3469 1363h0M3497 1315h0M3667 1345h0M3451 1337h0M3494 1358h0M3659 1324h0M3599 1328h0M3604 1361h0M3588 1402h0M3573 1367h0M3590 1380h0M3447 1338h0M3428 1357h0M3586 1360h0M3515 1316h0M3505 1370h0M3400 1306h0M3532 1292h0M3631 1379h0M3653 1338h0M3655 1343h0M3567 1320h0M3444 1314h0M3254 1341h0M3628 1335h0M3503 1328h0M3435 1369h0M3445 1391h0M3423 1362h0M3349 1317h0M3350 1298h0M3139 1334h0M3569 1318h0M3557 1328h0M3476 1345h0M3625 1343h0M3392 1311h0M3488 1351h0M3534 1357h0M3535 1365h0M3589 1332h0M3445 1407h0M3533 1284h0M3535 1343h0M3538 1338h0M3471 1321h0M3313 1279h0M3667 1316h0M3577 1374h0M3506 1364h0M3439 1337h0M3521 1290h0M3273 1331h0M3591 1311h0M3525 1364h0M3532 1353h0M3202 1321h0M3542 1319h0M3677 1373h0M3597 1378h0M3481 1331h0M3691 1317h0M3501 1378h0M3678 1350h0M3528 1420h0M3505 1394h0M3503 1383h0M3515 1383h0M3669 1332h0M3718 1367h0M3453 1359h0M3625 1346h0M3321 1364h0M3394 1325h0M3632 1376h0M3505 1341h0M3460 1294h0M3631 1387h0M3541 1327h0M3613 1362h0M3497 1375h0M3455 1350h0M3512 1328h0M3471 1408h0M3538 1350h0M3547 1386h0M3515 1333h0M3492 1304h0M3303 1345h0M3551 1380h0M3555 1303h0M3534 1346h0M3610 1422h0M3438 1336h0M3365 1388h0M3528 1353h0M3610 1379h0M3514 1303h0M3583 1398h0M3572 1322h0M3429 1338h0M3368 1377h0M3406 1275h0M3583 1313h0M3562 1384h0M3284 1303h0M3473 1381h0M3378 1382h0M3557 1328h0M3445 1342h0M3553 1366h0M3580 1363h0M3510 1307h0M3514 1341h0M3652 1352h0M3451 1359h0M3604 1322h0M3647 1363h0M3515 1382h0M3399 1388h0M3490 1328h0M3466 1331h0M3442 1345h0M3442 1347h0M3489 1325h0M3666 1331h0M3552 1376h0M3542 1331h0M3514 1358h0M3572 1349h0M3532 1315h0M3447 1365h0M3553 1334h0M3472 1389h0M3383 1362h0M3477 1398h0M3517 1315h0M3502 1338h0M3636 1339h0M3541 1298h0M3413 1362h0M3435 1342h0M3624 1357h0M3585 1363h0M3618 1402h0M3546 1312h0M3507 1372h0M3587 1343h0M3569 1328h0M3707 1296h0M3502 1354h0M3431 1342h0M3654 1343h0M3456 1333h0M3439 1373h0M3398 1342h0M3436 1310h0M3478 1348h0M3740 1388h0M3463 1325h0M3588 1336h0M3592 1390h0M3403 1328h0M3596 1432h0M3377 1362h0M3387 1317h0M3634 1422h0M3548 1387h0M3639 1327h0M3615 1314h0M3659 1394h0M3534 1358h0M3479 1309h0M3453 1348h0M3533 1369h0M3365 1369h0M3732 1372h0M3517 1308h0M3553 1294h0M3581 1346h0M3511 1347h0M3409 1373h0M3483 1326h0M3577 1393h0M3700 1286h0M3366 1391h0M3567 1307h0M3423 1349h0M3664 1380h0M3389 1371h0M3363 1316h0M3432 1366h0M3496 1363h0M3535 1361h0M3394 1352h0M3462 1352h0M3565 1329h0M3472 1364h0M3583 1372h0M3342 1358h0M3527 1365h0M3536 1352h0M3582 1347h0M3628 1347h0M3512 1341h0M3416 1346h0M3494 1361h0M3345 1357h0M3523 1347h0M3291 1396h0M3738 1341h0M3469 1347h0M3475 1307h0M3525 1392h0M3684 1368h0M3542 1352h0M3453 1364h0M3413 1262h0M3461 1361h0M3350 1351h0M3488 1372h0M3514 1294h0M3526 1368h0M3626 1343h0M3765 1348h0M3442 1316h0M3447 1363h0M3540 1367h0M3395 1353h0M3432 1354h0M3538 1297h0M3595 1369h0M3501 1460h0M3483 1408h0M3468 1418h0M3502 1463h0M3455 1352h0M3479 1410h0M3477 1431h0M3518 1408h0M3468 1474h0M3535 1467h0M3585 1401h0M3473 1506h0M3481 1419h0M3539 1370h0M3448 1393h0M3540 1460h0M3468 1463h0M3488 1371h0M3453 1453h0M3649 1427h0M3690 1450h0M3440 1395h0M3561 1450h0M3497 1406h0M3498 1427h0M3437 1427h0M3368 1493h0M3505 1412h0M3498 1462h0M3587 1420h0M3413 1398h0M3504 1388h0M3433 1440h0M3674 1341h0M3721 1401h0M3686 1337h0M3707 1300h0M3725 1299h0M3707 1317h0M3707 1353h0M3709 1330h0M3725 1299h0M3698 1354h0M3715 1326h0M3679 1350h0M3694 1351h0M3673 1327h0M3679 1354h0M3720 1366h0M3699 1329h0M3698 1351h0M3714 1344h0M3701 1318h0M3716 1382h0M3714 1370h0M3721 1352h0M3700 1310h0M3700 1330h0M3698 1361h0M3701 1388h0M3670 1329h0M3699 1391h0M3710 1389h0M3672 1291h0M3727 1322h0M3698 1385h0M3695 1305h0M3703 1395h0M3698 1324h0M3710 1388h0M3692 1368h0M3714 1367h0M3715 1287h0M3699 1354h0M3704 1351h0M3729 1380h0M3699 1366h0M3703 1372h0M3691 1305h0M3708 1333h0M3707 1366h0M3697 1318h0M3717 1328h0M3688 1379h0M3709 1360h0M3687 1301h0M3695 1304h0M3683 1319h0M3733 1333h0M3730 1338h0M3676 1311h0M3703 1347h0M3687 1380h0M3731 1306h0M3668 1295h0M3674 1334h0M3728 1297h0M3734 1359h0M3726 1346h0M3683 1333h0M3681 1298h0M3704 1365h0M3692 1391h0M3688 1326h0M3690 1373h0M3716 1381h0M3685 1367h0M3702 1290h0M3718 1291h0M3706 1315h0M3706 1306h0M3721 1394h0M3714 1299h0M3720 1327h0M3743 1332h0M3681 1318h0M3687 1335h0M3685 1324h0M3700 1380h0M3684 1320h0M3715 1312h0M3727 1294h0M3738 1314h0M3720 1325h0M3699 1370h0M3707 1297h0M3698 1321h0M3697 1327h0M3676 1316h0M3718 1338h0M3697 1344h0M3734 1321h0M3682 1360h0M3698 1366h0M3691 1373h0M3707 1393h0M3720 1308h0M3693 1373h0M3707 1312h0M3727 1290h0M3726 1375h0M3672 1330h0M3745 1337h0M3779 1230h0M3832 1196h0M3824 1076h0M3831 1201h0M3816 1122h0M3796 1217h0M3786 1238h0M3859 1158h0M3820 1154h0M3843 1110h0M3832 1241h0M3821 1194h0M3820 1123h0M3833 1231h0M3787 1258h0M3841 1145h0M3753 1271h0M3790 1180h0M3805 1145h0M3811 1127h0M3862 1167h0M3855 1195h0M3808 1087h0M3789 1213h0M3782 1156h0M3880 1122h0M3831 1190h0M3840 1207h0M3832 1066h0M3828 1078h0M3834 1194h0M3802 1215h0M3865 1101h0M3841 1207h0M3824 1073h0M3838 1216h0M3807 1247h0M3811 1185h0M3845 1177h0M3830 1183h0M3818 1174h0M3853 1116h0M3795 1147h0M3827 1063h0M3873 1133h0M3869 1129h0M3861 1150h0M3809 1128h0M3833 1097h0M3806 1156h0M3840 1224h0M3899 1121h0M3837 1124h0M3867 1130h0M3848 1182h0M3815 1148h0M3786 1202h0M3815 1158h0M3811 1233h0M3823 1203h0M3862 1102h0M3861 1156h0M3839 1191h0M3855 1141h0M3819 1220h0M3858 1110h0M3831 1119h0M3783 1247h0M3849 1130h0M3804 1216h0M3808 1184h0M3809 1082h0M3838 1210h0M3845 1146h0M3820 1145h0M3804 1164h0M3823 1157h0M3814 1087h0M3866 1109h0M3850 1116h0M3826 1095h0M3817 1218h0M3852 1151h0M3799 1225h0M3861 1142h0M3864 1086h0M3884 1145h0M3789 1213h0M3814 1177h0M3786 1217h0M3870 1090h0M3881 1123h0M3849 1113h0M3862 1087h0M3821 1152h0M3818 1188h0M3801 1162h0M3827 1173h0M3826 1116h0M3830 1148h0M3796 1207h0M3814 1190h0M3817 1183h0M3826 1134h0M3848 1182h0M3845 1109h0M3841 1119h0M3845 1176h0M3850 1172h0M3800 1174h0M3852 1106h0M3848 1137h0M3846 1136h0M3809 1178h0M3845 1208h0M3861 1133h0M3864 1141h0M3853 1106h0M3792 1202h0M3797 1207h0M3847 1143h0M3797 1194h0M3788 1190h0M3822 1226h0M3818 1230h0M3834 1161h0M3877 1136h0M3785 1223h0M3860 1164h0M3768 1249h0M3839 1206h0M3799 1213h0M3817 1140h0M3747 1237h0M3819 1151h0M3828 1114h0M3828 1091h0M3842 1148h0M3810 1089h0M3822 1223h0M3839 1179h0M3783 1238h0M3842 1106h0M3838 1203h0M3803 1113h0M3821 1226h0M3827 1221h0M3824 1107h0M3866 1106h0M3791 1256h0M3811 1136h0M3875 1092h0M3841 1112h0M3787 1215h0M3814 1157h0M3776 1238h0M3862 1192h0M3807 1157h0M3769 1231h0M3804 1177h0M3821 1237h0M3805 1177h0M3807 1243h0M3861 1082h0M3835 1179h0M3837 1160h0M3855 1157h0M3797 1249h0M3814 1252h0M3867 1121h0M3813 1209h0M3811 1238h0M3821 1091h0M3838 1144h0M3873 1128h0M3827 1110h0M3829 1069h0M3812 1182h0M3824 1109h0M3807 1208h0M3820 1064h0M3802 1083h0M3801 1196h0M3820 1231h0M3850 1074h0M3827 1214h0M3780 1235h0M3814 1232h0M3781 1260h0M3856 1098h0M3861 1214h0M3794 1251h0M3800 1207h0M3826 1170h0M3789 1206h0M3799 1210h0M3840 1126h0M3829 1197h0M3805 1092h0M3801 1156h0M3816 1105h0M3852 1166h0M3838 1218h0M3800 1160h0M3806 1260h0M3798 1218h0M3821 1176h0M3807 1067h0M3825 1192h0M3785 1173h0M3795 1193h0M3795 1172h0M3825 1147h0M3838 1112h0M3847 1186h0M3805 1191h0M3821 1229h0M3790 1066h0M3805 1251h0M3792 1178h0M3824 1145h0M3775 1250h0M3865 1175h0M3843 1145h0M3824 1146h0M3840 1157h0M3833 1187h0M3854 1142h0M3829 1237h0M3834 1152h0M3821 1234h0M3855 1077h0M3816 1202h0M3813 1159h0M3818 1230h0M3848 1195h0M3808 1101h0M3848 1096h0M3820 1110h0M3866 1100h0M3793 1240h0M3842 1144h0M3831 1122h0M3812 1111h0M3801 1076h0M3814 1182h0M3790 1255h0M3818 1255h0M3805 1239h0M3834 1147h0M3857 1077h0M3875 1123h0M3842 1105h0M3819 1070h0M3805 1123h0M3865 1142h0M3827 1124h0M3872 981h0M3806 993h0M3681 994h0M3835 990h0M3640 999h0M3777 1040h0M3780 1042h0M3725 1038h0M3672 1018h0M3660 994h0M3741 1047h0M3708 1010h0M3633 1024h0M3647 1012h0M3657 1019h0M3724 1042h0M3762 988h0M3775 984h0M3739 998h0M3798 1024h0M3856 986h0M3718 983h0M3733 1010h0M3673 1029h0M3851 997h0M3816 955h0M3761 989h0M3795 1015h0M3713 1027h0M3636 1036h0M3785 1008h0M3762 1033h0M3850 1008h0M3812 1031h0M3707 1039h0M3816 1007h0M3847 974h0M3657 1012h0M3837 985h0M3797 1000h0M3776 1008h0M3608 1038h0M3858 1022h0M3601 1048h0M3749 1000h0M3777 1002h0M3691 1031h0M3780 988h0M3894 1045h0M3931 1001h0M3818 1020h0M3811 983h0M3647 1015h0M3563 1027h0M3643 1024h0M3793 1010h0M3767 1012h0M3685 1026h0M3563 1029h0M3634 1012h0M3555 1011h0M3800 966h0M3683 1007h0M3609 998h0M3666 1007h0M3704 1011h0M3747 997h0M3679 1008h0M3766 973h0M3604 1012h0M3797 1048h0M3669 1004h0M3768 1013h0M3684 1011h0M3754 1026h0M3676 988h0M3650 1004h0M3760 1001h0M3728 996h0M3764 967h0M3556 1016h0M3757 996h0M3869 980h0M3751 986h0M3809 1032h0M3723 994h0M3663 976h0M3685 1010h0M3798 990h0M3744 1007h0M3737 987h0M3798 1015h0M3800 983h0M3788 1004h0M3892 1020h0M3644 1028h0M3730 1051h0M3847 978h0M3783 1023h0M3638 992h0M3802 1014h0M3759 979h0M3641 1025h0M3637 1015h0M3659 1048h0M3775 1026h0M3783 983h0M3600 1008h0M3767 991h0M3882 1033h0M3787 1015h0M3710 1018h0M3784 1017h0M3709 965h0M3668 1006h0M3679 1026h0M3893 971h0M3645 1019h0M3870 991h0M3773 1018h0M3627 1025h0M3592 1019h0M3903 1003h0M3656 1016h0M3811 1003h0M3745 1018h0M3943 1016h0M3874 1020h0M3771 1000h0M3685 995h0M3716 1018h0M3683 988h0M3829 995h0M3709 995h0M3745 993h0M3775 1009h0M3786 1006h0M3622 1012h0M3771 984h0M3897 1035h0M3682 1003h0M3720 999h0M3669 993h0M3619 1015h0M3827 1005h0M3753 989h0M3662 984h0M3672 1019h0M3740 1048h0M3665 1012h0M3694 1023h0M3833 1029h0M3811 1040h0M3635 1040h0M3758 1012h0M3716 999h0M3694 1034h0M3830 1017h0M3692 1029h0M3755 1023h0M3765 1014h0M3630 1006h0M3763 1030h0M3734 1063h0M3675 1033h0M3860 1015h0M3809 989h0M3646 1063h0M3657 983h0M3760 1046h0M3533 1019h0M3661 986h0M3628 1023h0M3653 1013h0M3656 1021h0M3610 980h0M3641 1015h0M3692 994h0M3596 962h0M3613 1020h0M3568 1013h0M3701 1012h0M3534 1018h0M3640 1008h0M3654 1038h0M3615 983h0M3591 1024h0M3645 988h0M3529 1020h0M3687 1046h0M3565 980h0M3521 1005h0M3553 995h0M3519 1021h0M3612 1036h0M3580 1005h0M3640 1069h0M3683 1010h0M3515 1029h0M3666 996h0M3649 992h0M3621 1007h0M3595 988h0M3626 1031h0M3543 1013h0M3601 1012h0M3784 995h0M3715 989h0M3681 1004h0M3627 984h0M3640 1014h0M3628 1036h0M3547 1021h0M3503 962h0M3528 924h0M3545 967h0M3465 932h0M3622 947h0M3358 999h0M3449 951h0M3471 972h0M3537 1034h0M3682 897h0M3573 985h0M3577 985h0M3611 942h0M3540 921h0M3441 960h0M3561 953h0M3625 992h0M3550 1011h0M3709 1024h0M3568 1019h0M3473 1024h0M3549 994h0M3760 1102h0M3807 1088h0M3727 1084h0M3769 1064h0M3754 1229h0M3803 1133h0M3763 1073h0M3668 1255h0M3693 1282h0M3776 1171h0M3626 1277h0M3691 1082h0M3658 1097h0M3692 1276h0M3759 1064h0M3727 1100h0M3672 1269h0M3776 1161h0M3700 1269h0M3679 1266h0M3764 1092h0M3656 1080h0M3666 1083h0M3764 1222h0M3695 1099h0M3835 1092h0M3775 1072h0M3747 1078h0M3689 1256h0M3658 1094h0M3770 1233h0M3819 1105h0M3711 1070h0M3719 1248h0M3816 1128h0M3781 1101h0M3646 1066h0M3712 1278h0M3750 1077h0M3775 1259h0M3793 1134h0M3776 1163h0M3670 1063h0M3771 1063h0M3625 1106h0M3757 1100h0M3680 1260h0M3718 1274h0M3699 1287h0M3656 1264h0M3682 1085h0M3649 1264h0M3769 1082h0M3805 1100h0M3690 1262h0M3818 1084h0M3788 1099h0M3814 1088h0M3680 1275h0M3739 1267h0M3670 1070h0M3821 1093h0M3627 1263h0M3637 1100h0M3759 1215h0M3671 1089h0M3712 1281h0M3757 1242h0M3624 1054h0M3698 1075h0M3693 1277h0M3617 1091h0M3822 1088h0M3722 1085h0M3769 1196h0M3681 1255h0M3716 1274h0M3725 1268h0M3661 1065h0M3776 1081h0M3677 1079h0M3626 1282h0M3730 1261h0M3664 1269h0M3718 1088h0M3802 1112h0M3787 1084h0M3735 1249h0M3791 1082h0M3732 1088h0M3703 1257h0M3693 1279h0M3668 1087h0M3765 1219h0M3713 1270h0M3633 1094h0M3826 1106h0M3794 1103h0M3616 1094h0M3631 1102h0M3699 1068h0M3849 1073h0M3665 1271h0M3737 1086h0M3629 1079h0M3701 1282h0M3624 1104h0M3665 1277h0M3670 1282h0M3736 1096h0M3806 1112h0M3633 1064h0M3780 1076h0M3641 1086h0M3733 1086h0M3733 1248h0M3800 1102h0M3729 1271h0M3730 1098h0M3641 1284h0M3734 1261h0M3801 1124h0M3645 1268h0M3716 1079h0M3774 1072h0M3738 1094h0M3712 1085h0M3760 1098h0M3628 1274h0M3728 1265h0M3633 1260h0M3756 1271h0M3650 1101h0M3782 1190h0M3758 1264h0M3766 1086h0M3777 1099h0M3672 1102h0M3777 1081h0M3747 1235h0M3727 1258h0M3631 1096h0M3784 1158h0M3791 1080h0M3658 1106h0M3838 1070h0M3790 1165h0M3718 1066h0M3662 1089h0M3689 1077h0M3654 1088h0M3773 1093h0M3616 1276h0M3583 1095h0M3658 1274h0M3663 1081h0M3826 1097h0M3658 1282h0M3778 1195h0M3770 1183h0M3803 1112h0M3783 1094h0M3652 1258h0M3752 1074h0M3803 1082h0M3695 1287h0M3747 1076h0M3658 1070h0M3680 1094h0M3680 1085h0M3759 1213h0M3745 1064h0M3658 1289h0M3661 1265h0M3691 1070h0M3811 1096h0M3800 1134h0M3796 1078h0M3679 1094h0M3670 1092h0M3622 1280h0M3688 1076h0M3740 1092h0M3804 1074h0M3662 1264h0M3636 1274h0M3618 1075h0M3756 1259h0M3768 1096h0M3708 1075h0M3702 1259h0M3744 1100h0M3710 1079h0M3759 1099h0M3804 1114h0M3688 1269h0M3828 1088h0M3695 1076h0M3730 1098h0M3810 1115h0M3772 1088h0M3784 1067h0M3743 1239h0M3759 1070h0M3761 1074h0M3761 1094h0M3797 1064h0M3703 1093h0M3625 1082h0M3743 1083h0M3762 1216h0M3777 1167h0M3674 1074h0M3755 1075h0M3737 1075h0M3761 1253h0M3699 1283h0M3704 1298h0M3677 1255h0M3685 1284h0M3660 1267h0M3771 1179h0M3682 1291h0M3754 1253h0M3743 1255h0M3771 1071h0M3701 1258h0M3712 1069h0M3747 1243h0M3639 1269h0M3799 1087h0M3627 1086h0M3643 1272h0M3730 1096h0M3639 1088h0M3758 1094h0M3801 1090h0M3650 1264h0M3798 1103h0M3730 1255h0M3721 1100h0M3734 1101h0M3782 1151h0M3688 1066h0M3701 1260h0M3637 1270h0M3685 1086h0M3655 1094h0M3673 1266h0M3677 1079h0M3642 1068h0M3805 1108h0M3669 1290h0M3620 1262h0M3707 1066h0M3729 1082h0M3713 1269h0M3816 1087h0M3641 1078h0M3718 1283h0M3654 1089h0M3633 1282h0M3783 1094h0M3672 1283h0M3767 1221h0M3804 1114h0M3727 1266h0M3628 1072h0M3783 1144h0M3710 1281h0M3671 1281h0M3630 1098h0M3678 1083h0M3631 1099h0M3689 1071h0M3666 1071h0M3800 1086h0M3826 1066h0M3724 1253h0M3718 1274h0M3782 1164h0M3808 1105h0M3705 1078h0M3629 1274h0M3750 1254h0M3756 1077h0M3743 1094h0M3833 1092h0M3684 1074h0M3803 1113h0M3670 1288h0M3796 1090h0M3611 1095h0M3645 1071h0M3708 1263h0M3783 1154h0M3785 1142h0M3672 1080h0M3626 1088h0M3798 1074h0M3619 1074h0M3779 1149h0M3645 1099h0M3712 1287h0M3756 1098h0M3675 1092h0M3778 1169h0" stroke="#6dc8ea" stroke-width="7.1" stroke-linecap="round" fill="none"/><path d="M3443 1186h0M3653 1178h0M3686 1120h0M3686 1154h0M3549 1214h0M3532 1135h0M3432 1191h0M3581 1182h0M3647 1154h0M3567 1154h0M3442 1195h0M3497 1263h0M3664 1214h0M3569 1164h0M3522 1152h0M3507 1259h0M3700 1187h0M3448 1225h0M3700 1209h0M3576 1175h0M3540 1218h0M3594 1156h0M3660 1114h0M3588 1109h0M3436 1212h0M3558 1263h0M3481 1167h0M3635 1187h0M3540 1250h0M3703 1160h0M3466 1266h0M3557 1159h0M3673 1123h0M3677 1233h0M3650 1165h0M3541 1136h0M3590 1152h0M3497 1210h0M3454 1162h0M3447 1170h0M3537 1149h0M3474 1261h0M3709 1171h0M3532 1251h0M3488 1184h0M3618 1219h0M3540 1186h0M3484 1187h0M3447 1180h0M3606 1178h0M3449 1196h0M3660 1207h0M3695 1196h0M3567 1190h0M3514 1254h0M3422 1212h0M3682 1240h0M3600 1141h0M3526 1169h0M3479 1224h0M3451 1170h0M3569 1243h0M3544 1118h0M3514 1253h0M3472 1203h0M3515 1248h0M3475 1269h0M3488 1127h0M3456 1278h0M3683 1180h0M3492 1233h0M3463 1192h0M3499 1191h0M3431 1208h0M3615 1171h0M3435 1232h0M3448 1222h0M3622 1236h0M3699 1190h0M3586 1205h0M3567 1181h0M3468 1223h0M3682 1213h0M3528 1226h0M3468 1174h0M3523 1269h0M3433 1258h0M3438 1264h0M3498 1177h0M3475 1179h0M3559 1228h0M3488 1227h0M3429 1187h0M3516 1143h0M3538 1231h0M3638 1155h0M3632 1118h0M3642 1241h0M3448 1182h0M3570 1224h0M3470 1272h0M3602 1166h0M3669 1188h0M3456 1147h0M3579 1170h0M3661 1249h0M3577 1155h0M3443 1179h0M3495 1146h0M3693 1199h0M3631 1256h0M3430 1208h0M3705 1153h0M3517 1270h0M3513 1126h0M3630 1244h0M3458 1177h0M3466 1186h0M3724 1123h0M3602 1174h0M3557 1112h0M3536 1177h0M3544 1261h0M3568 1218h0M3493 1247h0M3473 1157h0M3526 1208h0M3530 1162h0M3493 1254h0M3453 1255h0M3475 1174h0M3632 1177h0M3423 1238h0M3676 1162h0M3672 1241h0M3635 1115h0M3686 1200h0M3509 1249h0M3625 1245h0M3506 1208h0M3666 1126h0M3705 1133h0M3436 1172h0M3670 1206h0M3647 1159h0M3523 1264h0M3675 1228h0M3489 1201h0M3638 1258h0M3566 1256h0M3661 1242h0M3704 1116h0M3614 1157h0M3619 1140h0M3725 1151h0M3591 1154h0M3600 1204h0M3439 1196h0M3533 1123h0M3671 1186h0M3542 1156h0M3473 1273h0M3500 1180h0M3557 1211h0M3551 1251h0M3445 1273h0M3562 1152h0M3468 1162h0M3647 1181h0M3634 1250h0" stroke="#fff" stroke-width="3.6" stroke-linecap="round" fill="none"/></g>
<path d="M1547.3 444.9L1547.3 771.1L1981 771.1" fill="none" stroke="#222" stroke-width="1.5"/>
<path d="M1547.3 767h2.8M1547.3 762.9h2.8M1547.3 759.4h2.8M1547.3 756.2h2.8M1547.3 753.4h5.2M1547.3 734.9h2.8M1547.3 724.1h2.8M1547.3 716.4h2.8M1547.3 710.4h2.8M1547.3 705.5h2.8M1547.3 701.4h2.8M1547.3 697.9h2.8M1547.3 694.7h2.8M1547.3 691.9h5.2M1547.3 673.4h2.8M1547.3 662.6h2.8M1547.3 654.9h2.8M1547.3 648.9h2.8M1547.3 644h2.8M1547.3 639.9h2.8M1547.3 636.4h2.8M1547.3 633.2h2.8M1547.3 630.4h5.2M1547.3 611.9h2.8M1547.3 601.1h2.8M1547.3 593.4h2.8M1547.3 587.4h2.8M1547.3 582.5h2.8M1547.3 578.4h2.8M1547.3 574.9h2.8M1547.3 571.7h2.8M1547.3 568.9h5.2M1547.3 550.4h2.8M1547.3 539.6h2.8M1547.3 531.9h2.8M1547.3 525.9h2.8M1547.3 521h2.8M1547.3 516.9h2.8M1547.3 513.4h2.8M1547.3 510.2h2.8M1547.3 507.4h5.2M1547.3 488.9h2.8M1547.3 478.1h2.8M1547.3 470.4h2.8M1547.3 464.4h2.8M1547.3 459.5h2.8M1547.3 455.4h2.8M1547.3 451.9h2.8M1547.3 448.7h2.8" stroke="#222" stroke-width="1.1" fill="none"/>
<path d="M1626.2 771.1v-3.5M1714.8 771.1v-3.5M1803.8 771.1v-3.5M1892 771.1v-3.5M1981 771.1v-3.5" stroke="#222" stroke-width="1.2" fill="none"/>
<path d="M1547.3 526.2L1981 526.2" stroke="#111" stroke-width="2.1" fill="none" stroke-dasharray="8.5 7"/>
<path d="M1833.9 444.9L1833.9 771.1" stroke="#111" stroke-width="2.1" fill="none" stroke-dasharray="8.5 7"/>
<text x="1559.7" y="478.5" font-size="23.6" textLength="58.4" lengthAdjust="spacingAndGlyphs">ROI 1</text>
<text x="1896.7" y="478.5" font-size="23.6" textLength="59.4" lengthAdjust="spacingAndGlyphs">ROI 2</text>
<text x="1557.3" y="752.8" font-size="23.6" textLength="59.4" lengthAdjust="spacingAndGlyphs">ROI 3</text>
<text x="1896.7" y="752.8" font-size="23.6" textLength="59.4" lengthAdjust="spacingAndGlyphs">ROI 4</text>
<text x="1560.8" y="437.4" font-size="24.2" textLength="52.6" lengthAdjust="spacingAndGlyphs" font-weight="bold" font-style="italic">37°C</text>
<text x="1480.6" y="751" font-size="25" textLength="270" lengthAdjust="spacingAndGlyphs" transform="rotate(-90 1480.6 751)">dsGreen intensity (A.U)</text>
<text x="1532.4" y="520.1" font-size="24" text-anchor="end" textLength="26.2" lengthAdjust="spacingAndGlyphs">10</text>
<text x="1532.6" y="499.7" font-size="15" textLength="8.2" lengthAdjust="spacingAndGlyphs">6</text>
<text x="1532.4" y="639.9" font-size="24" text-anchor="end" textLength="26.2" lengthAdjust="spacingAndGlyphs">10</text>
<text x="1532.6" y="619.5" font-size="15" textLength="8.2" lengthAdjust="spacingAndGlyphs">4</text>
<text x="1532.4" y="763.8" font-size="24" text-anchor="end" textLength="26.2" lengthAdjust="spacingAndGlyphs">10</text>
<text x="1532.6" y="743.4" font-size="15" textLength="8.2" lengthAdjust="spacingAndGlyphs">2</text>
<path d="M1823.7 907.3L1841.2 902.5L1904.3 902.5L1910.9 909.5L1906.5 922.5L1893.4 937.8L1882.5 963.9L1871.7 981.4L1856.4 992.2L1836.8 998.8L1819.4 990.1Z" fill="#6dc8ea"/>
<g transform="scale(.5)"><path d="M3591 1843h0M3563 1954h0M3368 1938h0M3517 1946h0M3566 1844h0M3464 2000h0M3737 1804h0M3739 1798h0M3583 1839h0M3621 1972h0M3651 1991h0M3744 1791h0M3545 1864h0M3486 1991h0M3434 1909h0M3851 1800h0M3638 2036h0M3643 1999h0M3415 1889h0M3577 1914h0M3499 1935h0M3778 1894h0M3497 1950h0M3519 1919h0M3530 1933h0M3382 1946h0M3586 1905h0M3535 1928h0M3468 1888h0M3444 1923h0M3739 1987h0M3553 1915h0M3519 1853h0M3387 1885h0M3408 1892h0M3397 1887h0M3666 1990h0M3658 2037h0M3630 1879h0M3407 1974h0M3451 1833h0M3630 1985h0M3546 1936h0M3720 1807h0M3657 1814h0M3411 1859h0M3388 1940h0M3461 2001h0M3560 1873h0M3336 1991h0M3539 1944h0M3562 1852h0M3762 1808h0M3696 1804h0M3383 1913h0M3429 1926h0M3456 1966h0M3727 1806h0M3617 1972h0M3530 1992h0M3496 1993h0M3653 2034h0M3605 1822h0M3581 1840h0M3492 1983h0M3539 1919h0M3614 1862h0M3784 1808h0M3617 1839h0M3414 1871h0M3474 1868h0M3419 1884h0M3712 2003h0M3544 1965h0M3575 1884h0M3606 1911h0M3624 1894h0M3430 1956h0M3810 1887h0M3465 2011h0M3463 1896h0M3469 1852h0M3416 1973h0M3604 1919h0M3494 1825h0M3621 1855h0M3527 1832h0M3582 1966h0M3388 1898h0M3353 1931h0M3765 1785h0M3754 1808h0M3740 1783h0M3395 1880h0M3602 1850h0M3591 1856h0M3460 1905h0M3473 1947h0M3376 1970h0M3685 1766h0M3437 1866h0M3577 1998h0M3557 1899h0M3610 1983h0M3607 2016h0M3632 2015h0M3516 1875h0M3482 1834h0M3469 1925h0M3506 1909h0M3493 1915h0M3509 1904h0M3554 1990h0M3543 1995h0M3570 1916h0M3438 1971h0M3609 1945h0M3628 2019h0M3777 1929h0M3618 1849h0M3656 1791h0M3550 1882h0M3542 1925h0M3605 1853h0M3482 1914h0M3618 1966h0M3658 2001h0M3609 1948h0M3421 1981h0M3490 1954h0M3765 1800h0M3525 1969h0M3386 1915h0M3434 1936h0M3482 1893h0M3592 1851h0M3516 2005h0M3574 1857h0M3487 1912h0M3615 1914h0M3502 1923h0M3413 1930h0M3450 1864h0M3584 1887h0M3389 1985h0M3450 1925h0M3499 1910h0M3538 1904h0M3614 1938h0M3812 1799h0M3568 1885h0M3639 1905h0M3738 2005h0M3614 1823h0M3687 1801h0M3519 1981h0M3600 1897h0M3643 2024h0M3553 1886h0M3448 1918h0M3486 1911h0M3371 1948h0M3459 1885h0M3576 1846h0M3679 1996h0M3775 1937h0M3676 2010h0M3450 1956h0M3646 1894h0M3555 1985h0M3440 1857h0M3408 1931h0M3528 1933h0M3402 1970h0M3410 1888h0M3486 1971h0M3649 1864h0M3612 1992h0M3405 1845h0M3604 1942h0M3628 1903h0M3505 1908h0M3427 1989h0M3437 1848h0M3464 1843h0M3480 1993h0M3611 1982h0M3354 1952h0M3361 1912h0M3582 1850h0M3571 1953h0M3500 2002h0M3599 1986h0M3396 1953h0M3488 1917h0M3448 2005h0M3638 1923h0M3581 1861h0M3542 2018h0M3732 1805h0M3639 1882h0M3491 1984h0M3595 1881h0M3604 1937h0M3799 1875h0M3628 1972h0M3856 1803h0M3771 1911h0M3526 1863h0M3473 1913h0M3492 1881h0M3406 1970h0M3404 1946h0M3485 1987h0M3391 1912h0M3509 2006h0M3458 2006h0M3423 1934h0M3427 1894h0M3410 1954h0M3442 1866h0M3625 1889h0M3522 1855h0M3344 1942h0M3447 1897h0M3365 1902h0M3460 1922h0M3498 1994h0M3657 1998h0M3427 1852h0M3818 1822h0M3434 1852h0M3455 1867h0M3646 1926h0M3537 1984h0M3454 1943h0M3615 1845h0M3759 1801h0M3644 1822h0M3556 1937h0M3649 1891h0M3562 1920h0M3689 2024h0M3444 1901h0M3648 1879h0M3557 1986h0M3389 1899h0M3506 1897h0M3447 1880h0M3550 2013h0M3492 1880h0M3407 1864h0M3510 1921h0M3787 1945h0M3490 1899h0M3550 1972h0M3801 1870h0M3630 1843h0M3571 1955h0M3384 1957h0M3627 1954h0M3589 2007h0M3498 1894h0M3432 1919h0M3381 1891h0M3751 1800h0M3572 1859h0M3524 1984h0M3512 1854h0M3450 1963h0M3583 1882h0M3413 1948h0M3432 1880h0M3543 1917h0M3617 2015h0M3511 2000h0M3483 1838h0M3466 1881h0M3402 1989h0M3404 1955h0M3805 1794h0M3502 2002h0M3433 1998h0M3391 1964h0M3485 1948h0M3384 1958h0M3396 1927h0M3725 1992h0M3465 1912h0M3585 2000h0M3611 1941h0M3515 1906h0M3353 1957h0M3395 1890h0M3388 1915h0M3524 1909h0M3551 1912h0M3643 1840h0M3662 1791h0M3464 1928h0M3724 1795h0M3421 2004h0M3495 1990h0M3466 2007h0M3608 1864h0M3421 1927h0M3556 1968h0M3445 2003h0M3452 1861h0M3844 1831h0M3827 1807h0M3620 1831h0M3479 1915h0M3548 1980h0M3585 1934h0M3686 2011h0M3403 1934h0M3387 1963h0M3785 1889h0M3649 1998h0M3519 1985h0M3677 1999h0M3548 1951h0M3532 1882h0M3391 1968h0M3468 1870h0M3576 1976h0M3442 1990h0M3495 1998h0M3758 1805h0M3395 1898h0M3589 1995h0M3766 1798h0M3644 1915h0M3582 1947h0M3608 1892h0M3530 1840h0M3630 1892h0M3596 1856h0M3497 1850h0M3615 1835h0M3808 1801h0M3480 1876h0M3797 1793h0M3628 1892h0M3646 2023h0M3547 1890h0M3468 1986h0M3796 1788h0M3611 1897h0M3578 1943h0M3425 1973h0M3471 1917h0M3512 1955h0M3443 1860h0M3590 1989h0M3558 2003h0M3510 2013h0M3505 1914h0M3451 1886h0M3572 2000h0M3614 1962h0M3466 1855h0M3552 1947h0M3635 1940h0M3473 1985h0M3568 2000h0M3784 1791h0M3618 1990h0M3500 1916h0M3486 1957h0M3637 1935h0M3544 2000h0M3477 1932h0M3654 1998h0M3736 1977h0M3440 1889h0M3716 1990h0M3632 1803h0M3700 1790h0M3427 1905h0M3578 2012h0M3366 1904h0M3354 1961h0M3423 1878h0M3543 1905h0M3561 1890h0M3531 1923h0M3618 1975h0M3488 1860h0M3367 1933h0M3519 1996h0M3517 1912h0M3636 1870h0M3615 1907h0M3519 1863h0M3576 1980h0M3758 1810h0M3399 1842h0M3654 1990h0M3772 1790h0M3388 1889h0M3475 1901h0M3511 1829h0M3633 1871h0M3730 1996h0M3635 1851h0M3536 1884h0M3521 1978h0M3391 1988h0M3389 1892h0M3479 1864h0M3410 1859h0M3538 1989h0M3557 1907h0M3386 1992h0M3601 1902h0M3524 1893h0M3535 1859h0M3551 1938h0M3537 1934h0M3421 1991h0M3438 1901h0M3540 1857h0M3718 1785h0M3767 1934h0M3793 1786h0M3640 1866h0M3625 1956h0M3547 1874h0M3655 2021h0M3544 1931h0M3543 1964h0M3369 1886h0M3560 1971h0M3593 1913h0M3561 1954h0M3408 1850h0M3626 1930h0M3428 1988h0M3627 2022h0M3804 1866h0M3629 1955h0M3521 1880h0M3560 1915h0M3542 1906h0M3470 1987h0M3404 1931h0M3639 1841h0M3589 1861h0M3402 1958h0M3582 1962h0M3483 1911h0M3759 1790h0M3373 1982h0M3450 1945h0M3615 1970h0M3478 1992h0M3461 1921h0M3579 1839h0M3451 1906h0M3814 1780h0M3694 1804h0M3633 1990h0M3619 1885h0M3539 1900h0M3514 1912h0M3507 1904h0M3394 1950h0M3432 1890h0M3474 1851h0M3620 1886h0M3775 1934h0M3618 1947h0M3553 1975h0M3411 1848h0M3506 1942h0M3624 1954h0M3609 1933h0M3527 1967h0M3538 2004h0M3546 1926h0M3549 1942h0M3482 1906h0M3533 1937h0M3639 1933h0M3781 1901h0M3447 1914h0M3478 1920h0M3610 1860h0M3557 1967h0M3628 1892h0M3431 1979h0M3584 1980h0M3481 1833h0M3465 1984h0M3436 1907h0M3558 1905h0M3514 1902h0M3640 1877h0M3419 1899h0M3553 1983h0M3624 1868h0M3504 1869h0M3473 2008h0M3528 1897h0M3545 1878h0M3480 1931h0M3541 1993h0M3548 1919h0M3504 1904h0M3703 1801h0M3545 1977h0M3494 1955h0M3546 1916h0M3422 1954h0M3383 1923h0M3566 1993h0M3479 1995h0M3429 1904h0M3648 2010h0M3448 2000h0M3510 1936h0M3535 1998h0M3404 1933h0M3461 1946h0M3615 1870h0M3497 1901h0M3648 1791h0M3364 1956h0M3534 1948h0M3543 1962h0M3547 1934h0M3597 1936h0M3530 1834h0M3387 1857h0M3682 1808h0M3369 1899h0M3444 1989h0M3441 1854h0M3583 2012h0M3490 1974h0M3813 1778h0M3540 1855h0M3483 1900h0M3813 1863h0M3588 2009h0M3513 1862h0M3633 2013h0M3660 2007h0M3604 1845h0M3621 1847h0M3639 1855h0M3549 1956h0M3626 1816h0M3393 1966h0M3520 1840h0M3475 1882h0M3407 1982h0M3470 1950h0M3447 1982h0M3593 1862h0M3429 1858h0M3425 1940h0M3625 1917h0M3428 1995h0M3572 1932h0M3544 1978h0M3434 1927h0M3520 1988h0M3519 1995h0M3444 2001h0M3406 1927h0M3578 1880h0M3587 1951h0M3443 1961h0M3469 1937h0M3552 1949h0M3532 1969h0M3525 1893h0M3466 1842h0M3363 1932h0M3631 1929h0M3377 1940h0M3533 1878h0M3537 1945h0M3640 1906h0M3837 1785h0M3585 1899h0M3564 1929h0M3478 1964h0M3561 1870h0M3461 1993h0M3504 1998h0M3456 1904h0M3616 1959h0M3620 1921h0M3459 1867h0M3788 1927h0M3735 1799h0M3522 1935h0M3536 1951h0M3401 1962h0M3454 1892h0M3441 1862h0M3507 1892h0M3420 1868h0M3713 1811h0M3465 1909h0M3648 1888h0M3616 1942h0M3547 1927h0M3594 1954h0M3445 1954h0M3706 1803h0M3639 1898h0M3551 1836h0M3555 1919h0M3455 1875h0M3626 1957h0M3398 1964h0M3609 1995h0M3777 1802h0M3369 1928h0M3541 1880h0M3474 1978h0M3651 1982h0M3570 1942h0M3486 1842h0M3598 1908h0M3510 1870h0M3403 1862h0M3399 1905h0M3441 1949h0M3720 1790h0M3399 1896h0M3759 1942h0M3558 1899h0M3724 1980h0M3757 1958h0M3541 1858h0M3603 1935h0M3534 1908h0M3496 1926h0M3591 1942h0M3511 1905h0M3454 1993h0M3604 1913h0M3490 1952h0M3453 1985h0M3608 1875h0M3505 1977h0M3584 1859h0M3593 1865h0M3477 1946h0M3475 1880h0M3617 2001h0M3614 1994h0M3429 1961h0M3524 1926h0M3637 1810h0M3587 1986h0M3766 1779h0M3374 1994h0M3757 1806h0M3743 1985h0M3627 1813h0M3810 1813h0M3462 2000h0M3530 1890h0M3394 1858h0M3463 1907h0M3585 1968h0M3568 1929h0M3581 2002h0M3504 1829h0M3639 1930h0M3543 1966h0M3815 1814h0M3716 1994h0M3522 1930h0M3598 1932h0M3614 1888h0M3536 2000h0M3510 1938h0M3444 1899h0M3649 1812h0M3410 1881h0M3608 1893h0M3486 1908h0M3486 1868h0M3584 1959h0M3481 1874h0M3606 1891h0M3479 1935h0M3557 1938h0M3477 2005h0M3717 1801h0M3628 1931h0M3527 1863h0M3408 1994h0M3687 2001h0M3573 2000h0M3626 1941h0M3429 1851h0M3624 1965h0M3411 1916h0M3570 1838h0M3700 1805h0M3488 1858h0M3451 1903h0M3397 1856h0M3496 1921h0M3643 1810h0M3529 1898h0M3373 1978h0M3639 1810h0M3380 1866h0M3805 1885h0M3599 2014h0M3445 1975h0M3614 1836h0M3362 1902h0M3551 1933h0M3435 1970h0M3656 2029h0M3450 1899h0M3702 1783h0M3523 1913h0M3735 1980h0M3627 1894h0M3423 1861h0M3606 2005h0M3446 1855h0M3514 1822h0M3554 1865h0M3675 1801h0M3468 1859h0M3825 1864h0M3502 1950h0M3504 1928h0M3610 1908h0M3371 1973h0M3560 1843h0M3695 1779h0M3399 1943h0M3634 1912h0M3406 1979h0M3557 1894h0M3433 1971h0M3435 1915h0M3797 1792h0M3684 1996h0M3615 1861h0M3755 1942h0M3440 1857h0M3433 1938h0M3402 1849h0M3436 1885h0M3764 1793h0M3489 1975h0M3737 1786h0M3516 1846h0M3523 1934h0M3376 1960h0M3369 1914h0M3746 1978h0M3462 1873h0M3482 1903h0M3445 1863h0M3423 1995h0M3457 1831h0M3539 1918h0M3630 1868h0M3457 1894h0M3387 1877h0M3798 1806h0M3497 1865h0M3379 1941h0M3529 1886h0M3434 1921h0M3643 1892h0M3566 1953h0M3536 1895h0M3394 1972h0M3465 1877h0M3669 1810h0M3456 1850h0M3608 1885h0M3680 1778h0M3357 1942h0M3499 1898h0M3479 1878h0M3590 1958h0M3358 1889h0M3506 1953h0M3496 1997h0M3711 2016h0M3797 1893h0M3609 1950h0M3488 1893h0M3725 1982h0M3600 1857h0M3776 1808h0M3480 1967h0M3432 1907h0M3748 1799h0M3592 1832h0M3427 1855h0M3510 1951h0M3494 1895h0M3637 2012h0M3453 1958h0M3765 1956h0M3385 1925h0M3480 1937h0M3615 1837h0M3466 2000h0M3652 1838h0M3544 1982h0M3544 1851h0M3579 1912h0M3533 1855h0M3498 1883h0M3621 1953h0M3817 1777h0M3695 1987h0M3442 1837h0M3504 1963h0M3470 1869h0M3607 1993h0M3519 1986h0M3629 1995h0M3643 1804h0M3656 1798h0M3592 1910h0M3423 1950h0M3469 1833h0M3590 1835h0M3533 1878h0M3432 1857h0M3415 1956h0M3600 2007h0M3558 1859h0M3465 1885h0M3488 1956h0M3601 1842h0M3830 1870h0M3612 1883h0M3534 1965h0M3380 1987h0M3646 1809h0M3407 1935h0M3414 1926h0M3479 1916h0M3801 1863h0M3377 1941h0M3676 1788h0M3644 1954h0M3455 1975h0M3564 1989h0M3424 1839h0M3691 1787h0M3400 1919h0M3465 1854h0M3534 1928h0M3523 1950h0M3490 1867h0M3585 1882h0M3513 1854h0M3459 1885h0M3454 1926h0M3389 1996h0M3470 1849h0M3580 1934h0M3633 2002h0M3461 1974h0M3631 1990h0M3598 1976h0M3611 1844h0M3623 1806h0M3566 1919h0M3359 1962h0M3632 1908h0M3464 1975h0M3609 2004h0M3634 1996h0M3441 1931h0M3746 1806h0M3493 1940h0M3809 1845h0M3610 1940h0M3370 1913h0M3540 1888h0M3624 1869h0M3476 1870h0M3397 1946h0M3478 1998h0M3641 1867h0M3425 2003h0M3389 1934h0M3565 1917h0M3581 1897h0M3340 1904h0M3475 1997h0M3525 1874h0M3465 1946h0M3603 1901h0M3704 1801h0M3824 1848h0M3631 1996h0M3430 1876h0M3645 1794h0M3782 1900h0M3605 1999h0M3603 1964h0M3697 1985h0M3632 1956h0M3575 1874h0M3519 2003h0M3502 1932h0M3774 1804h0M3567 1843h0M3420 1844h0M3816 1808h0M3500 1912h0M3583 1940h0M3458 2003h0M3588 1918h0M3447 1849h0M3561 1841h0M3643 1840h0M3604 1930h0M3650 1799h0M3707 2007h0M3596 1945h0M3607 1882h0M3433 1944h0M3598 1901h0M3436 1912h0M3370 1910h0M3553 1859h0M3510 1845h0M3626 1841h0M3387 1892h0M3437 1962h0M3598 2003h0M3762 1811h0M3611 1880h0M3626 1809h0M3633 1990h0M3605 1925h0M3579 1901h0M3495 1883h0M3805 1861h0M3475 1935h0M3592 1989h0M3734 1972h0M3641 1902h0M3608 2008h0M3818 1827h0M3794 1806h0M3614 1883h0M3597 2000h0M3733 1991h0M3529 1932h0M3362 1948h0M3428 1856h0M3395 1889h0M3563 1883h0M3525 1913h0M3641 1907h0M3489 1976h0M3522 1879h0M3421 1852h0M3474 1894h0M3505 1952h0M3428 1838h0M3533 1925h0M3581 2007h0M3395 1953h0M3509 1965h0M3382 1986h0M3479 1938h0M3585 1868h0M3621 2009h0M3784 1967h0M3627 1910h0M3441 1983h0M3629 1952h0M3490 1935h0M3465 1925h0M3600 1999h0M3674 1810h0M3634 1851h0M3651 1993h0M3556 1936h0M3552 2026h0M3406 1978h0M3596 1982h0M3536 1868h0M3576 1899h0M3568 1919h0M3493 1920h0M3628 2003h0M3449 1955h0M3528 1958h0M3410 1914h0M3786 1786h0M3553 1904h0M3387 1939h0M3653 1991h0M3782 1796h0M3679 2001h0M3439 1920h0M3466 1995h0M3477 1868h0M3605 1885h0M3394 1871h0M3607 2003h0M3575 1913h0M3810 1784h0M3592 1920h0M3363 1957h0M3463 1909h0M3486 1894h0M3602 1883h0M3520 1991h0M3615 1912h0M3444 1953h0M3580 1958h0M3607 1883h0M3813 1865h0M3536 1839h0M3624 1851h0M3527 1866h0M3608 1872h0M3655 2018h0M3496 1851h0M3540 1989h0M3425 1857h0M3569 1912h0M3501 1940h0M3642 1801h0M3441 1936h0M3464 1909h0M3794 1790h0M3814 1835h0M3733 2002h0M3444 1841h0M3636 1939h0M3395 1958h0M3818 1803h0M3389 1874h0M3603 1964h0M3446 1912h0M3584 1995h0M3564 2024h0M3558 1933h0M3468 1845h0M3440 1865h0M3625 1883h0M3478 1899h0M3463 1857h0M3643 1934h0M3594 1875h0M3476 1856h0M3392 1952h0M3413 1940h0M3673 1992h0M3416 1887h0M3849 1820h0M3404 1841h0M3597 1864h0M3608 2007h0M3542 1943h0M3377 2013h0M3576 1887h0M3518 1875h0M3567 1979h0M3378 1886h0M3766 1807h0M3496 1904h0M3425 1957h0M3610 1967h0M3514 1968h0M3443 1854h0M3609 2007h0M3638 1817h0M3402 1989h0M3402 1934h0M3657 1797h0M3534 1936h0M3723 1788h0M3556 1983h0M3584 1917h0M3630 1968h0M3528 1977h0M3557 2012h0M3412 1879h0M3696 2010h0M3580 1973h0M3564 1975h0M3601 1849h0M3390 1975h0M3628 1822h0M3473 1941h0M3742 1776h0M3623 1897h0M3355 1961h0M3381 1914h0M3624 1825h0M3415 1999h0M3573 1980h0M3459 1835h0M3442 1975h0M3451 1894h0M3633 1827h0M3411 1848h0M3642 2001h0M3592 2049h0M3641 1877h0M3639 1833h0M3646 1793h0M3346 1956h0M3584 1879h0M3533 1925h0M3567 1980h0M3445 1999h0M3614 1843h0M3836 1804h0M3561 1953h0M3406 1949h0M3436 2046h0M3593 1998h0M3595 2012h0M3485 1983h0M3401 1982h0M3443 1861h0M3809 1794h0M3836 1801h0M3439 1934h0M3506 1851h0M3527 1899h0M3653 1987h0M3394 1963h0M3517 1896h0M3484 1933h0M3805 1880h0M3610 1966h0M3646 1980h0M3543 1870h0M3505 1920h0M3441 1928h0M3400 1889h0M3574 1972h0M3438 1875h0M3578 1987h0M3621 1837h0M3510 1893h0M3494 1967h0M3560 2013h0M3445 1839h0M3387 1931h0M3386 1957h0M3497 1892h0M3476 1899h0M3422 1900h0M3593 1889h0M3568 1855h0M3846 1793h0M3836 1821h0M3357 1898h0M3474 1981h0M3451 1953h0M3425 1844h0M3577 1935h0M3548 1940h0M3465 1868h0M3485 1859h0M3458 1993h0M3357 1901h0M3521 2044h0M3620 1817h0M3439 2001h0M3356 1892h0M3392 1909h0M3379 1960h0M3595 2007h0M3424 1947h0M3591 1855h0M3593 1985h0M3599 1953h0M3725 1789h0M3581 1883h0M3629 2008h0M3429 1980h0M3513 1984h0M3683 1779h0M3417 1969h0M3471 1906h0M3545 1926h0M3618 1930h0M3559 1988h0M3410 1978h0M3517 1988h0M3580 1893h0M3463 1909h0M3614 2004h0M3713 1979h0M3806 1778h0M3689 1792h0M3520 1861h0M3404 1901h0M3469 1900h0M3803 1799h0M3582 1896h0M3372 1875h0M3596 1939h0M3530 1937h0M3513 1890h0M3403 1991h0M3584 1917h0M3766 1922h0M3614 1860h0M3382 1979h0M3379 1870h0M3483 1905h0M3844 1812h0M3831 1824h0M3722 1808h0M3552 1937h0M3413 1981h0M3486 1928h0M3384 1876h0M3420 1921h0M3620 2000h0M3627 1985h0M3618 1928h0M3450 1974h0M3536 1846h0M3405 1888h0M3594 1873h0M3416 2001h0M3526 1852h0M3670 1805h0M3458 1978h0M3472 1939h0M3457 1961h0M3430 1977h0M3385 1955h0M3490 1869h0M3486 1892h0M3601 1982h0M3588 1909h0M3617 1839h0M3376 1955h0M3447 1844h0M3457 1855h0M3630 2000h0M3544 1941h0M3691 1789h0M3845 1794h0M3437 1969h0M3458 1903h0M3560 1874h0M3612 1995h0M3841 1791h0M3628 1871h0M3503 1990h0M3423 1960h0M3633 1839h0M3446 1941h0M3514 1863h0M3474 1931h0M3620 1879h0M3636 1990h0M3649 1866h0M3394 2001h0M3657 1811h0M3445 1899h0M3390 1961h0M3529 1998h0M3620 1888h0M3583 2006h0M3397 1908h0M3624 1905h0M3389 1923h0M3595 1935h0M3819 1852h0M3739 1790h0M3375 1949h0M3534 1872h0M3504 1970h0M3455 1931h0M3796 1895h0M3604 1909h0M3614 1941h0M3779 1790h0M3669 1989h0M3620 1967h0M3417 1911h0M3658 2010h0M3563 1926h0M3644 1814h0M3524 1832h0M3739 1785h0M3487 1922h0M3470 1880h0M3523 1952h0M3570 1864h0M3621 1956h0M3701 2008h0M3465 1995h0M3856 1804h0M3458 1905h0M3764 1786h0M3653 2005h0M3791 1904h0M3727 1996h0M3611 1831h0M3517 1938h0M3641 2027h0M3523 2011h0M3701 1784h0M3409 1835h0M3573 1889h0M3784 1933h0M3607 1916h0M3768 1806h0M3413 1974h0M3655 1989h0M3583 1850h0M3524 1925h0M3459 1969h0M3418 2002h0M3442 1921h0M3542 1919h0M3457 1933h0M3589 2009h0M3623 1845h0M3502 1862h0M3485 1932h0M3611 1976h0M3450 1833h0M3494 1894h0M3411 1848h0M3369 1972h0M3572 1918h0M3550 2011h0M3632 1912h0M3438 1859h0M3548 1943h0M3482 1973h0M3615 1856h0M3539 1917h0M3627 1889h0M3402 1859h0M3632 1825h0M3619 1850h0M3477 1949h0M3815 1779h0M3638 1886h0M3658 1986h0M3459 1967h0M3799 1860h0M3431 1972h0M3395 1975h0M3435 1995h0M3767 1782h0M3532 1863h0M3402 1858h0M3630 1987h0M3374 1900h0M3443 1870h0M3521 2014h0M3642 1925h0M3420 1905h0M3568 1904h0M3557 1897h0M3513 1831h0M3839 1790h0M3628 2005h0M3526 1984h0M3635 2015h0M3409 1932h0M3561 1900h0M3368 1969h0M3598 1881h0M3700 1802h0M3571 1867h0M3369 1951h0M3546 1905h0M3709 1992h0M3653 2002h0M3541 1957h0M3611 1846h0M3375 1900h0M3454 1997h0M3472 1839h0M3604 1997h0M3594 1820h0M3651 1832h0M3439 1882h0M3422 1912h0M3646 1958h0M3757 1800h0M3717 1792h0M3592 1978h0M3643 1908h0M3359 1916h0M3629 1910h0M3511 1926h0M3749 1800h0M3467 1848h0M3745 1790h0M3673 2002h0M3595 1954h0M3832 1846h0M3489 1834h0M3711 2010h0M3608 1994h0M3783 1913h0M3533 1993h0M3528 1976h0M3572 1925h0M3589 1917h0M3800 1862h0M3705 2005h0M3621 1996h0M3421 1936h0M3578 1929h0M3424 1971h0M3598 1904h0M3823 1846h0M3388 1941h0M3634 1843h0M3621 1873h0M3577 1892h0M3567 1865h0M3616 1863h0M3526 1849h0M3456 1965h0M3478 1866h0M3517 1894h0M3367 1978h0M3693 1806h0M3430 1959h0M3664 1795h0M3740 1971h0M3427 1898h0M3688 1797h0M3645 1913h0M3536 1893h0M3439 1857h0M3606 1870h0M3809 1807h0M3493 1949h0M3581 1895h0M3860 1845h0M3530 1850h0M3573 1905h0M3544 1922h0M3483 1945h0M3437 1839h0M3465 1906h0M3635 1875h0M3466 1862h0M3457 1958h0M3763 1951h0M3468 1928h0M3625 1895h0M3633 1921h0M3474 1938h0M3400 1925h0M3532 1979h0M3486 1855h0M3684 1810h0M3459 1949h0M3603 1930h0M3531 1950h0M3425 1930h0M3611 1927h0M3497 1940h0M3588 1896h0M3509 1888h0M3604 1911h0M3478 1930h0M3787 1799h0M3444 1914h0M3471 1853h0M3505 1951h0M3644 1944h0M3577 1993h0M3673 1990h0M3618 1981h0M3578 1867h0M3440 1838h0M3357 1933h0M3609 1785h0M3490 1912h0M3437 1911h0M3474 1881h0M3560 1977h0M3506 2006h0M3737 1965h0M3471 1930h0M3566 1882h0M3512 2005h0M3588 1954h0M3827 1816h0M3489 1876h0M3377 1899h0M3495 2006h0M3523 1929h0M3414 1849h0M3475 1990h0M3626 1914h0M3491 1868h0M3627 1951h0M3771 1811h0M3543 1971h0M3520 1904h0M3594 1877h0M3632 1875h0M3693 1787h0M3459 2001h0M3745 1959h0M3335 1956h0M3543 1997h0M3420 1939h0M3379 1959h0M3645 1845h0M3481 1827h0M3384 1902h0M3686 2026h0M3598 1836h0M3577 1896h0M3741 1978h0M3613 1858h0M3765 1937h0M3693 1782h0M3506 1927h0M3429 1915h0M3570 1959h0M3496 1989h0M3562 1872h0M3502 1925h0M3465 1881h0M3530 1884h0M3612 1849h0M3469 1869h0M3450 1983h0M3788 1926h0M3441 1925h0M3415 2005h0M3416 1946h0M3551 1929h0M3496 1912h0M3629 1960h0M3615 1862h0M3449 1968h0M3471 1873h0M3620 1882h0M3435 1943h0M3635 1975h0M3620 1953h0M3532 1955h0M3501 1995h0M3504 2011h0M3447 2050h0M3545 2002h0M3689 1990h0M3510 1921h0M3639 1827h0M3583 1840h0M3551 2001h0M3704 1982h0M3656 1810h0M3490 1857h0M3750 1801h0M3428 1951h0M3406 1924h0M3535 1908h0M3576 1840h0M3552 1840h0M3481 1884h0M3376 1880h0M3372 1871h0M3527 1888h0M3584 1844h0M3690 1993h0M3785 1799h0M3593 1861h0M3686 1788h0M3425 1865h0M3584 1978h0M3405 1916h0M3632 1880h0M3449 1975h0M3402 1879h0M3729 2007h0M3656 1989h0M3730 1979h0M3404 1865h0M3551 1995h0M3478 1868h0M3647 1890h0M3539 1955h0M3618 1862h0M3610 1865h0M3538 1840h0M3781 1968h0M3364 1957h0M3489 1948h0M3617 1864h0M3604 1851h0M3576 1870h0M3644 1922h0M3371 1923h0M3564 1961h0M3466 1860h0M3575 1870h0M3640 1964h0M3470 1983h0M3410 1955h0M3358 1924h0M3454 1985h0M3421 2000h0M3583 2014h0M3832 1836h0M3408 1874h0M3404 1847h0M3556 1965h0M3445 1915h0M3590 1913h0M3492 2004h0M3365 1984h0M3603 1897h0M3443 2043h0M3652 1798h0M3543 1948h0M3583 1924h0M3513 1935h0M3383 1863h0M3659 2005h0M3599 1864h0M3673 1794h0M3647 1822h0M3424 1859h0M3630 1965h0M3355 1899h0M3406 1900h0M3495 1904h0M3428 1980h0M3534 1919h0M3654 1984h0M3714 1783h0M3649 1799h0M3798 1798h0M3539 1954h0M3591 1902h0M3418 1855h0M3478 1878h0M3603 1874h0M3757 1808h0M3510 1882h0M3362 1896h0M3408 1986h0M3501 1970h0M3690 2017h0M3646 1904h0M3465 1889h0M3455 1937h0M3570 1894h0M3658 2049h0M3778 1790h0M3629 1811h0M3709 1786h0M3820 1812h0M3831 1781h0M3620 1934h0M3720 1989h0M3641 1833h0M3455 1867h0M3625 1861h0M3611 1862h0M3374 1880h0M3389 1941h0M3556 1899h0M3856 1800h0M3443 1980h0M3464 1836h0M3619 1968h0M3827 1845h0M3476 2005h0M3441 1898h0M3478 1882h0M3849 1809h0M3494 1939h0M3637 1826h0M3686 1775h0M3554 1935h0M3548 1964h0M3565 1980h0M3645 1902h0M3583 1922h0M3438 1886h0M3648 1865h0M3563 1911h0M3492 1925h0M3449 2015h0M3385 1942h0M3763 1943h0M3592 1966h0M3639 2021h0M3456 1877h0M3427 1963h0M3468 1921h0M3546 1849h0M3525 1857h0M3615 1842h0M3586 1852h0M3618 1973h0M3483 1969h0M3842 1818h0M3555 2002h0M3402 1847h0M3397 1868h0M3489 1939h0M3630 1947h0M3423 1914h0M3800 1872h0M3617 1828h0M3466 1904h0M3494 1863h0M3419 1868h0M3578 1876h0M3647 1841h0M3432 1847h0M3482 1963h0M3690 1988h0M3594 1847h0M3634 1891h0M3544 1873h0M3799 1793h0M3387 1970h0M3755 1788h0M3489 1880h0M3597 1866h0M3584 1867h0M3519 2003h0M3451 1890h0M3527 1945h0M3424 1863h0M3647 2009h0M3610 1892h0M3581 1850h0M3604 1909h0M3425 1897h0M3427 1883h0M3786 1902h0M3783 1886h0M3791 1869h0M3601 2004h0M3806 1791h0M3565 1941h0M3576 1892h0M3641 1932h0M3517 1919h0M3552 1853h0M3395 1997h0M3557 1840h0M3517 1950h0M3462 1987h0M3546 1959h0M3435 1850h0M3642 1831h0M3588 1915h0M3548 1917h0M3476 1878h0M3357 1968h0M3539 1852h0M3556 1931h0M3501 2010h0M3755 1944h0M3597 1891h0M3551 1903h0M3464 1966h0M3537 1846h0M3646 1893h0M3531 1954h0M3495 1915h0M3638 1844h0M3576 1975h0M3459 1855h0M3439 1858h0M3419 1901h0M3481 1983h0M3475 1883h0M3711 1990h0M3505 2004h0M3598 1910h0M3723 1976h0M3822 1811h0M3504 1920h0M3638 1917h0M3627 1946h0M3530 1936h0M3492 1858h0M3664 1810h0M3514 1949h0M3566 1875h0M3591 1900h0M3648 2000h0M3467 1840h0M3774 1785h0M3411 1858h0M3412 1959h0M3589 1856h0M3672 2006h0M3550 1856h0M3482 1892h0M3633 1851h0M3480 1874h0M3513 1852h0M3719 1976h0M3617 2004h0M3641 1818h0M3417 1942h0M3530 1865h0M3588 1878h0M3474 2003h0M3573 1952h0M3564 1996h0M3488 1998h0M3659 2000h0M3505 1996h0M3618 1859h0M3457 1880h0M3503 1865h0M3839 1794h0M3431 1854h0M3641 1925h0M3571 1939h0M3552 1908h0M3761 1939h0M3382 1884h0M3524 1900h0M3594 1965h0M3814 1875h0M3634 1837h0M3392 1986h0M3674 1997h0M3459 1927h0M3714 1810h0M3457 1856h0M3491 1837h0M3638 1948h0M3509 1872h0M3426 1936h0M3472 1954h0M3717 1998h0M3823 1804h0M3615 1974h0M3589 1901h0M3562 1982h0M3782 1894h0M3614 1951h0M3644 1838h0M3557 1986h0M3674 1999h0M3464 1976h0M3415 1919h0M3644 1975h0M3564 1968h0M3645 1820h0M3591 1917h0M3575 1912h0M3587 1925h0M3755 1950h0M3497 1922h0M3397 1988h0M3512 1976h0M3592 1861h0M3610 1862h0M3392 1985h0M3513 1987h0M3501 1915h0M3464 1848h0M3460 1846h0M3555 1989h0M3630 1997h0M3447 1929h0M3642 1913h0M3518 1871h0M3637 1879h0M3632 1891h0M3484 1962h0M3508 1865h0M3731 1975h0M3443 2056h0M3698 1797h0M3502 1982h0M3484 1869h0M3425 1940h0M3741 1995h0M3482 1847h0M3537 1989h0M3473 1884h0M3618 1822h0M3575 1996h0M3518 1967h0M3518 2009h0M3554 1901h0M3623 1826h0M3592 1888h0M3469 1986h0M3634 1885h0M3659 1988h0M3565 1909h0M3408 1878h0M3585 1857h0M3689 1808h0M3395 1939h0M3450 1891h0M3619 1919h0M3492 1942h0M3421 1971h0M3602 1865h0M3524 1930h0M3533 1857h0M3572 1928h0M3511 1840h0M3547 1895h0M3575 1967h0M3466 1882h0M3633 1820h0M3756 1973h0M3465 1987h0M3420 1988h0M3811 1790h0M3783 1889h0M3506 1948h0M3666 1805h0M3552 1952h0M3403 1929h0M3433 1944h0M3466 1936h0M3513 1853h0M3523 1901h0M3553 1836h0M3567 1871h0M3359 1921h0M3567 1856h0M3370 1948h0M3774 1804h0M3540 1930h0M3751 1794h0M3363 1918h0M3431 1920h0M3383 1910h0M3582 1903h0M3829 1810h0M3480 1949h0M3529 1993h0M3638 1985h0M3612 1891h0M3425 1886h0M3404 1954h0M3614 1835h0M3532 1941h0M3798 1888h0M3589 1984h0M3498 1980h0M3419 1853h0M3497 1940h0M3829 1805h0M3491 1983h0M3533 1934h0M3540 1998h0M3359 1912h0M3558 1982h0M3722 1807h0M3603 1995h0M3489 1987h0M3566 1955h0M3363 1978h0M3538 1886h0M3808 1772h0M3509 1984h0M3522 1874h0M3716 1788h0M3588 1972h0M3427 1870h0M3455 1887h0M3495 1942h0M3593 1991h0M3632 1993h0M3683 1804h0M3624 1937h0M3433 1855h0M3574 1999h0M3820 1807h0M3667 1781h0M3627 1928h0M3447 1969h0M3448 1849h0M3637 1932h0M3772 1935h0M3532 1915h0M3424 1950h0M3374 1945h0M3437 2009h0M3502 1975h0M3559 1972h0M3405 1962h0M3517 1860h0M3710 1806h0M3486 1981h0M3617 1885h0M3737 1989h0M3847 1830h0M3779 1802h0M3855 1805h0M3601 1975h0M3816 1789h0M3805 1790h0M3520 1857h0M3639 2012h0M3459 1982h0M3697 1806h0M3834 1819h0M3485 1952h0M3547 1863h0M3421 1835h0M3669 1789h0M3416 1969h0M3566 1861h0M3597 1838h0M3695 2010h0M3467 1844h0M3486 1847h0M3640 1968h0M3712 2029h0M3404 1890h0M3432 1910h0M3594 2001h0M3469 1904h0M3805 1886h0M3533 1889h0M3463 2005h0M3436 1858h0M3462 1848h0M3472 1852h0M3628 1946h0M3604 1956h0M3439 1851h0M3616 1937h0M3552 2019h0M3424 1924h0M3599 1911h0M3782 1790h0M3568 1996h0M3627 2003h0M3489 1974h0M3482 1839h0M3568 1846h0M3699 1797h0M3632 1808h0M3566 1936h0M3478 1874h0M3632 1829h0M3393 1932h0M3569 1855h0M3438 1898h0M3387 1968h0M3635 1873h0M3510 2001h0M3595 1996h0M3411 1984h0M3506 1900h0M3556 1856h0M3508 1965h0M3572 1923h0M3640 1879h0M3484 1856h0M3658 1985h0M3463 1877h0M3404 2002h0M3570 1906h0M3489 1999h0M3494 1998h0M3421 1838h0M3489 1977h0M3663 1988h0M3456 1844h0M3779 1896h0M3599 1936h0M3407 1891h0M3518 1995h0M3628 1846h0M3437 1866h0M3635 1828h0M3634 1889h0M3498 1962h0M3617 1817h0M3789 1800h0M3479 1892h0M3831 1825h0M3496 1866h0M3802 1872h0M3823 1840h0M3578 1859h0M3520 1872h0M3379 1927h0M3426 1841h0M3640 2003h0M3793 1802h0M3501 2019h0M3601 1950h0M3614 1893h0M3487 1957h0M3643 1918h0M3643 1913h0M3495 1953h0M3499 1886h0M3619 1992h0M3834 1836h0M3388 1940h0M3611 1900h0M3656 1795h0M3823 1826h0M3486 1916h0M3610 1858h0M3500 1937h0M3738 1784h0M3790 1923h0M3533 2008h0M3592 1934h0M3567 1967h0M3568 1969h0M3748 1792h0M3436 1923h0M3373 1890h0M3577 1950h0M3676 2020h0M3706 1995h0M3755 1789h0M3467 1943h0M3460 1916h0M3484 1932h0M3562 1853h0M3363 1949h0M3648 1871h0M3556 1861h0M3527 1839h0M3687 2006h0M3561 1946h0M3458 1834h0M3531 1954h0M3569 1850h0M3454 1948h0M3775 1806h0M3496 1916h0M3408 1885h0M3802 1860h0M3582 1942h0M3453 1996h0M3558 1939h0M3385 1882h0M3542 1948h0M3381 1872h0M3824 1797h0M3522 1961h0M3797 1794h0M3391 1915h0M3497 2005h0M3561 1846h0M3440 1879h0M3490 1842h0M3623 1908h0M3550 1854h0M3446 2002h0M3465 1874h0M3593 2003h0M3457 1909h0M3544 1854h0M3547 1887h0M3639 1880h0M3439 1837h0M3569 1897h0M3836 1794h0M3559 1925h0M3531 1991h0M3698 1998h0M3555 1888h0M3549 1860h0M3536 1963h0M3694 2010h0M3461 2002h0M3472 1879h0M3471 1877h0M3536 1932h0M3595 1943h0M3450 1945h0M3801 1791h0M3622 1892h0M3408 1974h0M3635 1891h0M3771 1912h0M3471 1971h0M3675 2023h0M3779 1915h0M3456 1925h0M3646 1988h0M3413 1926h0M3353 1953h0M3584 1996h0M3596 1981h0M3632 2006h0M3603 1985h0M3692 1784h0M3844 1810h0M3552 1958h0M3499 1907h0M3789 1788h0M3551 1909h0M3562 1919h0M3555 1905h0M3511 1946h0M3583 1848h0M3563 1838h0M3780 1800h0M3613 2022h0M3365 1902h0M3714 2006h0M3769 1952h0M3530 1969h0M3442 1829h0M3584 1996h0M3446 1900h0M3460 1918h0M3798 1788h0M3498 2000h0M3749 1784h0M3428 2005h0M3701 1795h0M3438 1881h0M3749 1987h0M3572 1928h0M3441 1903h0M3619 1995h0M3574 2011h0M3363 1979h0M3743 1961h0M3703 1794h0M3772 1926h0M3610 1961h0M3628 1901h0M3536 1876h0M3500 1834h0M3714 2006h0M3413 1847h0M3409 1934h0M3620 1902h0M3574 1874h0M3432 1885h0M3626 1863h0M3603 1910h0M3642 1901h0M3428 1864h0M3754 1945h0M3369 1958h0M3460 1899h0M3365 1959h0M3445 1990h0M3646 1965h0M3554 1977h0M3537 1977h0M3525 1962h0M3483 1882h0M3433 1862h0M3815 1806h0M3525 1911h0M3624 2016h0M3556 1929h0M3536 1994h0M3579 1889h0M3518 1962h0M3647 1811h0M3415 1875h0M3420 1868h0M3578 1958h0M3612 1966h0M3739 1991h0M3646 1817h0M3665 1811h0M3567 1922h0M3423 1840h0M3575 2000h0M3591 1900h0M3607 2022h0M3481 2002h0M3555 1902h0M3422 1985h0M3425 1994h0M3429 1954h0M3419 1869h0M3450 1993h0M3488 1852h0M3617 1843h0M3574 1844h0M3401 1948h0M3673 2024h0M3745 1800h0M3508 1988h0M3580 1852h0M3621 1946h0M3458 1957h0M3587 1917h0M3423 1918h0M3602 1939h0M3369 1959h0M3375 1938h0M3486 1847h0M3494 1883h0M3529 1888h0M3548 1948h0M3595 1934h0M3549 1963h0M3664 1800h0M3464 1902h0M3539 1985h0M3634 2011h0M3707 2004h0M3384 1942h0M3584 1891h0M3446 1827h0M3524 2001h0M3605 1836h0M3405 1970h0M3615 2013h0M3597 1915h0M3411 1843h0M3705 1795h0M3506 1882h0M3457 1994h0M3578 1937h0M3451 1916h0M3565 1874h0M3549 1846h0M3664 2009h0M3441 1911h0M3644 1862h0M3392 1917h0M3518 1982h0M3501 1993h0M3683 2042h0M3644 2010h0M3581 1898h0M3497 1985h0M3536 1985h0M3427 1956h0M3625 1995h0M3517 1889h0M3578 1921h0M3638 2013h0M3538 1956h0M3770 1784h0M3406 1869h0M3788 1807h0M3415 1959h0M3591 1953h0M3522 1940h0M3648 2007h0M3446 1898h0M3497 1918h0M3559 1983h0M3525 1944h0M3512 1997h0M3416 1990h0M3504 1986h0M3726 1795h0M3433 1858h0M3574 1889h0M3470 1915h0M3452 1955h0M3724 1978h0M3492 1890h0M3608 1898h0M3461 1981h0M3370 1961h0M3625 1824h0M3455 1856h0M3375 1973h0M3438 1835h0M3596 1981h0M3620 1818h0M3593 1954h0M3525 1868h0M3441 1885h0M3463 1985h0M3621 1892h0M3649 1798h0M3793 1778h0M3394 1975h0M3574 2011h0M3423 1880h0M3556 2003h0M3501 2005h0M3512 1940h0M3598 1908h0M3481 1846h0M3608 1846h0M3454 1897h0M3637 1886h0M3478 1942h0M3644 1928h0M3412 1855h0M3479 1839h0M3785 1915h0M3433 1882h0M3580 1868h0M3501 1920h0M3617 1928h0M3580 1981h0M3500 1938h0M3791 1894h0M3479 2012h0M3551 1997h0M3425 1919h0M3411 1911h0M3405 1917h0M3498 1922h0M3362 1912h0M3589 1889h0M3731 1781h0M3471 1974h0M3530 1920h0M3590 1939h0M3635 1940h0M3604 1857h0M3626 1827h0M3583 2009h0M3474 2001h0M3388 1877h0M3411 1882h0M3640 1800h0M3427 1925h0M3486 1841h0M3809 1812h0M3568 1980h0M3508 1966h0M3481 1962h0M3439 1961h0M3735 1803h0M3491 1981h0M3823 1816h0M3386 1959h0M3829 1791h0M3603 1882h0M3632 2017h0M3573 1972h0M3815 1846h0M3790 1794h0M3380 1929h0M3465 1830h0M3433 1930h0M3528 1969h0M3426 1951h0M3586 1942h0M3423 1944h0M3629 1926h0M3472 1979h0M3495 2007h0M3403 1940h0M3462 2003h0M3476 1843h0M3404 1879h0M3508 1915h0M3581 1979h0M3629 1797h0M3460 1905h0M3358 1965h0M3603 1948h0M3436 1982h0M3635 1878h0M3532 1861h0M3510 1849h0M3542 1929h0M3409 1992h0M3809 1874h0M3555 1880h0M3647 2031h0M3562 1849h0M3681 1991h0M3608 2001h0M3639 1852h0M3617 1842h0M3493 1834h0M3701 1809h0M3724 1800h0M3424 1943h0M3343 1936h0M3691 1992h0M3427 1889h0M3576 1906h0M3578 1980h0M3407 1837h0M3605 1876h0M3411 1946h0M3696 1782h0M3506 1895h0M3440 1852h0M3488 2017h0M3649 1883h0M3547 1907h0M3561 1894h0M3551 1984h0M3409 1873h0M3596 1893h0M3806 1787h0M3360 1906h0M3555 1924h0M3358 1915h0M3548 1945h0M3496 1845h0M3596 1881h0M3440 1930h0M3482 2002h0M3376 1945h0M3447 1936h0M3649 1888h0M3615 1853h0M3489 1951h0M3624 1860h0M3538 1882h0M3816 1792h0M3553 1854h0M3450 1877h0M3634 1858h0M3530 2000h0M3490 1976h0M3602 1949h0M3612 2023h0M3572 1877h0M3385 1959h0M3461 1990h0M3656 1999h0M3511 1951h0M3800 1876h0M3496 1899h0M3730 1797h0M3621 1968h0M3756 1968h0M3528 1903h0M3390 1951h0M3722 1795h0M3492 1848h0M3825 1784h0M3641 2017h0M3558 1849h0M3617 1922h0M3554 1890h0M3624 1957h0M3458 1905h0M3665 1991h0M3525 2010h0M3447 1968h0M3520 1868h0M3434 1971h0M3496 1969h0M3538 1921h0M3657 1818h0M3429 1875h0M3643 1985h0M3401 1957h0M3576 1839h0M3511 2000h0M3644 1861h0M3599 1860h0M3461 1881h0M3578 1957h0M3524 1926h0M3380 1892h0M3459 1990h0M3694 1997h0M3712 1785h0M3403 1931h0M3568 1923h0M3404 1995h0M3815 1828h0M3532 1934h0M3635 1835h0M3506 1855h0M3843 1784h0M3532 1989h0M3540 1932h0M3644 1938h0M3443 1869h0M3611 1862h0M3639 1868h0M3801 1780h0M3835 1838h0M3372 1961h0M3508 1965h0M3743 1790h0M3371 1915h0M3384 1879h0M3458 1901h0M3491 1980h0M3545 1900h0M3465 1893h0M3548 1985h0M3423 1960h0M3525 1921h0M3727 1995h0M3377 1981h0M3459 1978h0M3676 2027h0M3561 1926h0M3453 1926h0M3630 1901h0M3650 1800h0M3394 1951h0M3357 1913h0M3645 2005h0M3539 1843h0M3432 1909h0M3565 2006h0M3424 1986h0M3500 1963h0M3625 1822h0M3534 1989h0M3400 1971h0M3439 1869h0M3491 1929h0M3382 1874h0M3523 1837h0M3620 2000h0M3442 1867h0M3658 1997h0M3475 1974h0M3661 2013h0M3386 1946h0M3504 1887h0M3402 1931h0M3706 1783h0M3432 1858h0M3770 1809h0M3354 1940h0M3539 1895h0M3486 1931h0M3498 1846h0M3761 1968h0M3442 1910h0M3708 1809h0M3390 1936h0M3374 1984h0M3423 2007h0M3598 1880h0M3440 1938h0M3479 1902h0M3597 1826h0M3368 1922h0M3530 1928h0M3809 1862h0M3478 1893h0M3491 1974h0M3523 2017h0M3487 1843h0M3621 1923h0M3390 1978h0M3420 2000h0M3574 1954h0M3796 1880h0M3609 1984h0M3421 1939h0M3455 1909h0M3591 1832h0M3699 1806h0M3769 1939h0M3404 1974h0M3606 2015h0M3489 1901h0M3741 1787h0M3677 1801h0M3494 1908h0M3480 1905h0M3611 1915h0M3615 1932h0M3768 1928h0M3585 1882h0M3458 1871h0M3528 1883h0M3568 1877h0M3523 1870h0M3548 1848h0M3423 1955h0M3376 1892h0M3428 1933h0M3783 1786h0M3624 1986h0M3619 1992h0M3396 1936h0M3693 1781h0M3574 1901h0M3581 2012h0M3502 1902h0M3442 1854h0M3378 1984h0M3556 1917h0M3446 1973h0M3602 1865h0M3664 1785h0M3640 1855h0M3409 1940h0M3654 2013h0M3470 1855h0M3343 1920h0M3673 1796h0M3509 1849h0M3586 1981h0M3574 1975h0M3540 1920h0M3641 1942h0M3592 1870h0M3618 1820h0M3683 2045h0M3851 1813h0M3387 1939h0M3477 1925h0M3479 1993h0M3592 1983h0M3521 1898h0M3545 1858h0M3545 1943h0M3827 1848h0M3491 1989h0M3823 1848h0M3336 1930h0M3685 2010h0M3485 1966h0M3777 1927h0M3358 1901h0M3699 1782h0M3391 1952h0M3629 1931h0M3649 1792h0M3615 1947h0M3828 1798h0M3639 1990h0M3387 1857h0M3523 1881h0M3613 1825h0M3575 1889h0M3732 1794h0M3517 1952h0M3639 1944h0M3522 1925h0M3772 1905h0M3497 2014h0M3483 1871h0M3388 1975h0M3389 1957h0M3429 1961h0M3579 1847h0M3766 1797h0M3389 1917h0M3399 1978h0M3597 1903h0M3524 1895h0M3482 1965h0M3615 2000h0M3517 1970h0M3466 1913h0M3599 1970h0M3693 1998h0M3599 1904h0M3440 1895h0M3456 1952h0M3577 1966h0M3378 1983h0M3680 1786h0M3596 1858h0M3641 1808h0M3633 1939h0M3425 1870h0M3614 1955h0M3453 1962h0M3791 1794h0M3695 1811h0M3701 1797h0M3372 1892h0M3489 1927h0M3475 1842h0M3729 1793h0M3786 1890h0M3618 1890h0M3704 1787h0M3519 1886h0M3433 1903h0M3632 1945h0M3835 1823h0M3447 1949h0M3858 1790h0M3370 1878h0M3592 1862h0M3577 2011h0M3500 1970h0M3669 1792h0M3516 1882h0M3502 2001h0M3645 1928h0M3799 1882h0M3612 1832h0M3488 1964h0M3457 1910h0M3555 1848h0M3562 1965h0M3642 1827h0M3491 1952h0M3831 1782h0M3641 1834h0M3555 1926h0M3504 1840h0M3632 2014h0M3592 2009h0M3689 1804h0M3600 1873h0M3553 1917h0M3650 2020h0M3501 1916h0M3428 2030h0M3788 1779h0M3613 2006h0M3439 1944h0M3829 1800h0M3594 2008h0M3619 1891h0M3520 1875h0M3367 1951h0M3569 1863h0M3404 1941h0M3363 1877h0M3620 1929h0M3711 1992h0M3384 1943h0M3533 1917h0M3589 1903h0M3475 1852h0M3385 1865h0M3449 1949h0M3816 1799h0M3439 1915h0M3736 1802h0M3756 1943h0M3716 1780h0M3458 1945h0M3448 1912h0M3639 1996h0M3679 2029h0M3513 1854h0M3709 1995h0M3398 1946h0M3537 1984h0M3544 1969h0M3768 1802h0M3572 1853h0M3401 1958h0M3518 1989h0M3409 1872h0M3539 1856h0M3711 1796h0M3646 1819h0M3399 1868h0M3615 1877h0M3371 1896h0M3422 1904h0M3537 1935h0M3471 1862h0M3547 1940h0M3567 1855h0M3646 1808h0M3484 1842h0M3398 1936h0M3447 1965h0M3464 1947h0M3531 1847h0M3598 1936h0M3407 1950h0M3410 1939h0M3799 1867h0M3596 1966h0M3499 1893h0M3581 1877h0M3420 1853h0M3754 1792h0M3809 1860h0M3385 1969h0M3479 1864h0M3793 1807h0M3554 1893h0M3439 1876h0M3568 1861h0M3633 1855h0M3525 1932h0M3704 1784h0M3647 1839h0M3433 1828h0M3338 1936h0M3400 1966h0M3634 1972h0M3512 1990h0M3522 1987h0M3402 1972h0M3402 1980h0M3408 1873h0M3828 1831h0M3596 1974h0M3816 1779h0M3554 1919h0M3612 1940h0M3516 1947h0M3447 1865h0M3544 2016h0M3751 1971h0M3522 2006h0M3602 1904h0M3768 1937h0M3444 1989h0M3436 2016h0M3456 1896h0M3820 1830h0M3512 1887h0M3514 1877h0M3423 2001h0M3621 1944h0M3528 1948h0M3374 1946h0M3536 1929h0M3433 1996h0M3465 1835h0M3533 1881h0M3612 1977h0M3467 1996h0M3505 1901h0M3558 1878h0M3584 1890h0M3829 1797h0M3448 1880h0M3648 1802h0M3772 1807h0M3503 1968h0M3616 1873h0M3528 1934h0M3570 1991h0M3575 1922h0M3386 1906h0M3629 1965h0M3535 1933h0M3487 1952h0M3683 1994h0M3622 1895h0M3570 1972h0M3567 1928h0M3391 1988h0M3617 1896h0M3374 1909h0M3430 1870h0M3574 1933h0M3509 1956h0M3436 1986h0M3511 1880h0M3512 1916h0M3766 1930h0M3401 1912h0M3478 1956h0M3600 1873h0M3560 1881h0M3704 1983h0M3508 1950h0M3638 1835h0M3652 1994h0M3390 1940h0M3588 1953h0M3627 1867h0M3413 1857h0M3538 1900h0M3440 1887h0M3518 2011h0M3523 2009h0M3629 1977h0M3477 1932h0M3637 1797h0M3732 1967h0M3527 1970h0M3536 1907h0M3734 1982h0M3475 1927h0M3596 1911h0M3587 2004h0M3807 1857h0M3411 1889h0M3689 2021h0M3561 1859h0M3396 1926h0M3425 1854h0M3587 1952h0M3802 1805h0M3717 1977h0M3666 2004h0M3563 1931h0M3571 1977h0M3613 1897h0M3422 1984h0M3445 1869h0M3450 1878h0M3781 1900h0M3421 1939h0M3682 1809h0M3415 1942h0M3636 1950h0M3376 1926h0M3576 1899h0M3748 1959h0M3590 1902h0M3467 1868h0M3561 1888h0M3581 1949h0M3446 1878h0M3484 1846h0M3613 1982h0M3433 1934h0M3619 1953h0M3666 2002h0M3859 1802h0M3398 1909h0M3568 1941h0M3405 1857h0M3390 1982h0M3599 1874h0M3410 1940h0M3803 1792h0M3702 1986h0M3458 1953h0M3590 1888h0M3494 1904h0M3748 1790h0M3620 1952h0M3809 1799h0M3559 1923h0M3576 1859h0M3387 1962h0M3444 1985h0M3477 1991h0M3544 1962h0M3603 1919h0M3593 1863h0M3514 1906h0M3401 1990h0M3579 1958h0M3590 1883h0M3540 1963h0M3647 1869h0M3593 1930h0M3518 1925h0M3608 1923h0M3634 1933h0M3502 1849h0M3402 1861h0M3442 1927h0M3671 2019h0M3643 2015h0M3402 2007h0M3498 1921h0M3565 2004h0M3446 1836h0M3844 1789h0M3529 1999h0M3431 1878h0M3480 1839h0M3567 1992h0M3511 1861h0M3608 1944h0M3391 1922h0M3448 1893h0M3811 1860h0M3495 1961h0M3522 1949h0M3720 1978h0M3573 1952h0M3535 1888h0M3417 1910h0M3390 1934h0M3622 1896h0M3644 1969h0M3621 1989h0M3542 1939h0M3841 1809h0M3367 1896h0M3607 1855h0M3545 1980h0M3551 1999h0M3421 1963h0M3536 1903h0M3707 1807h0M3523 1896h0M3531 1888h0M3581 1936h0M3401 1936h0M3596 2002h0M3534 1929h0M3769 1804h0M3838 1803h0M3571 1875h0M3427 1831h0M3823 1844h0M3561 1955h0M3787 1884h0M3477 1926h0M3354 1983h0M3591 1974h0M3546 1974h0M3505 1987h0M3863 1849h0M3440 1866h0M3438 1840h0M3396 1958h0M3376 1912h0M3588 1927h0M3596 1894h0M3346 1949h0M3503 1929h0M3387 1974h0M3570 2000h0M3514 1974h0M3425 1998h0M3611 1882h0M3576 1887h0M3644 2011h0M3441 1923h0M3526 1921h0M3461 1901h0M3438 1897h0M3550 1859h0M3400 1974h0M3459 1983h0M3587 1865h0M3379 1986h0M3400 1908h0M3665 1990h0M3556 1922h0M3593 1961h0M3644 1903h0M3390 1936h0M3461 1999h0M3794 1920h0M3640 1947h0M3414 1870h0M3645 1983h0M3599 1978h0M3409 1965h0M3820 1793h0M3402 1976h0M3614 1967h0M3388 1953h0M3637 1937h0M3624 1884h0M3649 1886h0M3641 1825h0M3532 1924h0M3689 1805h0M3547 1978h0M3459 2008h0M3374 1888h0M3550 1860h0M3775 1908h0M3363 1959h0M3426 1829h0M3416 1939h0M3514 1852h0M3593 1953h0M3624 2000h0M3536 1979h0M3612 1903h0M3437 1961h0M3678 1805h0M3713 1987h0M3369 1874h0M3536 1943h0M3795 1887h0M3628 2022h0M3436 1852h0M3857 1815h0M3594 1997h0M3463 1909h0M3498 1865h0M3553 1912h0M3424 1886h0M3489 1847h0M3525 1987h0M3566 1935h0M3654 2003h0M3509 1988h0M3547 1956h0M3396 1913h0M3791 1800h0M3625 1854h0M3543 1909h0M3458 1845h0M3536 1879h0M3512 1836h0M3599 1894h0M3621 2028h0M3447 1957h0M3579 1893h0M3640 2003h0M3817 1782h0M3464 1974h0M3402 1889h0M3804 1801h0M3565 1978h0M3404 1852h0M3368 1909h0M3605 1861h0M3540 1908h0M3613 2014h0M3633 1805h0M3768 1932h0M3435 1961h0M3642 1875h0M3692 1797h0M3643 2002h0M3617 1991h0M3495 1882h0M3528 1939h0M3381 1876h0M3653 2013h0M3550 1975h0M3640 1808h0M3727 1801h0M3646 1838h0M3388 1914h0M3460 1933h0M3601 1969h0M3487 1965h0M3367 1895h0M3621 1977h0M3461 1924h0M3451 1990h0M3608 1924h0M3401 1991h0M3411 1950h0M3666 1781h0M3693 1802h0M3641 1890h0M3540 1891h0M3678 2005h0M3417 1854h0M3535 1982h0M3436 1999h0M3544 1929h0M3532 1928h0M3701 1811h0M3570 1969h0M3404 1854h0M3444 1870h0M3596 1891h0M3487 1951h0M3509 1981h0M3714 2009h0M3409 1839h0M3604 1830h0M3530 1902h0M3794 1777h0M3469 1931h0M3452 1834h0M3648 2000h0M3766 1797h0M3641 1912h0M3810 1808h0M3443 1973h0M3532 2003h0M3492 1931h0M3691 2003h0M3395 1936h0M3825 1846h0M3543 1953h0M3675 1804h0M3541 2002h0M3413 1918h0M3656 2009h0M3381 1879h0M3638 1805h0M3391 1918h0M3415 2008h0M3748 1790h0M3517 1966h0M3546 1939h0M3507 1956h0M3690 1791h0M3462 1998h0M3405 2003h0M3540 1905h0M3503 1966h0M3434 1853h0M3644 1991h0M3492 1918h0M3387 1878h0M3651 1831h0M3554 1915h0M3522 1952h0M3679 2001h0M3537 1962h0M3533 1980h0M3450 1900h0M3654 1985h0M3693 1778h0M3628 1858h0M3517 1924h0M3833 1817h0M3398 1909h0M3688 1789h0M3505 1987h0M3465 1844h0M3424 1996h0M3659 1795h0M3518 1929h0M3518 1992h0M3554 1859h0M3565 1871h0M3502 1875h0M3560 1867h0M3557 1982h0M3544 2002h0M3834 1798h0M3467 1981h0M3408 1975h0M3437 1926h0M3428 1925h0M3431 1983h0M3524 1960h0M3577 1951h0M3645 1959h0M3501 1851h0M3549 1994h0M3566 1892h0M3501 1990h0M3741 1803h0M3470 1952h0M3603 1904h0M3695 2026h0M3418 1884h0M3618 1883h0M3443 1987h0M3494 1907h0M3630 2000h0M3676 1807h0M3398 1925h0M3782 1894h0M3543 1880h0M3552 1901h0M3638 1959h0M3751 1786h0M3495 1888h0M3522 1855h0M3361 1928h0M3769 1945h0M3512 1847h0M3660 2003h0M3520 1882h0M3398 1860h0M3603 1932h0M3536 1918h0M3519 2004h0M3445 1927h0M3575 1948h0M3590 1984h0M3462 1973h0M3459 1980h0M3587 1932h0M3559 1905h0M3577 1950h0M3472 2002h0M3569 1875h0M3398 1904h0M3408 1895h0M3537 1884h0M3448 1957h0M3620 2001h0M3428 1949h0M3395 1908h0M3595 1953h0M3619 1858h0M3398 1872h0M3565 1876h0M3586 1883h0M3594 1902h0M3765 1805h0M3596 1933h0M3597 1833h0M3397 1924h0M3594 1970h0M3558 1878h0M3548 1864h0M3854 1833h0M3511 1840h0M3677 1803h0M3392 1915h0M3563 1977h0M3494 1979h0M3795 1778h0M3770 1915h0M3465 1988h0M3422 1984h0M3626 1892h0M3590 1999h0M3648 1900h0M3601 1923h0M3747 1971h0M3602 1990h0M3590 1863h0M3403 1932h0M3602 1849h0M3623 1993h0M3573 1957h0M3621 1891h0M3765 1937h0M3511 1971h0M3615 1943h0M3750 1962h0M3544 2004h0M3403 1894h0M3641 1952h0M3445 1827h0M3568 1858h0M3451 1900h0M3416 1875h0M3812 1783h0M3388 1958h0M3759 1948h0M3607 1953h0M3507 2007h0M3376 1915h0M3601 1984h0M3603 1867h0M3477 1855h0M3790 1896h0M3642 1792h0M3549 1826h0M3362 1953h0M3649 2006h0M3513 1847h0M3349 1923h0M3781 1912h0M3565 1884h0M3536 1974h0M3588 1890h0M3446 1860h0M3788 1909h0M3629 1917h0M3559 1926h0M3438 1926h0M3566 1981h0M3622 1866h0M3641 1922h0M3509 1942h0M3582 1857h0M3542 1970h0M3497 1887h0M3413 1993h0M3727 2000h0M3431 1916h0M3350 1944h0M3334 1920h0M3460 1861h0M3802 1810h0M3447 1923h0M3391 1955h0M3426 1872h0M3599 1887h0M3415 1915h0M3619 1942h0M3464 1867h0M3463 1865h0M3799 1800h0M3623 1956h0M3582 1851h0M3475 1865h0M3626 1945h0M3418 1939h0M3575 1911h0M3590 1852h0M3409 1991h0M3636 1949h0M3509 1942h0M3357 1935h0M3618 1992h0M3415 1945h0M3502 1966h0M3509 1924h0M3367 1939h0M3529 1864h0M3429 1940h0M3643 1935h0M3504 1930h0M3605 1899h0M3586 1907h0M3460 1928h0M3508 2012h0M3819 1789h0M3636 1997h0M3437 1959h0M3673 1804h0M3621 1999h0M3577 1971h0M3536 1900h0M3496 1830h0M3567 1976h0M3703 1985h0M3463 1923h0M3397 1851h0M3447 1891h0M3540 1885h0M3591 1939h0M3513 2024h0M3454 1929h0M3513 1966h0M3505 1980h0M3633 1856h0M3574 1911h0M3456 2000h0M3407 1863h0M3529 1933h0M3456 1975h0M3594 1881h0M3453 1993h0M3501 1843h0M3623 1952h0M3567 1937h0M3419 1909h0M3476 1882h0M3485 1871h0M3407 1927h0M3516 1965h0M3556 1856h0M3669 1813h0M3819 1812h0M3430 1966h0M3637 1893h0M3540 1945h0M3447 1973h0M3713 2005h0M3847 1797h0M3681 1995h0M3417 1862h0M3702 1798h0M3822 1793h0M3538 1878h0M3393 1975h0M3633 1854h0M3574 1905h0M3670 2006h0M3666 2016h0M3569 1973h0M3410 1851h0M3425 1913h0M3520 1902h0M3604 1992h0M3435 1874h0M3333 1967h0M3392 1914h0M3509 2000h0M3497 2016h0M3565 1902h0M3624 1972h0M3489 1856h0M3495 1935h0M3510 1907h0M3559 1989h0M3395 1908h0M3670 1794h0M3689 1790h0M3354 1971h0M3418 1946h0M3535 1954h0M3454 2006h0M3545 1985h0M3815 1775h0M3424 1926h0M3454 1917h0M3611 1862h0M3436 1889h0M3412 1969h0M3595 1954h0M3416 1978h0M3388 1998h0M3453 1946h0M3420 1912h0M3670 2015h0M3777 1948h0M3424 1935h0M3386 1933h0M3487 1988h0M3467 1862h0M3435 1887h0M3558 1876h0M3568 1996h0M3822 1843h0M3539 1894h0M3705 2004h0M3665 2020h0M3432 1932h0M3352 1917h0M3845 1830h0M3438 1933h0M3731 1982h0M3456 1899h0M3479 1911h0M3649 1901h0M3618 1812h0M3418 1983h0M3516 1909h0M3503 1995h0M3635 1989h0M3402 1879h0M3744 1792h0M3785 1787h0M3572 1973h0M3542 1995h0M3559 1847h0M3369 1894h0M3641 1829h0M3530 1923h0M3369 1968h0M3576 1921h0M3771 1805h0M3588 1849h0M3473 1909h0M3612 1986h0M3500 1945h0M3579 1864h0M3622 1925h0M3604 1907h0M3614 1869h0M3457 2009h0M3626 1895h0M3421 1888h0M3463 1925h0M3596 1837h0M3649 1885h0M3618 1971h0M3441 1835h0M3517 1989h0M3470 1860h0M3562 1996h0M3444 1979h0M3609 1926h0M3596 1888h0M3462 2002h0M3391 1910h0M3617 1963h0M3422 1880h0M3587 1921h0M3539 1901h0M3455 1993h0M3621 1849h0M3507 1989h0M3636 1923h0M3526 1853h0M3469 1940h0M3375 1876h0M3634 1984h0M3622 1997h0M3567 1910h0M3509 1948h0M3392 1922h0M3783 1935h0M3459 1917h0M3634 1831h0M3468 1911h0M3602 1913h0M3535 1950h0M3592 1988h0M3822 1805h0M3473 1957h0M3628 1866h0M3417 1980h0M3825 1856h0M3735 1965h0M3463 2008h0M3560 1965h0M3563 1930h0M3513 1955h0M3544 1929h0M3363 1902h0M3401 1947h0M3658 2010h0M3634 1981h0M3509 1948h0M3537 1857h0M3686 1784h0M3521 1952h0M3522 1846h0M3430 1986h0M3444 2001h0M3813 1813h0M3417 1860h0M3528 1947h0M3502 1930h0M3528 1863h0M3810 1861h0M3569 1963h0M3615 1890h0M3394 1849h0M3373 1974h0M3638 1816h0M3396 1905h0M3765 1957h0M3626 1864h0M3589 1882h0M3773 1919h0M3515 1883h0M3485 1983h0M3609 1844h0M3396 1989h0M3500 1858h0M3422 1905h0M3476 1855h0M3396 1978h0M3648 1879h0M3405 1934h0M3780 1785h0M3405 1874h0M3623 1917h0M3757 1948h0M3612 1834h0M3765 1810h0M3807 1869h0M3469 1839h0M3431 1831h0M3383 1865h0M3561 1939h0M3502 1869h0M3653 1796h0M3438 1904h0M3760 1796h0M3488 1988h0M3598 1910h0M3814 1786h0M3371 1892h0M3774 1977h0M3551 1866h0M3572 1936h0M3411 1979h0M3520 1996h0M3486 2010h0M3630 2000h0M3665 1805h0M3456 1971h0M3397 1996h0M3624 1866h0M3626 1879h0M3517 1844h0M3425 1858h0M3511 1879h0M3578 1980h0M3598 1985h0M3795 1913h0M3415 1849h0M3400 2001h0M3545 1849h0M3635 2018h0M3344 1947h0M3612 1983h0M3451 1892h0M3623 1930h0M3529 1961h0M3512 1970h0M3840 1813h0M3454 1855h0M3386 1910h0M3556 1959h0M3569 1955h0M3535 1981h0M3538 1951h0M3695 1802h0M3506 1951h0M3793 1804h0M3432 1848h0M3481 1969h0M3600 1930h0M3385 1890h0M3814 1786h0M3361 1950h0M3504 2009h0M3635 1880h0M3847 1837h0M3443 1929h0M3377 1882h0M3478 1951h0M3485 1966h0M3562 1866h0M3489 1912h0M3557 2015h0M3358 1950h0M3493 2009h0M3479 1867h0M3544 1880h0M3538 1842h0M3530 1922h0M3795 1780h0M3641 1952h0M3595 1864h0M3378 1868h0M3461 1943h0M3594 1947h0M3684 2016h0M3489 1900h0M3515 1866h0M3407 1982h0M3579 1985h0M3378 1965h0M3545 1999h0M3398 1922h0M3667 2004h0M3541 2011h0M3475 1894h0M3634 1905h0M3472 2004h0M3562 1875h0M3692 1808h0M3502 1992h0M3524 1863h0M3551 1928h0M3475 1864h0M3490 1930h0M3535 1863h0M3565 1943h0M3533 1874h0M3443 1918h0M3492 1942h0M3370 1943h0M3423 1895h0M3533 1981h0M3413 1898h0M3363 1964h0M3637 1881h0M3428 1888h0M3622 1993h0M3462 1855h0M3559 1980h0M3534 1847h0M3523 1868h0M3523 1868h0M3435 1950h0M3614 1910h0M3684 2003h0M3600 1993h0M3541 1992h0M3644 1814h0M3636 1934h0M3435 1904h0M3553 1855h0M3517 1915h0M3397 1856h0M3584 1888h0M3494 1942h0M3551 1893h0M3633 2028h0M3584 1836h0M3480 1853h0M3436 1917h0M3582 1839h0M3632 2017h0M3614 1997h0M3704 1800h0M3517 1930h0M3625 2023h0M3516 1975h0M3516 1897h0M3811 1880h0M3397 1968h0M3773 1941h0M3667 2014h0M3466 1927h0M3442 1895h0M3491 1972h0M3458 1961h0M3844 1822h0M3655 2026h0M3448 1881h0M3617 1817h0M3601 1873h0M3622 1855h0M3380 1932h0M3488 2011h0M3419 1949h0M3519 1953h0M3773 1809h0M3453 1984h0M3571 1893h0M3477 1986h0M3537 1954h0M3806 1806h0M3465 1964h0M3450 1947h0M3733 1794h0M3735 1803h0M3484 1875h0M3559 1871h0M3610 1880h0M3434 1926h0M3495 1893h0M3589 2058h0M3739 1798h0M3545 1998h0M3430 1926h0M3410 1864h0M3776 1796h0M3542 1872h0M3621 1922h0M3489 1843h0M3545 1965h0M3551 1941h0M3649 1800h0M3520 1906h0M3427 1969h0M3419 1989h0M3626 1993h0M3645 1866h0M3527 1969h0M3394 1983h0M3535 1985h0M3370 1961h0M3376 1958h0M3539 1933h0M3769 1955h0M3414 1954h0M3810 1794h0M3809 1805h0M3666 1784h0M3591 1849h0M3644 1987h0M3605 1827h0M3397 1900h0M3592 1888h0M3789 1905h0M3508 1941h0M3685 1808h0M3462 1854h0M3835 1803h0M3775 1792h0M3425 1868h0M3458 1980h0M3725 2015h0M3658 1804h0M3343 1940h0M3450 1968h0M3423 1841h0M3413 1984h0M3703 1806h0M3611 1890h0M3458 1853h0M3578 1875h0M3498 1956h0M3453 1890h0M3643 1789h0M3477 1932h0M3623 1833h0M3517 1937h0M3498 1917h0M3643 1879h0M3496 1870h0M3417 1857h0M3563 1929h0M3526 1967h0M3571 1949h0M3421 1866h0M3606 1924h0M3728 1801h0M3577 1952h0M3678 1779h0M3507 1972h0M3374 1979h0M3456 1849h0M3712 2004h0M3439 1978h0M3774 1779h0M3559 1862h0M3634 1882h0M3700 2014h0M3482 1825h0M3413 1991h0M3496 1867h0M3468 1909h0M3423 1955h0M3736 1805h0M3698 1989h0M3423 1930h0M3430 1892h0M3579 1967h0M3391 1936h0M3375 1978h0M3525 1839h0M3362 1944h0M3428 1920h0M3662 1812h0M3725 1986h0M3589 1989h0M3611 1846h0M3616 2036h0M3761 1795h0M3776 1979h0M3458 1876h0M3781 1808h0M3422 1991h0M3775 1810h0M3583 1875h0M3583 1932h0M3450 1908h0M3362 1935h0M3530 1957h0M3773 1809h0M3791 1791h0M3697 1793h0M3428 1899h0M3725 1972h0M3598 1993h0M3457 1963h0M3366 1975h0M3564 1890h0M3613 1871h0M3443 1884h0M3510 1913h0M3457 1899h0M3566 1884h0M3415 1979h0M3617 1854h0M3464 2005h0M3732 1988h0M3737 1983h0M3544 1942h0M3567 1865h0M3574 1907h0M3473 2035h0M3629 1830h0M3670 1998h0M3596 1869h0M3705 2012h0M3528 1906h0M3734 1803h0M3757 1784h0M3395 1929h0M3470 1934h0M3656 2026h0M3390 1967h0M3411 1950h0M3596 1936h0M3553 1926h0M3643 2000h0M3635 1831h0M3613 1972h0M3677 1810h0M3528 1902h0M3528 1831h0M3554 1896h0M3629 1933h0M3758 1941h0M3562 1897h0M3579 1943h0M3645 2023h0M3487 1844h0M3601 1836h0M3478 1897h0M3532 1956h0M3528 1866h0M3594 1889h0M3699 1802h0M3633 1901h0M3438 1963h0M3761 1780h0M3605 1960h0M3519 1985h0M3610 1944h0M3380 1906h0M3430 1853h0M3465 1874h0M3643 1880h0M3590 1876h0M3401 1923h0M3780 1779h0M3373 1899h0M3428 1967h0M3560 1936h0M3801 1786h0M3473 1927h0M3604 1842h0M3832 1828h0M3446 1864h0M3514 1884h0M3356 1933h0M3392 1860h0M3424 1877h0M3383 1923h0M3477 1988h0M3689 1808h0M3495 1961h0M3585 1844h0M3631 1811h0M3613 1964h0M3502 1901h0M3582 1858h0M3523 1913h0M3533 2028h0M3613 1968h0M3396 1944h0M3630 1911h0M3831 1807h0M3426 1942h0M3381 1854h0M3532 1872h0M3528 1908h0M3604 1886h0M3628 2006h0M3435 1877h0M3631 1939h0M3479 1887h0M3413 1942h0M3640 1945h0M3398 1979h0M3457 1850h0M3601 1911h0M3378 1925h0M3580 1838h0M3435 1962h0M3549 1995h0M3526 1977h0M3591 1964h0M3513 1844h0M3392 1999h0M3475 1920h0M3446 1934h0M3385 1948h0M3691 1792h0M3394 1944h0M3738 1982h0M3685 1796h0M3577 1862h0M3491 1921h0M3474 1948h0M3636 1814h0M3452 1896h0M3358 1902h0M3404 1846h0M3510 1841h0M3487 1991h0M3402 1925h0M3639 1836h0M3544 1970h0M3506 1850h0M3568 1922h0M3645 1808h0M3622 1854h0M3370 1936h0M3525 1909h0M3499 1878h0M3468 1886h0M3506 1893h0M3441 1886h0M3827 1814h0M3596 1895h0M3518 1983h0M3757 1965h0M3619 1919h0M3577 1969h0M3638 1998h0M3562 1947h0M3560 1909h0M3475 1914h0M3544 1872h0M3352 1952h0M3597 1994h0M3597 2014h0M3504 1933h0M3506 1984h0M3504 1990h0M3436 1995h0M3437 1870h0M3394 1875h0M3537 1848h0M3575 2029h0M3745 1778h0M3571 2002h0M3478 1873h0M3636 1963h0M3616 1901h0M3595 1979h0M3557 1921h0M3352 1938h0M3624 1895h0M3557 1995h0M3404 1893h0M3457 1939h0M3546 1969h0M3592 1916h0M3502 1830h0M3686 1807h0M3346 1943h0M3585 1891h0M3622 1890h0M3554 1998h0M3622 1897h0M3507 1934h0M3702 1991h0M3356 1965h0M3479 2000h0M3414 1876h0M3538 1837h0M3522 1878h0M3718 2016h0M3506 1968h0M3598 1835h0M3736 1793h0M3566 1955h0M3456 1876h0M3451 1869h0M3703 1799h0M3755 1961h0M3465 2007h0M3393 1947h0M3575 2003h0M3482 1878h0M3600 1956h0M3549 1891h0M3542 1879h0M3722 1802h0M3346 1940h0M3632 1993h0M3758 1806h0M3636 1867h0M3691 1792h0M3421 1992h0M3473 1996h0M3588 1881h0M3723 1992h0M3466 1959h0M3479 1959h0M3534 1986h0M3529 1958h0M3529 1995h0M3595 1919h0M3548 2020h0M3642 1823h0M3708 1998h0M3667 1988h0M3639 1966h0M3647 1925h0M3518 2011h0M3594 1835h0M3641 2032h0M3484 2007h0M3688 1807h0M3550 1834h0M3631 1915h0M3473 2006h0M3575 1920h0M3848 1795h0M3601 1840h0M3814 1838h0M3383 1953h0M3561 1978h0M3531 1908h0M3640 1951h0M3682 1793h0M3560 1865h0M3557 1927h0M3592 1839h0M3630 1865h0M3587 2018h0M3525 1963h0M3452 1878h0M3649 2016h0M3523 1862h0M3668 2027h0M3607 1979h0M3442 1869h0M3697 1787h0M3473 1908h0M3492 1956h0M3539 1979h0M3466 1944h0M3424 1993h0M3578 1864h0M3788 1903h0M3431 1935h0M3661 1814h0M3548 1971h0M3669 1991h0M3817 1856h0M3660 1989h0M3613 1876h0M3613 1879h0M3403 1973h0M3425 2014h0M3666 2014h0M3603 1965h0M3619 1998h0M3372 1899h0M3420 1991h0M3599 1852h0M3492 1988h0M3565 1864h0M3598 1864h0M3357 1958h0M3821 1839h0M3414 1897h0M3592 1936h0M3542 1987h0M3424 1933h0M3627 2018h0M3632 1885h0M3621 1873h0M3651 2000h0M3433 2008h0M3599 2005h0M3566 1922h0M3712 1995h0M3413 1922h0M3433 1850h0M3698 1788h0M3518 1983h0M3647 1803h0M3481 1879h0M3398 1963h0M3450 1904h0M3454 1964h0M3758 1948h0M3470 1903h0M3825 1812h0M3534 1951h0M3444 1866h0M3581 1991h0M3577 1931h0M3479 1959h0M3435 2010h0M3640 1849h0M3513 1954h0M3603 1831h0M3516 1908h0M3787 1915h0M3739 1971h0M3445 1862h0M3478 1859h0M3788 1803h0M3642 2018h0M3490 1990h0M3743 1801h0M3610 1909h0M3532 1935h0M3755 1964h0M3559 1966h0M3579 1890h0M3455 1854h0M3661 1988h0M3641 1802h0M3637 1885h0M3467 1835h0M3359 1927h0M3592 1928h0M3399 1949h0M3783 1799h0M3562 1931h0M3403 1861h0M3647 1810h0M3611 1934h0M3668 1986h0M3616 1951h0M3650 1980h0M3622 1909h0M3777 1929h0M3407 1866h0M3456 1886h0M3741 1791h0M3487 1995h0M3775 1797h0M3462 1960h0M3526 2008h0M3479 1995h0M3587 1866h0M3818 1817h0M3558 1857h0M3560 1995h0M3620 1921h0M3399 1892h0M3531 1967h0M3547 1950h0M3381 1944h0M3507 1953h0M3544 1874h0M3508 1968h0M3761 1785h0M3388 1954h0M3808 1786h0M3736 1981h0M3373 1956h0M3537 1868h0M3507 1989h0M3665 1991h0M3746 1807h0M3630 1808h0M3632 1819h0M3392 1936h0M3607 1885h0M3658 1990h0M3389 1939h0M3510 1835h0M3541 1983h0M3672 1795h0M3410 1851h0M3416 1862h0M3413 1896h0M3418 1990h0M3594 1982h0M3835 1806h0M3747 1806h0M3395 1975h0M3762 1937h0M3535 1926h0M3439 1872h0M3788 1800h0M3488 1869h0M3683 1797h0M3506 1990h0M3387 1884h0M3586 1998h0M3427 2003h0M3370 1896h0M3682 1791h0M3790 1797h0M3642 1867h0M3410 1853h0M3439 1912h0M3628 1994h0M3600 1906h0M3720 1994h0M3527 1898h0M3507 1894h0M3473 1919h0M3380 1985h0M3405 1982h0M3629 1876h0M3548 2013h0M3459 1888h0M3469 1920h0M3620 1965h0M3488 1981h0M3547 1937h0M3669 1801h0M3467 1871h0M3534 2005h0M3415 1866h0M3516 1971h0M3660 2006h0M3464 1878h0M3516 2001h0M3630 1949h0M3616 1871h0M3405 1920h0M3590 1946h0M3736 1989h0M3577 1951h0M3503 2004h0M3589 1923h0M3633 1961h0M3487 1847h0M3518 1899h0M3768 1928h0M3506 1841h0M3696 1787h0M3754 1981h0M3476 1977h0M3451 1861h0M3512 1937h0M3518 1866h0M3539 1895h0M3753 1808h0M3364 1917h0M3629 1977h0M3480 1992h0M3638 2022h0M3580 1902h0M3552 1927h0M3617 1897h0M3601 1876h0M3381 1872h0M3659 1757h0M3462 2011h0M3532 1868h0M3557 1911h0M3502 1976h0M3605 1885h0M3643 1907h0M3624 1951h0M3431 1863h0M3625 1822h0M3527 1871h0M3486 1932h0M3626 1852h0M3651 1995h0M3550 1986h0M3471 1867h0M3574 1855h0M3432 1994h0M3539 1983h0M3473 2016h0M3652 1806h0M3635 1925h0M3425 1888h0M3458 1893h0M3511 1944h0M3474 1952h0M3534 1945h0M3534 1993h0M3763 1935h0M3560 1868h0M3608 2009h0M3494 1942h0M3489 1957h0M3503 1898h0M3593 1949h0M3608 1861h0M3398 1943h0M3588 1939h0M3489 1898h0M3381 1945h0M3633 1916h0M3559 1894h0M3755 1947h0M3505 1923h0M3734 2002h0M3724 1992h0M3623 1880h0M3425 1874h0M3600 1888h0M3359 1964h0M3673 1788h0M3618 1835h0M3702 1803h0M3436 1935h0M3416 2012h0M3611 1949h0M3513 1890h0M3519 1912h0M3483 1919h0M3535 1977h0M3565 1960h0M3477 1853h0M3422 1942h0M3474 1885h0M3510 1876h0M3422 1955h0M3447 1939h0M3407 1994h0M3493 1871h0M3709 2015h0M3436 1933h0M3511 1831h0M3695 2001h0M3749 1783h0M3382 1989h0M3622 1857h0M3471 1930h0M3586 1932h0M3408 1839h0M3462 1957h0M3662 2008h0M3411 1948h0M3492 1927h0M3425 1965h0M3444 1894h0M3632 1891h0M3622 1925h0M3434 1889h0M3629 2006h0M3642 1958h0M3618 1843h0M3455 1827h0M3598 1968h0M3585 1991h0M3678 2002h0M3551 1929h0M3541 2005h0M3814 1814h0M3576 1930h0M3588 1957h0M3613 1936h0M3502 1861h0M3456 1868h0M3609 1922h0M3645 1987h0M3449 1980h0M3585 1956h0M3807 1794h0M3558 2008h0M3841 1800h0M3497 1993h0M3495 2034h0M3442 1937h0M3604 1927h0M3383 1967h0M3479 1905h0M3395 1852h0M3536 1834h0M3597 1941h0M3393 1945h0M3510 1926h0M3548 1844h0M3688 2008h0M3583 1881h0M3669 1800h0M3394 1893h0M3618 1946h0M3362 1962h0M3571 1931h0M3567 1987h0M3452 1853h0M3606 1791h0M3569 1832h0M3539 1825h0M3614 1811h0M3628 1812h0M3370 1847h0M3567 1812h0M3480 1834h0M3358 1886h0M3522 1813h0M3624 1782h0M3402 1816h0M3589 1793h0M3571 1802h0M3550 1815h0M3498 1835h0M3625 1791h0M3587 1822h0M3650 1778h0M3542 1805h0M3606 1815h0M3594 1792h0M3440 1823h0M3485 1810h0M3553 1814h0M3575 1832h0M3431 1815h0M3544 1809h0M3520 1801h0M3339 1828h0M3381 1824h0M3426 1819h0M3613 1783h0M3364 1842h0M3438 1816h0M3435 1828h0M3519 1816h0M3508 1823h0M3554 1829h0M3537 1829h0M3469 1820h0M3368 1836h0M3526 1838h0M3627 1813h0M3537 1810h0M3489 1823h0M3474 1813h0M3561 1788h0M3333 1827h0M3581 1805h0M3543 1853h0M3555 1827h0M3599 1819h0M3462 1845h0M3560 1822h0M3370 1836h0M3576 1806h0M3542 1828h0M3510 1802h0M3606 1786h0M3506 1811h0M3605 1809h0M3499 1824h0M3602 1799h0M3598 1814h0M3572 1802h0M3347 1843h0M3580 1825h0M3452 1826h0M3364 1837h0M3388 1834h0M3639 1795h0M3556 1817h0M3560 1801h0M3367 1831h0M3361 1865h0M3589 1779h0M3530 1800h0M3525 1806h0M3538 1831h0M3482 1821h0M3468 1819h0M3554 1833h0M3644 1789h0M3600 1827h0M3544 1799h0M3572 1808h0M3596 1782h0M3551 1799h0M3426 1833h0M3566 1798h0M3597 1809h0M3545 1802h0M3584 1804h0M3481 1808h0M3359 1837h0M3576 1822h0M3605 1780h0M3332 1840h0M3608 1809h0M3551 1797h0M3476 1802h0M3563 1808h0M3511 1833h0M3608 1796h0M3348 1834h0M3591 1797h0M3487 1826h0M3512 1817h0M3351 1818h0M3487 1823h0M3603 1772h0M3546 1845h0M3593 1786h0M3405 1817h0M3341 1833h0M3348 1845h0M3560 1787h0M3584 1803h0M3566 1839h0M3380 1844h0M3398 1824h0M3362 1826h0M3341 1833h0M3599 1815h0M3378 1829h0M3401 1827h0M3513 1806h0M3590 1807h0M3397 1816h0M3583 1801h0M3611 1819h0M3495 1811h0M3626 1790h0M3582 1789h0M3601 1783h0M3614 1781h0M3488 1811h0M3343 1845h0M3549 1830h0M3402 1826h0M3610 1812h0M3580 1823h0M3505 1812h0M3460 1812h0M3598 1838h0M3430 1838h0M3441 1828h0M3487 1801h0M3562 1790h0M3430 1811h0M3606 1812h0M3443 1821h0M3623 1809h0M3492 1813h0M3496 1810h0M3613 1785h0M3507 1810h0M3636 1797h0M3611 1799h0M3513 1822h0M3347 1839h0M3532 1822h0M3352 1845h0M3352 1844h0M3470 1814h0M3506 1811h0M3426 1836h0M3456 1823h0M3555 1797h0M3551 1822h0M3395 1828h0M3545 1830h0M3622 1779h0M3630 1785h0M3518 1821h0M3577 1827h0M3370 1842h0M3548 1785h0M3486 1819h0M3495 1794h0M3485 1804h0M3341 1825h0M3579 1822h0M3497 1816h0M3546 1834h0M3548 1807h0M3374 1826h0M3427 1828h0M3530 1821h0M3569 1796h0M3479 1800h0M3629 1775h0M3522 1797h0M3619 1783h0M3483 1863h0M3590 1820h0M3492 1822h0M3497 1842h0M3599 1793h0M3448 1828h0M3495 1815h0M3595 1795h0M3578 1799h0M3583 1782h0M3376 1841h0M3494 1814h0M3331 1835h0M3515 1831h0M3549 1830h0M3556 1813h0M3594 1821h0M3639 1796h0M3363 1840h0M3549 1814h0M3424 1831h0M3606 1801h0M3591 1833h0M3439 1822h0M3631 1811h0M3579 1793h0M3352 1830h0M3558 1821h0M3590 1808h0M3532 1815h0M3560 1824h0M3576 1835h0M3395 1838h0M3527 1806h0M3533 1853h0M3564 1821h0M3566 1818h0M3641 1795h0M3535 1832h0M3488 1802h0M3511 1811h0M3530 1790h0M3567 1817h0M3500 1809h0M3615 1797h0M3526 1814h0M3459 1842h0M3505 1823h0M3458 1815h0M3515 1795h0M3539 1790h0M3636 1787h0M3607 1836h0M3600 1828h0M3442 1813h0M3617 1827h0M3572 1818h0M3352 1848h0M3552 1800h0M3434 1825h0M3476 1816h0M3345 1836h0M3548 1841h0M3621 1815h0M3623 1813h0M3338 1844h0M3632 1805h0M3521 1829h0M3425 1838h0M3350 1850h0M3519 1817h0M3391 1835h0M3562 1835h0M3475 1813h0M3627 1807h0M3385 1829h0M3570 1811h0M3486 1794h0M3554 1844h0M3607 1826h0M3349 1840h0M3504 1814h0M3486 1806h0M3597 1817h0M3567 1822h0M3602 1805h0M3346 1821h0M3364 1834h0M3504 1804h0M3559 1795h0M3492 1801h0M3573 1798h0M3633 1801h0M3545 1819h0M3453 1818h0M3571 1802h0M3617 1812h0M3578 1806h0M3495 1805h0M3562 1830h0M3582 1797h0M3638 1811h0M3356 1849h0M3438 1802h0M3539 1796h0M3460 1820h0M3413 1829h0M3624 1814h0M3519 1847h0M3489 1825h0M3561 1794h0M3549 1834h0M3618 1807h0M3621 1788h0M3569 1843h0M3332 1836h0M3516 1793h0M3414 1821h0M3578 1797h0M3601 1802h0M3518 1808h0M3526 1820h0M3634 1810h0M3641 1795h0M3511 1832h0M3642 1784h0M3525 1824h0M3574 1782h0M3399 1817h0M3355 1827h0M3410 1833h0M3559 1794h0M3498 1818h0M3595 1812h0M3614 1800h0M3293 1862h0M3378 1947h0M3297 2025h0M3360 2022h0M3373 1842h0M3377 1995h0M3289 2017h0M3365 2009h0M3296 2005h0M3338 1955h0M3309 1999h0M3345 1999h0M3339 1941h0M3350 2043h0M3373 1855h0M3356 2045h0M3361 2028h0M3390 1875h0M3298 1987h0M3313 2001h0M3359 2002h0M3319 2046h0M3343 1911h0M3302 1980h0M3338 1860h0M3255 1950h0M3323 1874h0M3295 2012h0M3331 1975h0M3321 1864h0M3351 1909h0M3332 1867h0M3397 1855h0M3341 1882h0M3378 2029h0M3337 2008h0M3358 1989h0M3332 1980h0M3307 1899h0M3365 2014h0M3313 1896h0M3360 1974h0M3332 1897h0M3302 1896h0M3311 2017h0M3318 1882h0M3359 2031h0M3309 1854h0M3322 1907h0M3385 2015h0M3349 1966h0M3342 1993h0M3330 1873h0M3321 1964h0M3282 1936h0M3343 1876h0M3313 1998h0M3275 1941h0M3281 1993h0M3342 1942h0M3271 1906h0M3285 1855h0M3358 2001h0M3286 1944h0M3350 1975h0M3337 1921h0M3311 1914h0M3286 1920h0M3370 2013h0M3353 1998h0M3366 2022h0M3332 1894h0M3319 1934h0M3377 1986h0M3391 2029h0M3311 2016h0M3299 1937h0M3355 1906h0M3354 1855h0M3315 2021h0M3334 2044h0M3269 1975h0M3312 1852h0M3299 1882h0M3319 1956h0M3331 1957h0M3341 1914h0M3293 1897h0M3318 1938h0M3291 1988h0M3283 1877h0M3275 1900h0M3376 1851h0M3279 1911h0M3286 1909h0M3340 1902h0M3303 2036h0M3299 1880h0M3300 1871h0M3324 2030h0M3313 1999h0M3390 1987h0M3282 1866h0M3351 1950h0M3377 1997h0M3337 1992h0M3314 1973h0M3337 1851h0M3395 1994h0M3336 1979h0M3287 1838h0M3321 1984h0M3360 1869h0M3334 1994h0M3356 1848h0M3302 2033h0M3350 1971h0M3320 1925h0M3319 1897h0M3353 1859h0M3395 2003h0M3285 1942h0M3279 1851h0M3339 1890h0M3310 2010h0M3324 1911h0M3354 1979h0M3355 1923h0M3275 1879h0M3356 1877h0M3302 1930h0M3290 1925h0M3359 2049h0M3340 2001h0M3383 1997h0M3315 2004h0M3387 2087h0M3383 1966h0M3361 2009h0M3342 1851h0M3355 2009h0M3348 1968h0M3296 1977h0M3295 1936h0M3338 1885h0M3358 1876h0M3397 2033h0M3353 1976h0M3321 1875h0M3363 2037h0M3363 1851h0M3350 1886h0M3323 1892h0M3350 2029h0M3301 1996h0M3303 1914h0M3353 1955h0M3358 2018h0M3372 1870h0M3306 1881h0M3389 1970h0M3293 2013h0M3349 2010h0M3317 1861h0M3323 2030h0M3337 1874h0M3301 1985h0M3335 2009h0M3333 2034h0M3290 1909h0M3324 1855h0M3353 1896h0M3349 1896h0M3338 1855h0M3279 1921h0M3371 1971h0M3347 1846h0M3343 2039h0M3319 1857h0M3334 1976h0M3354 1908h0M3340 1986h0M3348 1959h0M3303 1859h0M3391 1838h0M3271 1930h0M3318 2000h0M3284 1858h0M3277 1950h0M3291 1898h0M3340 1887h0M3351 1910h0M3287 1868h0M3377 1993h0M3353 1852h0M3347 1902h0M3279 1953h0M3386 1873h0M3289 1951h0M3337 2014h0M3346 1923h0M3269 2008h0M3335 1862h0M3366 1867h0M3310 1900h0M3357 1851h0M3290 1978h0M3334 1976h0M3346 1856h0M3310 1880h0M3353 2002h0M3277 2043h0M3361 1998h0M3353 2022h0M3319 2027h0M3291 1918h0M3385 2003h0M3356 2037h0M3299 1910h0M3281 1951h0M3332 1896h0M3361 2010h0M3340 1907h0M3288 1860h0M3293 1932h0M3315 1947h0M3341 1906h0M3336 1950h0M3294 1878h0M3320 1865h0M3378 1938h0M3266 1962h0M3283 1937h0M3299 1922h0M3332 1939h0M3336 2028h0M3317 1919h0M3294 1878h0M3326 1887h0M3350 2013h0M3308 1943h0M3302 1854h0M3306 1985h0M3353 1983h0M3242 1947h0M3365 1978h0M3335 1935h0M3369 1977h0M3359 1899h0M3306 1964h0M3352 1897h0M3316 1968h0M3382 1996h0M3320 1842h0M3340 2039h0M3372 2018h0M3293 2028h0M3330 1889h0M3340 1935h0M3334 1935h0M3359 1859h0M3254 1939h0M3285 1866h0M3354 1865h0M3347 1977h0M3311 1921h0M3298 1921h0M3346 1914h0M3315 1987h0M3329 1950h0M3363 1851h0M3286 1859h0M3349 1875h0M3338 1920h0M3319 1889h0M3387 2004h0M3369 1884h0M3315 2017h0M3284 2010h0M3392 2017h0M3285 1972h0M3312 1968h0M3288 1957h0M3282 1980h0M3336 2033h0M3383 1986h0M3323 1933h0M3379 1979h0M3314 1933h0M3302 2000h0M3282 1954h0M3291 1985h0M3389 1844h0M3369 1889h0M3276 2062h0M3258 2010h0M3309 1900h0M3372 1865h0M3391 1998h0M3320 1977h0M3319 1865h0M3327 2017h0M3332 1890h0M3301 2028h0M3375 1994h0M3317 1918h0M3304 1822h0M3314 1970h0M3374 2014h0M3366 1909h0M3303 1982h0M3304 1886h0M3333 1970h0M3265 1871h0M3373 1838h0M3283 1962h0M3307 1853h0M3326 2026h0M3354 1880h0M3367 2007h0M3349 1846h0M3314 1928h0M3328 1950h0M3299 1860h0M3364 2025h0M3289 1990h0M3312 1838h0M3283 1914h0M3286 1901h0M3342 2034h0M3303 1983h0M3353 1865h0M3327 1962h0M3287 2008h0M3384 2046h0M3325 1918h0M3383 1908h0M3305 1981h0M3370 2005h0M3331 1987h0M3306 1959h0M3375 1860h0M3318 1895h0M3345 1986h0M3271 1945h0M3346 1911h0M3362 1981h0M3302 1901h0M3336 1959h0M3316 1973h0M3318 1984h0M3315 2028h0M3321 1880h0M3315 1838h0M3339 1865h0M3324 1989h0M3322 1866h0M3371 1940h0M3369 1861h0M3317 1988h0M3359 1979h0M3320 1978h0M3277 1873h0M3327 1977h0M3339 1841h0M3392 1872h0M3357 1903h0M3340 2030h0M3360 1849h0M3356 1972h0M3348 1988h0M3321 1949h0M3343 1973h0M3333 2031h0M3282 1931h0M3381 2025h0M3237 1979h0M3342 1932h0M3329 1949h0M3320 1957h0M3289 1925h0M3362 2030h0M3307 1998h0M3293 1974h0M3360 1894h0M3293 1931h0M3260 1884h0M3265 1868h0M3316 1925h0M3347 1872h0M3232 1874h0M3266 1854h0M3223 1952h0M3276 1873h0M3245 1898h0M3245 2005h0M3285 2013h0M3200 1895h0M3213 1994h0M3235 2061h0M3243 2035h0M3236 1897h0M3279 1875h0M3273 2028h0M3278 1842h0M3211 1856h0M3287 1923h0M3219 1967h0M3270 1940h0M3248 1908h0M3268 1980h0M3278 2002h0M3245 1918h0M3281 2064h0M3300 1989h0M3246 1959h0M3268 2031h0M3284 2002h0M3284 1920h0M3273 2055h0M3279 1863h0M3257 1991h0M3270 1917h0M3243 1989h0M3293 2014h0M3202 1937h0M3219 2021h0M3211 2001h0M3242 1915h0M3230 2010h0M3251 1985h0M3308 1962h0M3230 1922h0M3280 1983h0M3225 1932h0M3251 1877h0M3253 1895h0M3265 1936h0M3213 1861h0M3297 1980h0M3284 1971h0M3269 1972h0M3273 1945h0M3278 1886h0M3229 1847h0M3296 1883h0M3233 1865h0M3268 2053h0M3242 2012h0M3245 1870h0M3271 1967h0M3304 1966h0M3248 2028h0M3248 1923h0M3243 1892h0M3257 1926h0M3229 2031h0M3193 1981h0M3241 1952h0M3247 1907h0M3233 1997h0M3275 2007h0M3194 1966h0M3241 2016h0M3285 1847h0M3270 1867h0M3213 2012h0M3236 1853h0M3239 1981h0M3194 1933h0M3283 1957h0M3245 1961h0M3255 2027h0M3273 2010h0M3288 1980h0M3214 1933h0M3253 1865h0M3213 2022h0M3266 2034h0M3270 2018h0M3294 1904h0M3247 1855h0M3271 1952h0M3260 1943h0M3258 1953h0M3222 1963h0M3264 2020h0M3214 1890h0M3237 1984h0M3284 1928h0M3140 1897h0M3159 1987h0M3237 2090h0M3152 1990h0M3138 1934h0M3213 1925h0M3191 1899h0M3237 1909h0M3202 1938h0M3114 1978h0M3162 1958h0M3136 1997h0M3137 1980h0M3272 1914h0M3181 1921h0M3320 2013h0M3240 1923h0M3088 1988h0M3133 1977h0M3106 1960h0M3257 1890h0M3292 1919h0M3209 1887h0M3206 1932h0M3144 1879h0M3158 1886h0M3234 2029h0M3248 1998h0M3246 1948h0M3202 1850h0M3145 2008h0M3173 1966h0M3176 2018h0M3163 1907h0M3233 1990h0M3115 1981h0M3155 1889h0M3127 1965h0M3232 1954h0M3194 1872h0M3140 2020h0M3171 1954h0M3237 2093h0M3168 2016h0M3226 1943h0M3148 2039h0M3229 2011h0M3245 1977h0M3166 1923h0M3189 1939h0M3216 1975h0M3140 1912h0M3126 1922h0M3197 2031h0M3146 1975h0M3148 1936h0M3307 1978h0M3212 1997h0M3221 2154h0M3144 2011h0M3172 1942h0M3159 1854h0M3225 1918h0M3193 2042h0M3162 2035h0M3094 2077h0M3123 1957h0M3207 1973h0M3183 1785h0M3235 2044h0M3160 1948h0M3130 1932h0M3159 1996h0M3180 2013h0M3147 1967h0M3164 1898h0M3119 2100h0M3158 1893h0M3253 1998h0M3104 2001h0M3126 1934h0M3165 1979h0M3184 1968h0M3287 1797h0M3252 1944h0M3127 1988h0M3217 1942h0M3246 2035h0M3127 1845h0M3165 1948h0M3221 1975h0M3156 2027h0M3158 2006h0M3184 1863h0M3124 1972h0M3184 1982h0M3187 1964h0M3244 2049h0M3215 1861h0M3115 2061h0M3353 2037h0M3367 2081h0M3707 2089h0M3401 2023h0M3485 2049h0M3365 2083h0M3273 2073h0M3342 2029h0M3590 2033h0M3576 2040h0M3495 2027h0M3631 2067h0M3491 2075h0M3421 2026h0M3537 2029h0M3474 2024h0M3405 2051h0M3356 1995h0M3622 2031h0M3459 2060h0M3602 2113h0M3358 2060h0M3480 2006h0M3452 2072h0M3400 2046h0M3667 2017h0M3436 2105h0M3653 2035h0M3677 2032h0M3463 2034h0M3498 2019h0M3558 2094h0M3538 2063h0M3497 2013h0M3808 2005h0M3650 2029h0M3538 1998h0M3498 2029h0M3454 2020h0M3546 2104h0M3675 2028h0M3244 2010h0M3551 2110h0M3468 2058h0M3446 2023h0M3572 2005h0M3382 2036h0M3386 2009h0M3685 2027h0M3651 2039h0M3481 2087h0M3576 2014h0M3517 2039h0M3672 2041h0M3544 2088h0M3438 2035h0M3476 2004h0M3561 2023h0M3576 1987h0M3563 2079h0M3357 2104h0M3623 2006h0M3655 2075h0M3620 2014h0M3582 2027h0M3414 2042h0M3558 2097h0M3364 2058h0M3256 2073h0M3467 2068h0M3451 2038h0M3501 2028h0M3539 2035h0M3557 2017h0M3604 1999h0M3417 2064h0M3612 2122h0M3608 2007h0M3179 2050h0M3355 2059h0M3425 2086h0M3611 2025h0M3434 2067h0M3362 2043h0M3544 2061h0M3566 2042h0M3560 2023h0M3393 2034h0M3595 2033h0M3413 2005h0M3522 2041h0M3271 2022h0M3350 2096h0M3584 2086h0M3633 2087h0M3560 2034h0M3646 2079h0M3466 2024h0M3608 1993h0M3656 2070h0M3367 2051h0M3412 2059h0M3490 2053h0M3467 2036h0M3448 2013h0M3558 2092h0M3469 2070h0M3446 2011h0M3430 1956h0M3446 2040h0M3471 2037h0M3632 1978h0M3310 2031h0M3626 2053h0M3465 2116h0M3374 2057h0M3430 2032h0M3649 2033h0M3553 2071h0M3603 2117h0M3521 2106h0M3481 2046h0M3422 2164h0M3533 2040h0M3371 2087h0M3427 2019h0M3639 2032h0M3554 2050h0M3566 2068h0M3416 2117h0M3407 2038h0M3552 2063h0M3567 2052h0M3587 2047h0M3587 2055h0M3527 2054h0M3551 2109h0M3525 2065h0M3505 2047h0M3347 1977h0M3372 2063h0M3370 2055h0M3643 1991h0M3495 2051h0M3480 2040h0M3552 2087h0M3590 2029h0M3506 2026h0M3475 2040h0M3704 2075h0M3753 2080h0M3591 2050h0M3628 2059h0M3373 2013h0M3564 2042h0M3563 2064h0M3250 2084h0M3564 2075h0M3585 2065h0M3384 2043h0M3593 2028h0M3308 2016h0M3572 2053h0M3539 2034h0M3421 2096h0M3463 2071h0M3400 1987h0M3581 2000h0M3563 2076h0M3492 2042h0M3304 2010h0M3640 2026h0M3587 2008h0M3571 2046h0M3540 1991h0M3504 2063h0M3406 2007h0M3525 2007h0M3487 2117h0M3416 2021h0M3319 2065h0M3419 2031h0M3591 2100h0M3526 2054h0M3527 2049h0M3376 2072h0M3533 1986h0M3473 2044h0M3409 2042h0M3602 2034h0M3616 2023h0M3361 2021h0M3471 2098h0M3482 2108h0M3519 1999h0M3379 2103h0M3680 2049h0M3606 2103h0M3585 2055h0M3477 2077h0M3483 2053h0M3704 2057h0M3417 2047h0M3511 2065h0M3484 2044h0M3620 2052h0M3460 2030h0M3461 2063h0M3489 2069h0M3403 1949h0M3539 2071h0M3391 2097h0M3612 2061h0M3415 1966h0M3455 2079h0M3542 2047h0M3634 2068h0M3504 2093h0M3603 2008h0M3591 2080h0M3382 2107h0M3617 2067h0M3340 2047h0M3439 2006h0M3474 2035h0M3562 2016h0M3554 2034h0M3626 2053h0M3481 2062h0M3525 2025h0M3674 2018h0M3664 2021h0M3331 2029h0M3642 2085h0M3497 2046h0M3589 2016h0M3309 2000h0M3513 2051h0M3582 1958h0M3469 2006h0M3525 2060h0M3467 2047h0M3610 2039h0M3460 2037h0M3570 2036h0M3613 2063h0M3436 2006h0M3464 2022h0M3503 1999h0M3581 2083h0M3285 2089h0M3518 2031h0M3645 2000h0M3643 2070h0M3691 2051h0M3343 2072h0M3713 1987h0M3575 2058h0M3324 1997h0M3528 2094h0M3496 2029h0M3627 2032h0M3459 2005h0M3583 2053h0M3610 2060h0M3656 2055h0M3485 2026h0M3618 2062h0M3554 2045h0M3535 2049h0M3627 2048h0M3706 1990h0M3675 2066h0M3666 2062h0M3523 2012h0M3525 2062h0M3626 2104h0M3569 2015h0M3542 2019h0M3362 2092h0M3435 2021h0M3437 2067h0M3581 1964h0M3575 2014h0M3495 2115h0M3515 2094h0M3569 2105h0M3612 2026h0M3615 2019h0M3347 2088h0M3487 2012h0M3534 1982h0M3578 2048h0M3351 2042h0M3476 2073h0M3458 1985h0M3527 2019h0M3579 1991h0M3561 2077h0M3526 2090h0M3651 2143h0M3446 2124h0M3385 2097h0M3501 2157h0M3493 2145h0M3524 2163h0M3402 2139h0M3620 2176h0M3504 2061h0M3511 2100h0M3646 2144h0M3473 2154h0M3572 2164h0M3601 2143h0M3435 2113h0M3551 2155h0M3432 2123h0M3516 2206h0M3446 2142h0M3562 2170h0M3394 2108h0M3396 2116h0M3418 2135h0M3438 2188h0M3577 2148h0M3367 2184h0M3521 2145h0M3610 2089h0M3381 2151h0M3421 2135h0M3406 2121h0M3467 2145h0M3533 2126h0M3489 2088h0M3612 2167h0M3570 2192h0M3630 2033h0M3729 2031h0M3712 2040h0M3705 2033h0M3624 2038h0M3672 2044h0M3684 2098h0M3721 2101h0M3671 2088h0M3630 2046h0M3707 2050h0M3661 2113h0M3689 2046h0M3703 2028h0M3713 2045h0M3664 2083h0M3689 2041h0M3663 2096h0M3661 2045h0M3689 2053h0M3647 2049h0M3660 2106h0M3716 2045h0M3664 2095h0M3700 2039h0M3688 2051h0M3714 2079h0M3682 2103h0M3721 2056h0M3723 2043h0M3686 2066h0M3706 2056h0M3654 2091h0M3709 2056h0M3706 2044h0M3669 2125h0M3734 2040h0M3689 2078h0M3707 2085h0M3722 2044h0M3717 2047h0M3653 2070h0M3693 2087h0M3676 2139h0M3700 2076h0M3672 2037h0M3721 2096h0M3692 2092h0M3720 2040h0M3717 2026h0M3669 2111h0M3692 2104h0M3684 2081h0M3638 2056h0M3666 2109h0M3671 2045h0M3700 2106h0M3717 2052h0M3657 2120h0M3725 2067h0M3679 2117h0M3710 2094h0M3682 2114h0M3675 2043h0M3659 2035h0M3675 2058h0M3697 2030h0M3655 2102h0M3692 2066h0M3687 2043h0M3737 2072h0M3688 2065h0M3709 2086h0M3684 2126h0M3636 2058h0M3711 2042h0M3685 2098h0M3650 2045h0M3656 2086h0M3677 2099h0M3718 2035h0M3692 2045h0M3701 2078h0M3676 2082h0M3665 2141h0M3653 2040h0M3671 2121h0M3665 2121h0M3705 2051h0M3654 2100h0M3678 2080h0M3697 2094h0M3729 2080h0M3725 2065h0M3678 2020h0M3731 2034h0M3673 2069h0M3635 2049h0M3636 2036h0M3693 2104h0M3679 2068h0M3675 2019h0M3645 2078h0M3652 2123h0M3673 2117h0M3658 2040h0M3724 2056h0M3660 2065h0M3665 2055h0M3667 2045h0M3638 2039h0M3672 2107h0M3638 2110h0M3630 2046h0M3692 2083h0M3714 2020h0M3679 2144h0M3709 2052h0M3726 2035h0M3691 2082h0M3644 2081h0M3723 2061h0M3704 2078h0M3670 2134h0M3691 2045h0M3683 2083h0M3639 2065h0M3699 2033h0M3681 2090h0M3681 2129h0M3888 1694h0M3775 1727h0M3814 1706h0M3743 1733h0M3858 1717h0M3871 1693h0M3758 1727h0M3770 1731h0M3816 1714h0M3704 1747h0M3865 1657h0M3767 1711h0M3729 1758h0M3752 1721h0M3874 1707h0M3812 1728h0M3721 1737h0M3812 1726h0M3770 1728h0M3870 1704h0M3823 1718h0M3862 1696h0M3727 1736h0M3753 1734h0M3777 1725h0M3888 1666h0M3829 1714h0M3768 1728h0M3857 1697h0M3892 1706h0M3738 1733h0M3867 1674h0M3837 1740h0M3780 1717h0M3791 1712h0M3815 1701h0M3897 1719h0M3819 1732h0M3857 1722h0M3822 1701h0M3782 1714h0M3888 1664h0M3848 1697h0M3738 1726h0M3706 1757h0M3744 1709h0M3790 1743h0M3714 1751h0M3825 1703h0M3758 1763h0M3846 1703h0M3807 1661h0M3823 1735h0M3815 1693h0M3793 1703h0M3844 1724h0M3739 1747h0M3920 1651h0M3832 1720h0M3874 1697h0M3735 1752h0M3757 1740h0M3830 1711h0M3721 1747h0M3816 1706h0M3781 1741h0M3757 1732h0M3712 1730h0M3821 1714h0M3808 1727h0M3825 1666h0M3868 1693h0M3876 1696h0M3753 1747h0M3832 1707h0M3761 1725h0M3756 1740h0M3920 1685h0M3730 1748h0M3730 1757h0M3788 1742h0M3866 1697h0M3805 1707h0M3775 1717h0M3756 1751h0M3713 1735h0M3823 1718h0M3852 1710h0M3840 1707h0M3871 1721h0M3771 1741h0M3789 1708h0M3862 1723h0M3706 1748h0M3839 1711h0M3709 1739h0M3725 1741h0M3853 1700h0M3752 1734h0M3710 1758h0M3772 1701h0M3765 1737h0M3847 1687h0M3809 1708h0M3866 1674h0M3861 1694h0M3795 1713h0M3676 1751h0M3789 1707h0M3807 1700h0M3715 1734h0M3843 1738h0M3806 1691h0M3786 1713h0M3731 1752h0M3820 1697h0M3790 1722h0M3775 1744h0M3770 1740h0M3908 1705h0M3825 1692h0M3752 1740h0M3682 1742h0M3846 1684h0M3881 1723h0M3731 1732h0M3850 1708h0M3787 1712h0M3764 1728h0M3762 1736h0M3735 1738h0M3757 1716h0M3860 1700h0M3825 1715h0M3868 1702h0M3700 1752h0M3812 1705h0M3818 1700h0M3807 1735h0M3803 1724h0M3756 1754h0M3903 1697h0M3804 1732h0M3782 1697h0M3773 1706h0M3880 1703h0M3788 1719h0M3819 1730h0M3717 1719h0M3787 1720h0M3759 1715h0M3784 1715h0M3789 1723h0M3695 1730h0M3833 1706h0M3769 1719h0M3905 1684h0M3805 1697h0M3862 1703h0M3785 1714h0M3817 1717h0M3721 1727h0M3880 1675h0M3810 1714h0M3852 1684h0M3807 1696h0M3732 1735h0M3748 1724h0M3737 1737h0M3861 1684h0M3843 1715h0M3711 1762h0M3813 1726h0M3718 1756h0M3852 1718h0M3844 1707h0M3893 1657h0M3791 1729h0M3765 1741h0M3750 1732h0M3791 1713h0M3902 1698h0M3874 1694h0M3709 1764h0M3816 1712h0M3855 1730h0M3818 1707h0M3809 1710h0M3802 1719h0M3755 1722h0M3861 1691h0M3825 1715h0M3852 1678h0M3835 1712h0M3853 1700h0M3731 1705h0M3781 1736h0M3871 1684h0M3868 1694h0M3806 1709h0M3701 1748h0M3771 1716h0M3819 1692h0M3839 1690h0M3892 1655h0M3872 1657h0M3701 1735h0M3849 1703h0M3794 1724h0M3828 1705h0M3827 1693h0M3792 1714h0M3841 1703h0M3836 1707h0M3789 1722h0M3750 1742h0M3805 1683h0M3757 1739h0M3827 1670h0M3847 1677h0M3849 1685h0M3858 1706h0M3852 1711h0M3760 1745h0M3758 1719h0M3813 1712h0M3804 1712h0M3876 1683h0M3861 1695h0M3756 1749h0M3692 1733h0M3811 1719h0M3819 1709h0M3823 1703h0M3793 1718h0M3745 1735h0M3808 1705h0M3877 1695h0M3778 1722h0M3740 1749h0M3861 1713h0M3761 1724h0M3856 1692h0M3819 1693h0M3843 1729h0M3733 1731h0M3740 1714h0M3854 1722h0M3758 1726h0M3832 1697h0M3755 1718h0M3861 1681h0M3815 1710h0M3861 1691h0M3876 1709h0M3733 1748h0M3815 1709h0M3829 1732h0M3894 1708h0M3826 1701h0M3842 1722h0M3831 1706h0M3781 1720h0M3859 1685h0M3828 1701h0M3768 1731h0M3851 1677h0M3856 1689h0M3794 1721h0M3813 1719h0M3798 1708h0M3870 1710h0M3728 1749h0M3783 1733h0M3828 1719h0M3746 1727h0M3758 1727h0M3785 1724h0M3865 1684h0M3700 1733h0M3841 1746h0M3878 1711h0M3811 1728h0M3838 1689h0M3811 1704h0M3820 1715h0M3677 1757h0M3817 1701h0M3833 1687h0M3845 1713h0M3736 1742h0M3755 1725h0M3874 1682h0M3770 1725h0M3887 1721h0M3858 1709h0M3806 1717h0M3749 1719h0M3680 1756h0M3831 1692h0M3841 1692h0M3769 1728h0M3797 1743h0M3870 1690h0M3881 1699h0M3835 1693h0M3765 1730h0M3707 1725h0M3737 1743h0M3818 1700h0M3848 1693h0M3910 1650h0M3722 1728h0M3871 1708h0M3770 1723h0M3769 1714h0M3790 1712h0M3743 1737h0M3894 1690h0M3850 1675h0M3740 1737h0M3901 1673h0M3894 1715h0M3853 1701h0M3818 1698h0M3763 1701h0M3748 1720h0M3750 1735h0M3781 1721h0M3880 1679h0M3802 1919h0M3881 1785h0M3787 1920h0M3901 1809h0M3852 1903h0M3831 1918h0M3854 1809h0M3878 1828h0M3831 1856h0M3841 1877h0M3886 1849h0M3867 1841h0M3832 1908h0M3861 1837h0M3875 1804h0M3912 1847h0M3834 1862h0M3889 1805h0M3899 1845h0M3837 1907h0M3852 1855h0M3888 1869h0M3834 1869h0M3784 1929h0M3851 1875h0M3878 1792h0M3893 1866h0M3907 1879h0M3855 1862h0M3863 1785h0M3833 1875h0M3822 1951h0M3812 1916h0M3820 1927h0M3887 1834h0M3882 1871h0M3793 1901h0M3829 1948h0M3868 1899h0M3896 1824h0M3874 1801h0M3866 1897h0M3866 1839h0M3889 1799h0M3809 1904h0M3851 1915h0M3815 1921h0M3864 1784h0M3888 1871h0M3881 1835h0M3844 1880h0M3856 1873h0M3837 1823h0M3847 1874h0M3872 1861h0M3829 1911h0M3881 1783h0M3835 1916h0M3824 1872h0M3882 1827h0M3880 1824h0M3844 1887h0M3783 1935h0M3886 1854h0M3817 1915h0M3889 1809h0M3823 1903h0M3878 1785h0M3872 1888h0M3931 1832h0M3790 1932h0M3860 1885h0M3853 1922h0M3842 1847h0M3876 1883h0M3861 1905h0M3815 1943h0M3841 1779h0M3875 1824h0M3801 1946h0M3887 1853h0M3813 1942h0M3911 1857h0M3796 1939h0M3896 1819h0M3834 1894h0M3843 1852h0M3891 1816h0M3847 1870h0M3885 1843h0M3894 1826h0M3867 1788h0M3907 1839h0M3883 1838h0M3888 1819h0M3859 1909h0M3899 1854h0M3853 1896h0M3808 1909h0M3868 1904h0M3911 1822h0M3878 1779h0M3821 1888h0M3902 1819h0M3873 1796h0M3823 1849h0M3819 1893h0M3850 1861h0M3878 1833h0M3820 1912h0M3876 1795h0M3891 1889h0M3821 1900h0M3896 1838h0M3829 1855h0M3794 1925h0M3798 1896h0M3836 1793h0M3852 1899h0M3802 1887h0M3886 1834h0M3877 1875h0M3855 1826h0M3868 1785h0M3792 1938h0M3882 1799h0M3885 1839h0M3869 1783h0M3855 1826h0M3897 1812h0M3849 1914h0M3861 1826h0M3855 1930h0M3896 1813h0M3818 1891h0M3814 1930h0M3813 1931h0M3871 1779h0M3880 1815h0M3886 1849h0M3825 1947h0M3836 1886h0M3921 1848h0M3858 1788h0M3910 1856h0M3786 1935h0M3849 1827h0M3893 1869h0M3867 1825h0M3896 1858h0M3892 1804h0M3790 1930h0M3848 1786h0M3855 1794h0M3878 1916h0M3842 1909h0M3868 1826h0M3894 1868h0M3829 1876h0M3794 1946h0M3888 1791h0M3884 1872h0M3825 1926h0M3909 1846h0M3866 1858h0M3864 1784h0M3916 1866h0M3869 1823h0M3884 1790h0M3873 1863h0M3849 1923h0M3843 1827h0M3880 1894h0M3882 1829h0M3838 1871h0M3912 1871h0M3880 1806h0M3874 1862h0M3807 1897h0M3869 1918h0M3852 1851h0M3828 1913h0M3819 1927h0M3888 1834h0M3891 1841h0M3837 1902h0M3898 1779h0M3851 1927h0M3819 1885h0M3848 1787h0M3836 1876h0M3813 1925h0M3842 1919h0M3856 1820h0M3805 1914h0M3801 1882h0M3837 1893h0M3864 1787h0M3811 1944h0M3845 1910h0M3568 1707h0M3632 1778h0M3631 1711h0M3632 1736h0M3483 1716h0M3573 1708h0M3596 1734h0M3504 1697h0M3488 1730h0M3536 1768h0M3765 1765h0M3560 1757h0M3656 1728h0M3583 1768h0M3687 1769h0M3734 1743h0M3435 1756h0M3566 1753h0M3716 1687h0M3567 1777h0M3684 1733h0M3588 1771h0M3519 1693h0M3609 1739h0M3447 1812h0M3626 1890h0M3646 1800h0M3704 2004h0M3801 1800h0M3630 1929h0M3729 1810h0M3645 1920h0M3805 1872h0M3697 2008h0M3706 1988h0M3711 1803h0M3640 1797h0M3833 1794h0M3774 1799h0M3721 1789h0M3637 1868h0M3728 1795h0M3745 1981h0M3641 1814h0M3743 1961h0M3831 1825h0M3838 1798h0M3636 1878h0M3638 1933h0M3669 1801h0M3634 1853h0M3628 1980h0M3730 1797h0M3630 1923h0M3675 1804h0M3637 1805h0M3702 1984h0M3672 1797h0M3672 2002h0M3732 1792h0M3663 2014h0M3754 1943h0M3628 1986h0M3644 1991h0M3743 1963h0M3658 1982h0M3812 1804h0M3777 1908h0M3767 1930h0M3741 1970h0M3755 1802h0M3829 1785h0M3652 2015h0M3741 1975h0M3729 1798h0M3751 1802h0M3636 1902h0M3694 1998h0M3654 1813h0M3809 1785h0M3687 1996h0M3643 1925h0M3648 1985h0M3639 1890h0M3695 1787h0M3816 1810h0M3795 1866h0M3771 1939h0M3640 1927h0M3631 1868h0M3739 1792h0M3641 1844h0M3825 1810h0M3623 1995h0M3763 1928h0M3632 1847h0M3793 1886h0M3635 1909h0M3643 1961h0M3618 1861h0M3828 1818h0M3643 1860h0M3829 1807h0M3667 1995h0M3773 1797h0M3616 1936h0M3765 1799h0M3665 1816h0M3759 1935h0M3656 1991h0M3788 1908h0M3638 1819h0M3621 1956h0M3761 1934h0M3606 1948h0M3725 1979h0M3794 1810h0M3733 1984h0M3643 1957h0M3650 1845h0M3647 1817h0M3686 2015h0M3620 1864h0M3737 1791h0M3630 1925h0M3664 2004h0M3815 1786h0M3661 1787h0M3641 1880h0M3822 1837h0M3620 1991h0M3643 1878h0M3655 1794h0M3805 1796h0M3624 1916h0M3659 1813h0M3656 1806h0M3692 1795h0M3808 1787h0M3642 2015h0M3711 1794h0M3706 1810h0M3841 1795h0M3620 1975h0M3691 1992h0M3814 1811h0M3783 1929h0M3631 1914h0M3764 1933h0M3643 1923h0M3806 1784h0M3757 1952h0M3639 1920h0M3787 1901h0M3787 1877h0M3672 2003h0M3637 1956h0M3701 1994h0M3702 1806h0M3665 2001h0M3781 1883h0M3769 1787h0M3640 1925h0M3622 1886h0M3799 1802h0M3688 1802h0M3633 1888h0M3635 1915h0M3637 1969h0M3644 1896h0M3840 1803h0M3620 1891h0M3631 1837h0M3626 1941h0M3639 1890h0M3643 1860h0M3632 1955h0M3689 1790h0M3746 1795h0M3647 1903h0M3670 2000h0M3625 1948h0M3642 1949h0M3615 1947h0M3620 1999h0M3828 1799h0M3636 1991h0M3693 2012h0M3824 1788h0M3629 1997h0M3667 1991h0M3834 1808h0M3650 1844h0M3657 1812h0M3756 1970h0M3615 1935h0M3639 1850h0M3638 1895h0M3812 1849h0M3641 1850h0M3638 1790h0M3684 2004h0M3607 1952h0M3665 1817h0M3776 1900h0M3643 2024h0M3775 1797h0M3651 1996h0M3634 1878h0M3642 1924h0M3834 1798h0M3643 2005h0M3791 1911h0M3770 1913h0M3824 1843h0M3638 1900h0M3632 1922h0M3632 1841h0M3645 1990h0M3693 2006h0M3688 1801h0M3661 1987h0M3771 1790h0" stroke="#6dc8ea" stroke-width="7.1" stroke-linecap="round" fill="none"/><path d="M3694 1956h0M3724 1845h0M3681 1972h0M3720 1875h0M3674 1977h0M3661 1966h0M3696 1930h0M3665 1959h0M3660 1852h0M3704 1971h0M3739 1864h0M3784 1821h0M3759 1917h0M3690 1945h0M3735 1964h0M3740 1834h0M3666 1882h0M3699 1840h0M3746 1913h0M3754 1846h0M3702 1946h0M3792 1824h0M3672 1957h0M3653 1948h0M3650 1865h0M3695 1915h0M3725 1846h0M3712 1914h0M3778 1884h0M3771 1845h0" stroke="#fff" stroke-width="3.6" stroke-linecap="round" fill="none"/></g>
<path d="M1542.2 811.6L1542.2 1141.1L1981 1141.1" fill="none" stroke="#222" stroke-width="1.5"/>
<path d="M1542.2 1129.1h2.8M1542.2 1119.3h2.8M1542.2 1112.4h2.8M1542.2 1107h2.8M1542.2 1102.6h2.8M1542.2 1098.8h2.8M1542.2 1095.6h2.8M1542.2 1092.7h2.8M1542.2 1090.2h5.2M1542.2 1073.4h2.8M1542.2 1063.6h2.8M1542.2 1056.7h2.8M1542.2 1051.3h2.8M1542.2 1046.9h2.8M1542.2 1043.1h2.8M1542.2 1039.9h2.8M1542.2 1037h2.8M1542.2 1034.5h5.2M1542.2 1017.7h2.8M1542.2 1007.9h2.8M1542.2 1001h2.8M1542.2 995.6h2.8M1542.2 991.2h2.8M1542.2 987.4h2.8M1542.2 984.2h2.8M1542.2 981.3h2.8M1542.2 978.8h5.2M1542.2 962h2.8M1542.2 952.2h2.8M1542.2 945.3h2.8M1542.2 939.9h2.8M1542.2 935.5h2.8M1542.2 931.7h2.8M1542.2 928.5h2.8M1542.2 925.6h2.8M1542.2 923.1h5.2M1542.2 906.3h2.8M1542.2 896.5h2.8M1542.2 889.6h2.8M1542.2 884.2h2.8M1542.2 879.8h2.8M1542.2 876h2.8M1542.2 872.8h2.8M1542.2 869.9h2.8M1542.2 867.4h5.2M1542.2 850.6h2.8M1542.2 840.8h2.8M1542.2 833.9h2.8M1542.2 828.5h2.8M1542.2 824.1h2.8M1542.2 820.3h2.8M1542.2 817.1h2.8M1542.2 814.2h2.8" stroke="#222" stroke-width="1.1" fill="none"/>
<path d="M1612.9 1141.1v-3.5M1705.1 1141.1v-3.5M1797.7 1141.1v-3.5M1889.7 1141.1v-3.5M1981 1141.1v-3.5" stroke="#222" stroke-width="1.2" fill="none"/>
<path d="M1542.2 883.7L1981 883.7" stroke="#111" stroke-width="2.1" fill="none" stroke-dasharray="9.2 8.2"/>
<path d="M1848.9 811.6L1848.9 1141.1" stroke="#111" stroke-width="2.1" fill="none" stroke-dasharray="9.2 8.2"/>
<text x="1558.5" y="846.9" font-size="23.6" textLength="58.4" lengthAdjust="spacingAndGlyphs">ROI 1</text>
<text x="1896.7" y="846.9" font-size="23.6" textLength="59.4" lengthAdjust="spacingAndGlyphs">ROI 2</text>
<text x="1556.1" y="1117.7" font-size="23.6" textLength="59.4" lengthAdjust="spacingAndGlyphs">ROI 3</text>
<text x="1896.7" y="1117.7" font-size="23.6" textLength="59.4" lengthAdjust="spacingAndGlyphs">ROI 4</text>
<text x="1560.8" y="805.2" font-size="24.2" textLength="52.6" lengthAdjust="spacingAndGlyphs" font-weight="bold" font-style="italic">34°C</text>
<text x="1474" y="1121.6" font-size="25" textLength="270.6" lengthAdjust="spacingAndGlyphs" transform="rotate(-90 1474 1121.6)">dsGreen intensity (A.U)</text>
<text x="1526" y="890.6" font-size="24" text-anchor="end" textLength="26.2" lengthAdjust="spacingAndGlyphs">10</text>
<text x="1526.4" y="870.2" font-size="15" textLength="8.2" lengthAdjust="spacingAndGlyphs">6</text>
<text x="1526" y="997.5" font-size="24" text-anchor="end" textLength="26.2" lengthAdjust="spacingAndGlyphs">10</text>
<text x="1526.4" y="977.1" font-size="15" textLength="8.2" lengthAdjust="spacingAndGlyphs">4</text>
<text x="1526" y="1103.7" font-size="24" text-anchor="end" textLength="26.2" lengthAdjust="spacingAndGlyphs">10</text>
<text x="1526.4" y="1083.3" font-size="15" textLength="8.2" lengthAdjust="spacingAndGlyphs">2</text>
<text x="1987.8" y="1171.2" font-size="24" text-anchor="end" textLength="26.2" lengthAdjust="spacingAndGlyphs">10</text>
<text x="1988.4" y="1151" font-size="15" textLength="8.2" lengthAdjust="spacingAndGlyphs">5</text>
<text x="1579.4" y="1188.6" font-size="25" textLength="341.6" lengthAdjust="spacingAndGlyphs">LactC2-mCherry intensity (A.U)</text>
</g>
</svg></body></html>
